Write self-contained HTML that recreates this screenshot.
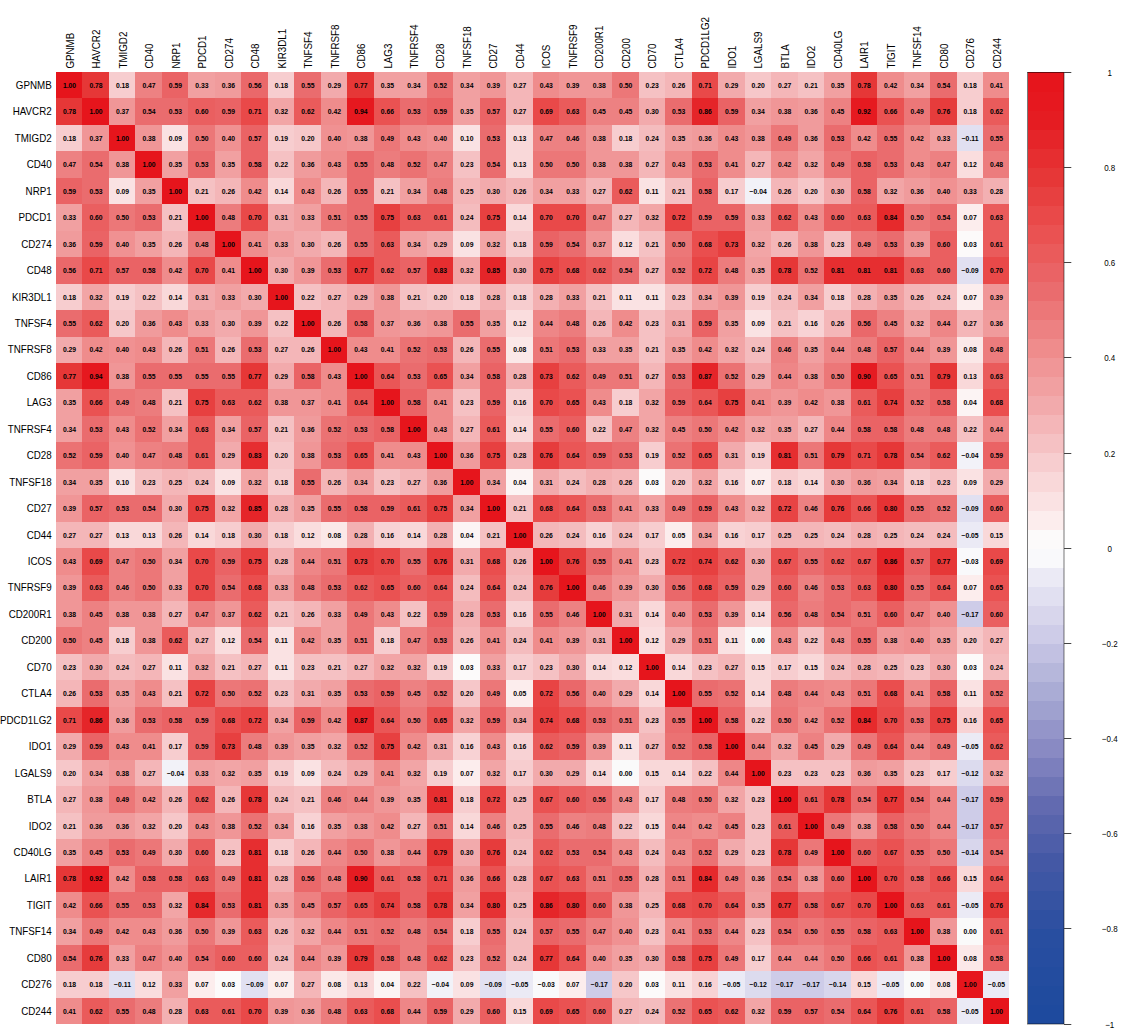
<!DOCTYPE html><html><head><meta charset="utf-8"><style>html,body{margin:0;padding:0;background:#fff;overflow:hidden;width:1121px;height:1031px;}svg{display:block;}text{font-family:"Liberation Sans",sans-serif;}</style></head><body>
<svg width="1121" height="1031" viewBox="0 0 1121 1031">
<rect width="1121" height="1031" fill="#fff"/>
<g shape-rendering="crispEdges">
<rect x="56.00" y="72.00" width="26.79" height="26.75" fill="#e6151c"/>
<rect x="82.49" y="72.00" width="26.79" height="26.75" fill="#e63737"/>
<rect x="108.97" y="72.00" width="26.79" height="26.75" fill="#f7cdcf"/>
<rect x="135.46" y="72.00" width="26.79" height="26.75" fill="#ed8182"/>
<rect x="161.94" y="72.00" width="26.79" height="26.75" fill="#ea6365"/>
<rect x="188.43" y="72.00" width="26.79" height="26.75" fill="#f1a0a1"/>
<rect x="214.91" y="72.00" width="26.79" height="26.75" fill="#f09b9c"/>
<rect x="241.40" y="72.00" width="26.79" height="26.75" fill="#ea686a"/>
<rect x="267.89" y="72.00" width="26.79" height="26.75" fill="#f7cdcf"/>
<rect x="294.37" y="72.00" width="26.79" height="26.75" fill="#ea6c6e"/>
<rect x="320.86" y="72.00" width="26.79" height="26.75" fill="#f2aaac"/>
<rect x="347.34" y="72.00" width="26.79" height="26.75" fill="#e63737"/>
<rect x="373.83" y="72.00" width="26.79" height="26.75" fill="#f1a0a1"/>
<rect x="400.31" y="72.00" width="26.79" height="26.75" fill="#f1a0a1"/>
<rect x="426.80" y="72.00" width="26.79" height="26.75" fill="#eb7273"/>
<rect x="453.29" y="72.00" width="26.79" height="26.75" fill="#f1a0a1"/>
<rect x="479.77" y="72.00" width="26.79" height="26.75" fill="#f09697"/>
<rect x="506.26" y="72.00" width="26.79" height="26.75" fill="#f4b6b8"/>
<rect x="532.74" y="72.00" width="26.79" height="26.75" fill="#ef8c8c"/>
<rect x="559.23" y="72.00" width="26.79" height="26.75" fill="#f09697"/>
<rect x="585.71" y="72.00" width="26.79" height="26.75" fill="#f09697"/>
<rect x="612.20" y="72.00" width="26.79" height="26.75" fill="#ec7778"/>
<rect x="638.69" y="72.00" width="26.79" height="26.75" fill="#f5c1c3"/>
<rect x="665.17" y="72.00" width="26.79" height="26.75" fill="#f4b6b8"/>
<rect x="691.66" y="72.00" width="26.79" height="26.75" fill="#e94949"/>
<rect x="718.14" y="72.00" width="26.79" height="26.75" fill="#f2aaac"/>
<rect x="744.63" y="72.00" width="26.79" height="26.75" fill="#f6c7c9"/>
<rect x="771.11" y="72.00" width="26.79" height="26.75" fill="#f4b6b8"/>
<rect x="797.60" y="72.00" width="26.79" height="26.75" fill="#f5c1c3"/>
<rect x="824.09" y="72.00" width="26.79" height="26.75" fill="#f1a0a1"/>
<rect x="850.57" y="72.00" width="26.79" height="26.75" fill="#e63737"/>
<rect x="877.06" y="72.00" width="26.79" height="26.75" fill="#ef8c8c"/>
<rect x="903.54" y="72.00" width="26.79" height="26.75" fill="#f1a0a1"/>
<rect x="930.03" y="72.00" width="26.79" height="26.75" fill="#ea6c6e"/>
<rect x="956.51" y="72.00" width="26.79" height="26.75" fill="#f7cdcf"/>
<rect x="983.00" y="72.00" width="26.49" height="26.75" fill="#ef8c8c"/>
<rect x="56.00" y="98.45" width="26.79" height="26.75" fill="#e63737"/>
<rect x="82.49" y="98.45" width="26.79" height="26.75" fill="#e6151c"/>
<rect x="108.97" y="98.45" width="26.79" height="26.75" fill="#f09697"/>
<rect x="135.46" y="98.45" width="26.79" height="26.75" fill="#ea6c6e"/>
<rect x="161.94" y="98.45" width="26.79" height="26.75" fill="#ea6c6e"/>
<rect x="188.43" y="98.45" width="26.79" height="26.75" fill="#ea5f60"/>
<rect x="214.91" y="98.45" width="26.79" height="26.75" fill="#ea6365"/>
<rect x="241.40" y="98.45" width="26.79" height="26.75" fill="#e94949"/>
<rect x="267.89" y="98.45" width="26.79" height="26.75" fill="#f2a5a6"/>
<rect x="294.37" y="98.45" width="26.79" height="26.75" fill="#ea5b5b"/>
<rect x="320.86" y="98.45" width="26.79" height="26.75" fill="#ef8c8c"/>
<rect x="347.34" y="98.45" width="26.79" height="26.75" fill="#e6181f"/>
<rect x="373.83" y="98.45" width="26.79" height="26.75" fill="#ea5252"/>
<rect x="400.31" y="98.45" width="26.79" height="26.75" fill="#ea6c6e"/>
<rect x="426.80" y="98.45" width="26.79" height="26.75" fill="#ea6365"/>
<rect x="453.29" y="98.45" width="26.79" height="26.75" fill="#f1a0a1"/>
<rect x="479.77" y="98.45" width="26.79" height="26.75" fill="#ea6365"/>
<rect x="506.26" y="98.45" width="26.79" height="26.75" fill="#f4b6b8"/>
<rect x="532.74" y="98.45" width="26.79" height="26.75" fill="#e94949"/>
<rect x="559.23" y="98.45" width="26.79" height="26.75" fill="#ea5b5b"/>
<rect x="585.71" y="98.45" width="26.79" height="26.75" fill="#ed8182"/>
<rect x="612.20" y="98.45" width="26.79" height="26.75" fill="#ed8182"/>
<rect x="638.69" y="98.45" width="26.79" height="26.75" fill="#f2aaac"/>
<rect x="665.17" y="98.45" width="26.79" height="26.75" fill="#ea6c6e"/>
<rect x="691.66" y="98.45" width="26.79" height="26.75" fill="#e52529"/>
<rect x="718.14" y="98.45" width="26.79" height="26.75" fill="#ea6365"/>
<rect x="744.63" y="98.45" width="26.79" height="26.75" fill="#f1a0a1"/>
<rect x="771.11" y="98.45" width="26.79" height="26.75" fill="#f09697"/>
<rect x="797.60" y="98.45" width="26.79" height="26.75" fill="#f09b9c"/>
<rect x="824.09" y="98.45" width="26.79" height="26.75" fill="#ed8182"/>
<rect x="850.57" y="98.45" width="26.79" height="26.75" fill="#e61a20"/>
<rect x="877.06" y="98.45" width="26.79" height="26.75" fill="#ea5252"/>
<rect x="903.54" y="98.45" width="26.79" height="26.75" fill="#ec7778"/>
<rect x="930.03" y="98.45" width="26.79" height="26.75" fill="#e63c3c"/>
<rect x="956.51" y="98.45" width="26.79" height="26.75" fill="#f7cdcf"/>
<rect x="983.00" y="98.45" width="26.49" height="26.75" fill="#ea5b5b"/>
<rect x="56.00" y="124.90" width="26.79" height="26.75" fill="#f7cdcf"/>
<rect x="82.49" y="124.90" width="26.79" height="26.75" fill="#f09697"/>
<rect x="108.97" y="124.90" width="26.79" height="26.75" fill="#e6151c"/>
<rect x="135.46" y="124.90" width="26.79" height="26.75" fill="#f09697"/>
<rect x="161.94" y="124.90" width="26.79" height="26.75" fill="#fae2e3"/>
<rect x="188.43" y="124.90" width="26.79" height="26.75" fill="#ec7778"/>
<rect x="214.91" y="124.90" width="26.79" height="26.75" fill="#f09192"/>
<rect x="241.40" y="124.90" width="26.79" height="26.75" fill="#ea6365"/>
<rect x="267.89" y="124.90" width="26.79" height="26.75" fill="#f7cdcf"/>
<rect x="294.37" y="124.90" width="26.79" height="26.75" fill="#f6c7c9"/>
<rect x="320.86" y="124.90" width="26.79" height="26.75" fill="#f09192"/>
<rect x="347.34" y="124.90" width="26.79" height="26.75" fill="#f09697"/>
<rect x="373.83" y="124.90" width="26.79" height="26.75" fill="#ec7778"/>
<rect x="400.31" y="124.90" width="26.79" height="26.75" fill="#ef8c8c"/>
<rect x="426.80" y="124.90" width="26.79" height="26.75" fill="#f09192"/>
<rect x="453.29" y="124.90" width="26.79" height="26.75" fill="#fae2e3"/>
<rect x="479.77" y="124.90" width="26.79" height="26.75" fill="#ea6c6e"/>
<rect x="506.26" y="124.90" width="26.79" height="26.75" fill="#f9d8d9"/>
<rect x="532.74" y="124.90" width="26.79" height="26.75" fill="#ed8182"/>
<rect x="559.23" y="124.90" width="26.79" height="26.75" fill="#ed8182"/>
<rect x="585.71" y="124.90" width="26.79" height="26.75" fill="#f09697"/>
<rect x="612.20" y="124.90" width="26.79" height="26.75" fill="#f7cdcf"/>
<rect x="638.69" y="124.90" width="26.79" height="26.75" fill="#f4bcbe"/>
<rect x="665.17" y="124.90" width="26.79" height="26.75" fill="#f1a0a1"/>
<rect x="691.66" y="124.90" width="26.79" height="26.75" fill="#f09b9c"/>
<rect x="718.14" y="124.90" width="26.79" height="26.75" fill="#ef8c8c"/>
<rect x="744.63" y="124.90" width="26.79" height="26.75" fill="#f09697"/>
<rect x="771.11" y="124.90" width="26.79" height="26.75" fill="#ec7778"/>
<rect x="797.60" y="124.90" width="26.79" height="26.75" fill="#f09b9c"/>
<rect x="824.09" y="124.90" width="26.79" height="26.75" fill="#ea6c6e"/>
<rect x="850.57" y="124.90" width="26.79" height="26.75" fill="#ef8c8c"/>
<rect x="877.06" y="124.90" width="26.79" height="26.75" fill="#ea6c6e"/>
<rect x="903.54" y="124.90" width="26.79" height="26.75" fill="#ef8c8c"/>
<rect x="930.03" y="124.90" width="26.79" height="26.75" fill="#f1a0a1"/>
<rect x="956.51" y="124.90" width="26.79" height="26.75" fill="#e1e0f1"/>
<rect x="983.00" y="124.90" width="26.49" height="26.75" fill="#ea6c6e"/>
<rect x="56.00" y="151.35" width="26.79" height="26.75" fill="#ed8182"/>
<rect x="82.49" y="151.35" width="26.79" height="26.75" fill="#ea6c6e"/>
<rect x="108.97" y="151.35" width="26.79" height="26.75" fill="#f09697"/>
<rect x="135.46" y="151.35" width="26.79" height="26.75" fill="#e6151c"/>
<rect x="161.94" y="151.35" width="26.79" height="26.75" fill="#f1a0a1"/>
<rect x="188.43" y="151.35" width="26.79" height="26.75" fill="#ea6c6e"/>
<rect x="214.91" y="151.35" width="26.79" height="26.75" fill="#f1a0a1"/>
<rect x="241.40" y="151.35" width="26.79" height="26.75" fill="#ea6365"/>
<rect x="267.89" y="151.35" width="26.79" height="26.75" fill="#f5c1c3"/>
<rect x="294.37" y="151.35" width="26.79" height="26.75" fill="#f09b9c"/>
<rect x="320.86" y="151.35" width="26.79" height="26.75" fill="#ef8c8c"/>
<rect x="347.34" y="151.35" width="26.79" height="26.75" fill="#ea6c6e"/>
<rect x="373.83" y="151.35" width="26.79" height="26.75" fill="#ec7c7d"/>
<rect x="400.31" y="151.35" width="26.79" height="26.75" fill="#eb7273"/>
<rect x="426.80" y="151.35" width="26.79" height="26.75" fill="#ed8182"/>
<rect x="453.29" y="151.35" width="26.79" height="26.75" fill="#f5c1c3"/>
<rect x="479.77" y="151.35" width="26.79" height="26.75" fill="#ea6c6e"/>
<rect x="506.26" y="151.35" width="26.79" height="26.75" fill="#f9d8d9"/>
<rect x="532.74" y="151.35" width="26.79" height="26.75" fill="#ec7778"/>
<rect x="559.23" y="151.35" width="26.79" height="26.75" fill="#ec7778"/>
<rect x="585.71" y="151.35" width="26.79" height="26.75" fill="#f09697"/>
<rect x="612.20" y="151.35" width="26.79" height="26.75" fill="#f09697"/>
<rect x="638.69" y="151.35" width="26.79" height="26.75" fill="#f4b6b8"/>
<rect x="665.17" y="151.35" width="26.79" height="26.75" fill="#ef8c8c"/>
<rect x="691.66" y="151.35" width="26.79" height="26.75" fill="#ea6c6e"/>
<rect x="718.14" y="151.35" width="26.79" height="26.75" fill="#ef8c8c"/>
<rect x="744.63" y="151.35" width="26.79" height="26.75" fill="#f4b6b8"/>
<rect x="771.11" y="151.35" width="26.79" height="26.75" fill="#ef8c8c"/>
<rect x="797.60" y="151.35" width="26.79" height="26.75" fill="#f2a5a6"/>
<rect x="824.09" y="151.35" width="26.79" height="26.75" fill="#ec7778"/>
<rect x="850.57" y="151.35" width="26.79" height="26.75" fill="#ea6365"/>
<rect x="877.06" y="151.35" width="26.79" height="26.75" fill="#ea6c6e"/>
<rect x="903.54" y="151.35" width="26.79" height="26.75" fill="#ef8c8c"/>
<rect x="930.03" y="151.35" width="26.79" height="26.75" fill="#ed8182"/>
<rect x="956.51" y="151.35" width="26.79" height="26.75" fill="#faddde"/>
<rect x="983.00" y="151.35" width="26.49" height="26.75" fill="#ec7c7d"/>
<rect x="56.00" y="177.80" width="26.79" height="26.75" fill="#ea6365"/>
<rect x="82.49" y="177.80" width="26.79" height="26.75" fill="#ea6c6e"/>
<rect x="108.97" y="177.80" width="26.79" height="26.75" fill="#fae2e3"/>
<rect x="135.46" y="177.80" width="26.79" height="26.75" fill="#f1a0a1"/>
<rect x="161.94" y="177.80" width="26.79" height="26.75" fill="#e6151c"/>
<rect x="188.43" y="177.80" width="26.79" height="26.75" fill="#f5c1c3"/>
<rect x="214.91" y="177.80" width="26.79" height="26.75" fill="#f4b6b8"/>
<rect x="241.40" y="177.80" width="26.79" height="26.75" fill="#ef8c8c"/>
<rect x="267.89" y="177.80" width="26.79" height="26.75" fill="#f9d8d9"/>
<rect x="294.37" y="177.80" width="26.79" height="26.75" fill="#ef8c8c"/>
<rect x="320.86" y="177.80" width="26.79" height="26.75" fill="#f4b6b8"/>
<rect x="347.34" y="177.80" width="26.79" height="26.75" fill="#ea6c6e"/>
<rect x="373.83" y="177.80" width="26.79" height="26.75" fill="#f5c1c3"/>
<rect x="400.31" y="177.80" width="26.79" height="26.75" fill="#f1a0a1"/>
<rect x="426.80" y="177.80" width="26.79" height="26.75" fill="#ec7c7d"/>
<rect x="453.29" y="177.80" width="26.79" height="26.75" fill="#f4b6b8"/>
<rect x="479.77" y="177.80" width="26.79" height="26.75" fill="#f2aaac"/>
<rect x="506.26" y="177.80" width="26.79" height="26.75" fill="#f4b6b8"/>
<rect x="532.74" y="177.80" width="26.79" height="26.75" fill="#f1a0a1"/>
<rect x="559.23" y="177.80" width="26.79" height="26.75" fill="#f1a0a1"/>
<rect x="585.71" y="177.80" width="26.79" height="26.75" fill="#f4b6b8"/>
<rect x="612.20" y="177.80" width="26.79" height="26.75" fill="#ea5b5b"/>
<rect x="638.69" y="177.80" width="26.79" height="26.75" fill="#fae2e3"/>
<rect x="665.17" y="177.80" width="26.79" height="26.75" fill="#f5c1c3"/>
<rect x="691.66" y="177.80" width="26.79" height="26.75" fill="#ea6365"/>
<rect x="718.14" y="177.80" width="26.79" height="26.75" fill="#f7cdcf"/>
<rect x="744.63" y="177.80" width="26.79" height="26.75" fill="#f2f2f8"/>
<rect x="771.11" y="177.80" width="26.79" height="26.75" fill="#f4b6b8"/>
<rect x="797.60" y="177.80" width="26.79" height="26.75" fill="#f6c7c9"/>
<rect x="824.09" y="177.80" width="26.79" height="26.75" fill="#f2aaac"/>
<rect x="850.57" y="177.80" width="26.79" height="26.75" fill="#ea6365"/>
<rect x="877.06" y="177.80" width="26.79" height="26.75" fill="#f2a5a6"/>
<rect x="903.54" y="177.80" width="26.79" height="26.75" fill="#f09b9c"/>
<rect x="930.03" y="177.80" width="26.79" height="26.75" fill="#f09192"/>
<rect x="956.51" y="177.80" width="26.79" height="26.75" fill="#f1a0a1"/>
<rect x="983.00" y="177.80" width="26.49" height="26.75" fill="#f3b0b2"/>
<rect x="56.00" y="204.25" width="26.79" height="26.75" fill="#f1a0a1"/>
<rect x="82.49" y="204.25" width="26.79" height="26.75" fill="#ea5f60"/>
<rect x="108.97" y="204.25" width="26.79" height="26.75" fill="#ec7778"/>
<rect x="135.46" y="204.25" width="26.79" height="26.75" fill="#ea6c6e"/>
<rect x="161.94" y="204.25" width="26.79" height="26.75" fill="#f5c1c3"/>
<rect x="188.43" y="204.25" width="26.79" height="26.75" fill="#e6151c"/>
<rect x="214.91" y="204.25" width="26.79" height="26.75" fill="#ec7c7d"/>
<rect x="241.40" y="204.25" width="26.79" height="26.75" fill="#e94949"/>
<rect x="267.89" y="204.25" width="26.79" height="26.75" fill="#f2aaac"/>
<rect x="294.37" y="204.25" width="26.79" height="26.75" fill="#f1a0a1"/>
<rect x="320.86" y="204.25" width="26.79" height="26.75" fill="#ec7778"/>
<rect x="347.34" y="204.25" width="26.79" height="26.75" fill="#ea6c6e"/>
<rect x="373.83" y="204.25" width="26.79" height="26.75" fill="#e74040"/>
<rect x="400.31" y="204.25" width="26.79" height="26.75" fill="#ea5b5b"/>
<rect x="426.80" y="204.25" width="26.79" height="26.75" fill="#ea5b5b"/>
<rect x="453.29" y="204.25" width="26.79" height="26.75" fill="#f4bcbe"/>
<rect x="479.77" y="204.25" width="26.79" height="26.75" fill="#e74040"/>
<rect x="506.26" y="204.25" width="26.79" height="26.75" fill="#f9d8d9"/>
<rect x="532.74" y="204.25" width="26.79" height="26.75" fill="#e94949"/>
<rect x="559.23" y="204.25" width="26.79" height="26.75" fill="#e94949"/>
<rect x="585.71" y="204.25" width="26.79" height="26.75" fill="#ed8182"/>
<rect x="612.20" y="204.25" width="26.79" height="26.75" fill="#f4b6b8"/>
<rect x="638.69" y="204.25" width="26.79" height="26.75" fill="#f2a5a6"/>
<rect x="665.17" y="204.25" width="26.79" height="26.75" fill="#e84444"/>
<rect x="691.66" y="204.25" width="26.79" height="26.75" fill="#ea6365"/>
<rect x="718.14" y="204.25" width="26.79" height="26.75" fill="#ea6365"/>
<rect x="744.63" y="204.25" width="26.79" height="26.75" fill="#f1a0a1"/>
<rect x="771.11" y="204.25" width="26.79" height="26.75" fill="#ea5b5b"/>
<rect x="797.60" y="204.25" width="26.79" height="26.75" fill="#ef8c8c"/>
<rect x="824.09" y="204.25" width="26.79" height="26.75" fill="#ea5f60"/>
<rect x="850.57" y="204.25" width="26.79" height="26.75" fill="#ea5b5b"/>
<rect x="877.06" y="204.25" width="26.79" height="26.75" fill="#e62a2c"/>
<rect x="903.54" y="204.25" width="26.79" height="26.75" fill="#ec7778"/>
<rect x="930.03" y="204.25" width="26.79" height="26.75" fill="#ea6c6e"/>
<rect x="956.51" y="204.25" width="26.79" height="26.75" fill="#fceded"/>
<rect x="983.00" y="204.25" width="26.49" height="26.75" fill="#ea5b5b"/>
<rect x="56.00" y="230.70" width="26.79" height="26.75" fill="#f09b9c"/>
<rect x="82.49" y="230.70" width="26.79" height="26.75" fill="#ea6365"/>
<rect x="108.97" y="230.70" width="26.79" height="26.75" fill="#f09192"/>
<rect x="135.46" y="230.70" width="26.79" height="26.75" fill="#f1a0a1"/>
<rect x="161.94" y="230.70" width="26.79" height="26.75" fill="#f4b6b8"/>
<rect x="188.43" y="230.70" width="26.79" height="26.75" fill="#ec7c7d"/>
<rect x="214.91" y="230.70" width="26.79" height="26.75" fill="#e6151c"/>
<rect x="241.40" y="230.70" width="26.79" height="26.75" fill="#ef8c8c"/>
<rect x="267.89" y="230.70" width="26.79" height="26.75" fill="#f1a0a1"/>
<rect x="294.37" y="230.70" width="26.79" height="26.75" fill="#f2aaac"/>
<rect x="320.86" y="230.70" width="26.79" height="26.75" fill="#f4b6b8"/>
<rect x="347.34" y="230.70" width="26.79" height="26.75" fill="#ea6c6e"/>
<rect x="373.83" y="230.70" width="26.79" height="26.75" fill="#ea5b5b"/>
<rect x="400.31" y="230.70" width="26.79" height="26.75" fill="#f1a0a1"/>
<rect x="426.80" y="230.70" width="26.79" height="26.75" fill="#f2aaac"/>
<rect x="453.29" y="230.70" width="26.79" height="26.75" fill="#fae2e3"/>
<rect x="479.77" y="230.70" width="26.79" height="26.75" fill="#f2a5a6"/>
<rect x="506.26" y="230.70" width="26.79" height="26.75" fill="#f7cdcf"/>
<rect x="532.74" y="230.70" width="26.79" height="26.75" fill="#ea6365"/>
<rect x="559.23" y="230.70" width="26.79" height="26.75" fill="#ea6c6e"/>
<rect x="585.71" y="230.70" width="26.79" height="26.75" fill="#f09697"/>
<rect x="612.20" y="230.70" width="26.79" height="26.75" fill="#faddde"/>
<rect x="638.69" y="230.70" width="26.79" height="26.75" fill="#f5c1c3"/>
<rect x="665.17" y="230.70" width="26.79" height="26.75" fill="#ec7778"/>
<rect x="691.66" y="230.70" width="26.79" height="26.75" fill="#ea4e4e"/>
<rect x="718.14" y="230.70" width="26.79" height="26.75" fill="#e74040"/>
<rect x="744.63" y="230.70" width="26.79" height="26.75" fill="#f2a5a6"/>
<rect x="771.11" y="230.70" width="26.79" height="26.75" fill="#f4b6b8"/>
<rect x="797.60" y="230.70" width="26.79" height="26.75" fill="#f09697"/>
<rect x="824.09" y="230.70" width="26.79" height="26.75" fill="#f5c1c3"/>
<rect x="850.57" y="230.70" width="26.79" height="26.75" fill="#ec7778"/>
<rect x="877.06" y="230.70" width="26.79" height="26.75" fill="#ea6c6e"/>
<rect x="903.54" y="230.70" width="26.79" height="26.75" fill="#f09697"/>
<rect x="930.03" y="230.70" width="26.79" height="26.75" fill="#ea5f60"/>
<rect x="956.51" y="230.70" width="26.79" height="26.75" fill="#fcfafa"/>
<rect x="983.00" y="230.70" width="26.49" height="26.75" fill="#ea5b5b"/>
<rect x="56.00" y="257.15" width="26.79" height="26.75" fill="#ea686a"/>
<rect x="82.49" y="257.15" width="26.79" height="26.75" fill="#e94949"/>
<rect x="108.97" y="257.15" width="26.79" height="26.75" fill="#ea6365"/>
<rect x="135.46" y="257.15" width="26.79" height="26.75" fill="#ea6365"/>
<rect x="161.94" y="257.15" width="26.79" height="26.75" fill="#ef8c8c"/>
<rect x="188.43" y="257.15" width="26.79" height="26.75" fill="#e94949"/>
<rect x="214.91" y="257.15" width="26.79" height="26.75" fill="#ef8c8c"/>
<rect x="241.40" y="257.15" width="26.79" height="26.75" fill="#e6151c"/>
<rect x="267.89" y="257.15" width="26.79" height="26.75" fill="#f2aaac"/>
<rect x="294.37" y="257.15" width="26.79" height="26.75" fill="#f09697"/>
<rect x="320.86" y="257.15" width="26.79" height="26.75" fill="#ea6c6e"/>
<rect x="347.34" y="257.15" width="26.79" height="26.75" fill="#e63737"/>
<rect x="373.83" y="257.15" width="26.79" height="26.75" fill="#ea5b5b"/>
<rect x="400.31" y="257.15" width="26.79" height="26.75" fill="#ea6365"/>
<rect x="426.80" y="257.15" width="26.79" height="26.75" fill="#e62e30"/>
<rect x="453.29" y="257.15" width="26.79" height="26.75" fill="#f2a5a6"/>
<rect x="479.77" y="257.15" width="26.79" height="26.75" fill="#e52529"/>
<rect x="506.26" y="257.15" width="26.79" height="26.75" fill="#f2aaac"/>
<rect x="532.74" y="257.15" width="26.79" height="26.75" fill="#e74040"/>
<rect x="559.23" y="257.15" width="26.79" height="26.75" fill="#ea4e4e"/>
<rect x="585.71" y="257.15" width="26.79" height="26.75" fill="#ea5b5b"/>
<rect x="612.20" y="257.15" width="26.79" height="26.75" fill="#ea6c6e"/>
<rect x="638.69" y="257.15" width="26.79" height="26.75" fill="#f4b6b8"/>
<rect x="665.17" y="257.15" width="26.79" height="26.75" fill="#eb7273"/>
<rect x="691.66" y="257.15" width="26.79" height="26.75" fill="#e84444"/>
<rect x="718.14" y="257.15" width="26.79" height="26.75" fill="#ec7c7d"/>
<rect x="744.63" y="257.15" width="26.79" height="26.75" fill="#f1a0a1"/>
<rect x="771.11" y="257.15" width="26.79" height="26.75" fill="#e63737"/>
<rect x="797.60" y="257.15" width="26.79" height="26.75" fill="#eb7273"/>
<rect x="824.09" y="257.15" width="26.79" height="26.75" fill="#e62e30"/>
<rect x="850.57" y="257.15" width="26.79" height="26.75" fill="#e62e30"/>
<rect x="877.06" y="257.15" width="26.79" height="26.75" fill="#e62e30"/>
<rect x="903.54" y="257.15" width="26.79" height="26.75" fill="#ea5b5b"/>
<rect x="930.03" y="257.15" width="26.79" height="26.75" fill="#ea5f60"/>
<rect x="956.51" y="257.15" width="26.79" height="26.75" fill="#e1e0f1"/>
<rect x="983.00" y="257.15" width="26.49" height="26.75" fill="#e94949"/>
<rect x="56.00" y="283.60" width="26.79" height="26.75" fill="#f7cdcf"/>
<rect x="82.49" y="283.60" width="26.79" height="26.75" fill="#f2a5a6"/>
<rect x="108.97" y="283.60" width="26.79" height="26.75" fill="#f7cdcf"/>
<rect x="135.46" y="283.60" width="26.79" height="26.75" fill="#f5c1c3"/>
<rect x="161.94" y="283.60" width="26.79" height="26.75" fill="#f9d8d9"/>
<rect x="188.43" y="283.60" width="26.79" height="26.75" fill="#f2aaac"/>
<rect x="214.91" y="283.60" width="26.79" height="26.75" fill="#f1a0a1"/>
<rect x="241.40" y="283.60" width="26.79" height="26.75" fill="#f2aaac"/>
<rect x="267.89" y="283.60" width="26.79" height="26.75" fill="#e6151c"/>
<rect x="294.37" y="283.60" width="26.79" height="26.75" fill="#f5c1c3"/>
<rect x="320.86" y="283.60" width="26.79" height="26.75" fill="#f4b6b8"/>
<rect x="347.34" y="283.60" width="26.79" height="26.75" fill="#f2aaac"/>
<rect x="373.83" y="283.60" width="26.79" height="26.75" fill="#f09697"/>
<rect x="400.31" y="283.60" width="26.79" height="26.75" fill="#f5c1c3"/>
<rect x="426.80" y="283.60" width="26.79" height="26.75" fill="#f6c7c9"/>
<rect x="453.29" y="283.60" width="26.79" height="26.75" fill="#f7cdcf"/>
<rect x="479.77" y="283.60" width="26.79" height="26.75" fill="#f3b0b2"/>
<rect x="506.26" y="283.60" width="26.79" height="26.75" fill="#f7cdcf"/>
<rect x="532.74" y="283.60" width="26.79" height="26.75" fill="#f3b0b2"/>
<rect x="559.23" y="283.60" width="26.79" height="26.75" fill="#f1a0a1"/>
<rect x="585.71" y="283.60" width="26.79" height="26.75" fill="#f5c1c3"/>
<rect x="612.20" y="283.60" width="26.79" height="26.75" fill="#fae2e3"/>
<rect x="638.69" y="283.60" width="26.79" height="26.75" fill="#fae2e3"/>
<rect x="665.17" y="283.60" width="26.79" height="26.75" fill="#f5c1c3"/>
<rect x="691.66" y="283.60" width="26.79" height="26.75" fill="#f1a0a1"/>
<rect x="718.14" y="283.60" width="26.79" height="26.75" fill="#f09697"/>
<rect x="744.63" y="283.60" width="26.79" height="26.75" fill="#f7cdcf"/>
<rect x="771.11" y="283.60" width="26.79" height="26.75" fill="#f4bcbe"/>
<rect x="797.60" y="283.60" width="26.79" height="26.75" fill="#f1a0a1"/>
<rect x="824.09" y="283.60" width="26.79" height="26.75" fill="#f7cdcf"/>
<rect x="850.57" y="283.60" width="26.79" height="26.75" fill="#f3b0b2"/>
<rect x="877.06" y="283.60" width="26.79" height="26.75" fill="#f1a0a1"/>
<rect x="903.54" y="283.60" width="26.79" height="26.75" fill="#f4b6b8"/>
<rect x="930.03" y="283.60" width="26.79" height="26.75" fill="#f4bcbe"/>
<rect x="956.51" y="283.60" width="26.79" height="26.75" fill="#fceded"/>
<rect x="983.00" y="283.60" width="26.49" height="26.75" fill="#f09697"/>
<rect x="56.00" y="310.05" width="26.79" height="26.75" fill="#ea6c6e"/>
<rect x="82.49" y="310.05" width="26.79" height="26.75" fill="#ea5b5b"/>
<rect x="108.97" y="310.05" width="26.79" height="26.75" fill="#f6c7c9"/>
<rect x="135.46" y="310.05" width="26.79" height="26.75" fill="#f09b9c"/>
<rect x="161.94" y="310.05" width="26.79" height="26.75" fill="#ef8c8c"/>
<rect x="188.43" y="310.05" width="26.79" height="26.75" fill="#f1a0a1"/>
<rect x="214.91" y="310.05" width="26.79" height="26.75" fill="#f2aaac"/>
<rect x="241.40" y="310.05" width="26.79" height="26.75" fill="#f09697"/>
<rect x="267.89" y="310.05" width="26.79" height="26.75" fill="#f5c1c3"/>
<rect x="294.37" y="310.05" width="26.79" height="26.75" fill="#e6151c"/>
<rect x="320.86" y="310.05" width="26.79" height="26.75" fill="#f4b6b8"/>
<rect x="347.34" y="310.05" width="26.79" height="26.75" fill="#ea6365"/>
<rect x="373.83" y="310.05" width="26.79" height="26.75" fill="#f09697"/>
<rect x="400.31" y="310.05" width="26.79" height="26.75" fill="#f09b9c"/>
<rect x="426.80" y="310.05" width="26.79" height="26.75" fill="#f09697"/>
<rect x="453.29" y="310.05" width="26.79" height="26.75" fill="#ea6c6e"/>
<rect x="479.77" y="310.05" width="26.79" height="26.75" fill="#f1a0a1"/>
<rect x="506.26" y="310.05" width="26.79" height="26.75" fill="#faddde"/>
<rect x="532.74" y="310.05" width="26.79" height="26.75" fill="#ee8687"/>
<rect x="559.23" y="310.05" width="26.79" height="26.75" fill="#ec7c7d"/>
<rect x="585.71" y="310.05" width="26.79" height="26.75" fill="#f4b6b8"/>
<rect x="612.20" y="310.05" width="26.79" height="26.75" fill="#ef8c8c"/>
<rect x="638.69" y="310.05" width="26.79" height="26.75" fill="#f5c1c3"/>
<rect x="665.17" y="310.05" width="26.79" height="26.75" fill="#f2aaac"/>
<rect x="691.66" y="310.05" width="26.79" height="26.75" fill="#ea6365"/>
<rect x="718.14" y="310.05" width="26.79" height="26.75" fill="#f1a0a1"/>
<rect x="744.63" y="310.05" width="26.79" height="26.75" fill="#fae2e3"/>
<rect x="771.11" y="310.05" width="26.79" height="26.75" fill="#f5c1c3"/>
<rect x="797.60" y="310.05" width="26.79" height="26.75" fill="#f8d2d4"/>
<rect x="824.09" y="310.05" width="26.79" height="26.75" fill="#f4b6b8"/>
<rect x="850.57" y="310.05" width="26.79" height="26.75" fill="#ea686a"/>
<rect x="877.06" y="310.05" width="26.79" height="26.75" fill="#ed8182"/>
<rect x="903.54" y="310.05" width="26.79" height="26.75" fill="#f2a5a6"/>
<rect x="930.03" y="310.05" width="26.79" height="26.75" fill="#ee8687"/>
<rect x="956.51" y="310.05" width="26.79" height="26.75" fill="#f4b6b8"/>
<rect x="983.00" y="310.05" width="26.49" height="26.75" fill="#f09b9c"/>
<rect x="56.00" y="336.50" width="26.79" height="26.75" fill="#f2aaac"/>
<rect x="82.49" y="336.50" width="26.79" height="26.75" fill="#ef8c8c"/>
<rect x="108.97" y="336.50" width="26.79" height="26.75" fill="#f09192"/>
<rect x="135.46" y="336.50" width="26.79" height="26.75" fill="#ef8c8c"/>
<rect x="161.94" y="336.50" width="26.79" height="26.75" fill="#f4b6b8"/>
<rect x="188.43" y="336.50" width="26.79" height="26.75" fill="#ec7778"/>
<rect x="214.91" y="336.50" width="26.79" height="26.75" fill="#f4b6b8"/>
<rect x="241.40" y="336.50" width="26.79" height="26.75" fill="#ea6c6e"/>
<rect x="267.89" y="336.50" width="26.79" height="26.75" fill="#f4b6b8"/>
<rect x="294.37" y="336.50" width="26.79" height="26.75" fill="#f4b6b8"/>
<rect x="320.86" y="336.50" width="26.79" height="26.75" fill="#e6151c"/>
<rect x="347.34" y="336.50" width="26.79" height="26.75" fill="#ef8c8c"/>
<rect x="373.83" y="336.50" width="26.79" height="26.75" fill="#ef8c8c"/>
<rect x="400.31" y="336.50" width="26.79" height="26.75" fill="#eb7273"/>
<rect x="426.80" y="336.50" width="26.79" height="26.75" fill="#ea6c6e"/>
<rect x="453.29" y="336.50" width="26.79" height="26.75" fill="#f4b6b8"/>
<rect x="479.77" y="336.50" width="26.79" height="26.75" fill="#ea6c6e"/>
<rect x="506.26" y="336.50" width="26.79" height="26.75" fill="#fbe8e8"/>
<rect x="532.74" y="336.50" width="26.79" height="26.75" fill="#ec7778"/>
<rect x="559.23" y="336.50" width="26.79" height="26.75" fill="#ea6c6e"/>
<rect x="585.71" y="336.50" width="26.79" height="26.75" fill="#f1a0a1"/>
<rect x="612.20" y="336.50" width="26.79" height="26.75" fill="#f1a0a1"/>
<rect x="638.69" y="336.50" width="26.79" height="26.75" fill="#f5c1c3"/>
<rect x="665.17" y="336.50" width="26.79" height="26.75" fill="#f1a0a1"/>
<rect x="691.66" y="336.50" width="26.79" height="26.75" fill="#ef8c8c"/>
<rect x="718.14" y="336.50" width="26.79" height="26.75" fill="#f2a5a6"/>
<rect x="744.63" y="336.50" width="26.79" height="26.75" fill="#f4bcbe"/>
<rect x="771.11" y="336.50" width="26.79" height="26.75" fill="#ed8182"/>
<rect x="797.60" y="336.50" width="26.79" height="26.75" fill="#f1a0a1"/>
<rect x="824.09" y="336.50" width="26.79" height="26.75" fill="#ee8687"/>
<rect x="850.57" y="336.50" width="26.79" height="26.75" fill="#ec7c7d"/>
<rect x="877.06" y="336.50" width="26.79" height="26.75" fill="#ea6365"/>
<rect x="903.54" y="336.50" width="26.79" height="26.75" fill="#ee8687"/>
<rect x="930.03" y="336.50" width="26.79" height="26.75" fill="#f09697"/>
<rect x="956.51" y="336.50" width="26.79" height="26.75" fill="#fbe8e8"/>
<rect x="983.00" y="336.50" width="26.49" height="26.75" fill="#ec7c7d"/>
<rect x="56.00" y="362.95" width="26.79" height="26.75" fill="#e63737"/>
<rect x="82.49" y="362.95" width="26.79" height="26.75" fill="#e6181f"/>
<rect x="108.97" y="362.95" width="26.79" height="26.75" fill="#f09697"/>
<rect x="135.46" y="362.95" width="26.79" height="26.75" fill="#ea6c6e"/>
<rect x="161.94" y="362.95" width="26.79" height="26.75" fill="#ea6c6e"/>
<rect x="188.43" y="362.95" width="26.79" height="26.75" fill="#ea6c6e"/>
<rect x="214.91" y="362.95" width="26.79" height="26.75" fill="#ea6c6e"/>
<rect x="241.40" y="362.95" width="26.79" height="26.75" fill="#e63737"/>
<rect x="267.89" y="362.95" width="26.79" height="26.75" fill="#f2aaac"/>
<rect x="294.37" y="362.95" width="26.79" height="26.75" fill="#ea6365"/>
<rect x="320.86" y="362.95" width="26.79" height="26.75" fill="#ef8c8c"/>
<rect x="347.34" y="362.95" width="26.79" height="26.75" fill="#e6151c"/>
<rect x="373.83" y="362.95" width="26.79" height="26.75" fill="#ea5656"/>
<rect x="400.31" y="362.95" width="26.79" height="26.75" fill="#ea6c6e"/>
<rect x="426.80" y="362.95" width="26.79" height="26.75" fill="#ea5252"/>
<rect x="453.29" y="362.95" width="26.79" height="26.75" fill="#f1a0a1"/>
<rect x="479.77" y="362.95" width="26.79" height="26.75" fill="#ea6365"/>
<rect x="506.26" y="362.95" width="26.79" height="26.75" fill="#f3b0b2"/>
<rect x="532.74" y="362.95" width="26.79" height="26.75" fill="#e74040"/>
<rect x="559.23" y="362.95" width="26.79" height="26.75" fill="#ea5b5b"/>
<rect x="585.71" y="362.95" width="26.79" height="26.75" fill="#ec7778"/>
<rect x="612.20" y="362.95" width="26.79" height="26.75" fill="#ec7778"/>
<rect x="638.69" y="362.95" width="26.79" height="26.75" fill="#f4b6b8"/>
<rect x="665.17" y="362.95" width="26.79" height="26.75" fill="#ea6c6e"/>
<rect x="691.66" y="362.95" width="26.79" height="26.75" fill="#e52529"/>
<rect x="718.14" y="362.95" width="26.79" height="26.75" fill="#eb7273"/>
<rect x="744.63" y="362.95" width="26.79" height="26.75" fill="#f2aaac"/>
<rect x="771.11" y="362.95" width="26.79" height="26.75" fill="#ee8687"/>
<rect x="797.60" y="362.95" width="26.79" height="26.75" fill="#f09697"/>
<rect x="824.09" y="362.95" width="26.79" height="26.75" fill="#ec7778"/>
<rect x="850.57" y="362.95" width="26.79" height="26.75" fill="#e51c22"/>
<rect x="877.06" y="362.95" width="26.79" height="26.75" fill="#ea5252"/>
<rect x="903.54" y="362.95" width="26.79" height="26.75" fill="#ec7778"/>
<rect x="930.03" y="362.95" width="26.79" height="26.75" fill="#e63737"/>
<rect x="956.51" y="362.95" width="26.79" height="26.75" fill="#f9d8d9"/>
<rect x="983.00" y="362.95" width="26.49" height="26.75" fill="#ea5b5b"/>
<rect x="56.00" y="389.40" width="26.79" height="26.75" fill="#f1a0a1"/>
<rect x="82.49" y="389.40" width="26.79" height="26.75" fill="#ea5252"/>
<rect x="108.97" y="389.40" width="26.79" height="26.75" fill="#ec7778"/>
<rect x="135.46" y="389.40" width="26.79" height="26.75" fill="#ec7c7d"/>
<rect x="161.94" y="389.40" width="26.79" height="26.75" fill="#f5c1c3"/>
<rect x="188.43" y="389.40" width="26.79" height="26.75" fill="#e74040"/>
<rect x="214.91" y="389.40" width="26.79" height="26.75" fill="#ea5b5b"/>
<rect x="241.40" y="389.40" width="26.79" height="26.75" fill="#ea5b5b"/>
<rect x="267.89" y="389.40" width="26.79" height="26.75" fill="#f09697"/>
<rect x="294.37" y="389.40" width="26.79" height="26.75" fill="#f09697"/>
<rect x="320.86" y="389.40" width="26.79" height="26.75" fill="#ef8c8c"/>
<rect x="347.34" y="389.40" width="26.79" height="26.75" fill="#ea5656"/>
<rect x="373.83" y="389.40" width="26.79" height="26.75" fill="#e6151c"/>
<rect x="400.31" y="389.40" width="26.79" height="26.75" fill="#ea6365"/>
<rect x="426.80" y="389.40" width="26.79" height="26.75" fill="#ef8c8c"/>
<rect x="453.29" y="389.40" width="26.79" height="26.75" fill="#f5c1c3"/>
<rect x="479.77" y="389.40" width="26.79" height="26.75" fill="#ea6365"/>
<rect x="506.26" y="389.40" width="26.79" height="26.75" fill="#f8d2d4"/>
<rect x="532.74" y="389.40" width="26.79" height="26.75" fill="#e94949"/>
<rect x="559.23" y="389.40" width="26.79" height="26.75" fill="#ea5252"/>
<rect x="585.71" y="389.40" width="26.79" height="26.75" fill="#ef8c8c"/>
<rect x="612.20" y="389.40" width="26.79" height="26.75" fill="#f7cdcf"/>
<rect x="638.69" y="389.40" width="26.79" height="26.75" fill="#f2a5a6"/>
<rect x="665.17" y="389.40" width="26.79" height="26.75" fill="#ea6365"/>
<rect x="691.66" y="389.40" width="26.79" height="26.75" fill="#ea5656"/>
<rect x="718.14" y="389.40" width="26.79" height="26.75" fill="#e74040"/>
<rect x="744.63" y="389.40" width="26.79" height="26.75" fill="#ef8c8c"/>
<rect x="771.11" y="389.40" width="26.79" height="26.75" fill="#f09697"/>
<rect x="797.60" y="389.40" width="26.79" height="26.75" fill="#ef8c8c"/>
<rect x="824.09" y="389.40" width="26.79" height="26.75" fill="#f09697"/>
<rect x="850.57" y="389.40" width="26.79" height="26.75" fill="#ea5b5b"/>
<rect x="877.06" y="389.40" width="26.79" height="26.75" fill="#e74040"/>
<rect x="903.54" y="389.40" width="26.79" height="26.75" fill="#eb7273"/>
<rect x="930.03" y="389.40" width="26.79" height="26.75" fill="#ea6365"/>
<rect x="956.51" y="389.40" width="26.79" height="26.75" fill="#fcf4f4"/>
<rect x="983.00" y="389.40" width="26.49" height="26.75" fill="#ea4e4e"/>
<rect x="56.00" y="415.85" width="26.79" height="26.75" fill="#f1a0a1"/>
<rect x="82.49" y="415.85" width="26.79" height="26.75" fill="#ea6c6e"/>
<rect x="108.97" y="415.85" width="26.79" height="26.75" fill="#ef8c8c"/>
<rect x="135.46" y="415.85" width="26.79" height="26.75" fill="#eb7273"/>
<rect x="161.94" y="415.85" width="26.79" height="26.75" fill="#f1a0a1"/>
<rect x="188.43" y="415.85" width="26.79" height="26.75" fill="#ea5b5b"/>
<rect x="214.91" y="415.85" width="26.79" height="26.75" fill="#f1a0a1"/>
<rect x="241.40" y="415.85" width="26.79" height="26.75" fill="#ea6365"/>
<rect x="267.89" y="415.85" width="26.79" height="26.75" fill="#f5c1c3"/>
<rect x="294.37" y="415.85" width="26.79" height="26.75" fill="#f09b9c"/>
<rect x="320.86" y="415.85" width="26.79" height="26.75" fill="#eb7273"/>
<rect x="347.34" y="415.85" width="26.79" height="26.75" fill="#ea6c6e"/>
<rect x="373.83" y="415.85" width="26.79" height="26.75" fill="#ea6365"/>
<rect x="400.31" y="415.85" width="26.79" height="26.75" fill="#e6151c"/>
<rect x="426.80" y="415.85" width="26.79" height="26.75" fill="#ef8c8c"/>
<rect x="453.29" y="415.85" width="26.79" height="26.75" fill="#f4b6b8"/>
<rect x="479.77" y="415.85" width="26.79" height="26.75" fill="#ea5b5b"/>
<rect x="506.26" y="415.85" width="26.79" height="26.75" fill="#f9d8d9"/>
<rect x="532.74" y="415.85" width="26.79" height="26.75" fill="#ea6c6e"/>
<rect x="559.23" y="415.85" width="26.79" height="26.75" fill="#ea5f60"/>
<rect x="585.71" y="415.85" width="26.79" height="26.75" fill="#f5c1c3"/>
<rect x="612.20" y="415.85" width="26.79" height="26.75" fill="#ed8182"/>
<rect x="638.69" y="415.85" width="26.79" height="26.75" fill="#f2a5a6"/>
<rect x="665.17" y="415.85" width="26.79" height="26.75" fill="#ed8182"/>
<rect x="691.66" y="415.85" width="26.79" height="26.75" fill="#ec7778"/>
<rect x="718.14" y="415.85" width="26.79" height="26.75" fill="#ef8c8c"/>
<rect x="744.63" y="415.85" width="26.79" height="26.75" fill="#f2a5a6"/>
<rect x="771.11" y="415.85" width="26.79" height="26.75" fill="#f1a0a1"/>
<rect x="797.60" y="415.85" width="26.79" height="26.75" fill="#f4b6b8"/>
<rect x="824.09" y="415.85" width="26.79" height="26.75" fill="#ee8687"/>
<rect x="850.57" y="415.85" width="26.79" height="26.75" fill="#ea6365"/>
<rect x="877.06" y="415.85" width="26.79" height="26.75" fill="#ea6365"/>
<rect x="903.54" y="415.85" width="26.79" height="26.75" fill="#ec7c7d"/>
<rect x="930.03" y="415.85" width="26.79" height="26.75" fill="#ec7c7d"/>
<rect x="956.51" y="415.85" width="26.79" height="26.75" fill="#f5c1c3"/>
<rect x="983.00" y="415.85" width="26.49" height="26.75" fill="#ee8687"/>
<rect x="56.00" y="442.30" width="26.79" height="26.75" fill="#eb7273"/>
<rect x="82.49" y="442.30" width="26.79" height="26.75" fill="#ea6365"/>
<rect x="108.97" y="442.30" width="26.79" height="26.75" fill="#f09192"/>
<rect x="135.46" y="442.30" width="26.79" height="26.75" fill="#ed8182"/>
<rect x="161.94" y="442.30" width="26.79" height="26.75" fill="#ec7c7d"/>
<rect x="188.43" y="442.30" width="26.79" height="26.75" fill="#ea5b5b"/>
<rect x="214.91" y="442.30" width="26.79" height="26.75" fill="#f2aaac"/>
<rect x="241.40" y="442.30" width="26.79" height="26.75" fill="#e62e30"/>
<rect x="267.89" y="442.30" width="26.79" height="26.75" fill="#f6c7c9"/>
<rect x="294.37" y="442.30" width="26.79" height="26.75" fill="#f09697"/>
<rect x="320.86" y="442.30" width="26.79" height="26.75" fill="#ea6c6e"/>
<rect x="347.34" y="442.30" width="26.79" height="26.75" fill="#ea5252"/>
<rect x="373.83" y="442.30" width="26.79" height="26.75" fill="#ef8c8c"/>
<rect x="400.31" y="442.30" width="26.79" height="26.75" fill="#ef8c8c"/>
<rect x="426.80" y="442.30" width="26.79" height="26.75" fill="#e6151c"/>
<rect x="453.29" y="442.30" width="26.79" height="26.75" fill="#f09b9c"/>
<rect x="479.77" y="442.30" width="26.79" height="26.75" fill="#e74040"/>
<rect x="506.26" y="442.30" width="26.79" height="26.75" fill="#f3b0b2"/>
<rect x="532.74" y="442.30" width="26.79" height="26.75" fill="#e63c3c"/>
<rect x="559.23" y="442.30" width="26.79" height="26.75" fill="#ea5656"/>
<rect x="585.71" y="442.30" width="26.79" height="26.75" fill="#ea6365"/>
<rect x="612.20" y="442.30" width="26.79" height="26.75" fill="#ea6c6e"/>
<rect x="638.69" y="442.30" width="26.79" height="26.75" fill="#f7cdcf"/>
<rect x="665.17" y="442.30" width="26.79" height="26.75" fill="#eb7273"/>
<rect x="691.66" y="442.30" width="26.79" height="26.75" fill="#ea5252"/>
<rect x="718.14" y="442.30" width="26.79" height="26.75" fill="#f2aaac"/>
<rect x="744.63" y="442.30" width="26.79" height="26.75" fill="#f7cdcf"/>
<rect x="771.11" y="442.30" width="26.79" height="26.75" fill="#e62e30"/>
<rect x="797.60" y="442.30" width="26.79" height="26.75" fill="#ec7778"/>
<rect x="824.09" y="442.30" width="26.79" height="26.75" fill="#e63737"/>
<rect x="850.57" y="442.30" width="26.79" height="26.75" fill="#e94949"/>
<rect x="877.06" y="442.30" width="26.79" height="26.75" fill="#e63737"/>
<rect x="903.54" y="442.30" width="26.79" height="26.75" fill="#ea6c6e"/>
<rect x="930.03" y="442.30" width="26.79" height="26.75" fill="#ea5b5b"/>
<rect x="956.51" y="442.30" width="26.79" height="26.75" fill="#f2f2f8"/>
<rect x="983.00" y="442.30" width="26.49" height="26.75" fill="#ea6365"/>
<rect x="56.00" y="468.75" width="26.79" height="26.75" fill="#f1a0a1"/>
<rect x="82.49" y="468.75" width="26.79" height="26.75" fill="#f1a0a1"/>
<rect x="108.97" y="468.75" width="26.79" height="26.75" fill="#fae2e3"/>
<rect x="135.46" y="468.75" width="26.79" height="26.75" fill="#f5c1c3"/>
<rect x="161.94" y="468.75" width="26.79" height="26.75" fill="#f4b6b8"/>
<rect x="188.43" y="468.75" width="26.79" height="26.75" fill="#f4bcbe"/>
<rect x="214.91" y="468.75" width="26.79" height="26.75" fill="#fae2e3"/>
<rect x="241.40" y="468.75" width="26.79" height="26.75" fill="#f2a5a6"/>
<rect x="267.89" y="468.75" width="26.79" height="26.75" fill="#f7cdcf"/>
<rect x="294.37" y="468.75" width="26.79" height="26.75" fill="#ea6c6e"/>
<rect x="320.86" y="468.75" width="26.79" height="26.75" fill="#f4b6b8"/>
<rect x="347.34" y="468.75" width="26.79" height="26.75" fill="#f1a0a1"/>
<rect x="373.83" y="468.75" width="26.79" height="26.75" fill="#f5c1c3"/>
<rect x="400.31" y="468.75" width="26.79" height="26.75" fill="#f4b6b8"/>
<rect x="426.80" y="468.75" width="26.79" height="26.75" fill="#f09b9c"/>
<rect x="453.29" y="468.75" width="26.79" height="26.75" fill="#e6151c"/>
<rect x="479.77" y="468.75" width="26.79" height="26.75" fill="#f1a0a1"/>
<rect x="506.26" y="468.75" width="26.79" height="26.75" fill="#fcf4f4"/>
<rect x="532.74" y="468.75" width="26.79" height="26.75" fill="#f2aaac"/>
<rect x="559.23" y="468.75" width="26.79" height="26.75" fill="#f4bcbe"/>
<rect x="585.71" y="468.75" width="26.79" height="26.75" fill="#f3b0b2"/>
<rect x="612.20" y="468.75" width="26.79" height="26.75" fill="#f4b6b8"/>
<rect x="638.69" y="468.75" width="26.79" height="26.75" fill="#fcfafa"/>
<rect x="665.17" y="468.75" width="26.79" height="26.75" fill="#f6c7c9"/>
<rect x="691.66" y="468.75" width="26.79" height="26.75" fill="#f2a5a6"/>
<rect x="718.14" y="468.75" width="26.79" height="26.75" fill="#f8d2d4"/>
<rect x="744.63" y="468.75" width="26.79" height="26.75" fill="#fceded"/>
<rect x="771.11" y="468.75" width="26.79" height="26.75" fill="#f7cdcf"/>
<rect x="797.60" y="468.75" width="26.79" height="26.75" fill="#f9d8d9"/>
<rect x="824.09" y="468.75" width="26.79" height="26.75" fill="#f2aaac"/>
<rect x="850.57" y="468.75" width="26.79" height="26.75" fill="#f09b9c"/>
<rect x="877.06" y="468.75" width="26.79" height="26.75" fill="#f1a0a1"/>
<rect x="903.54" y="468.75" width="26.79" height="26.75" fill="#f7cdcf"/>
<rect x="930.03" y="468.75" width="26.79" height="26.75" fill="#f5c1c3"/>
<rect x="956.51" y="468.75" width="26.79" height="26.75" fill="#fae2e3"/>
<rect x="983.00" y="468.75" width="26.49" height="26.75" fill="#f2aaac"/>
<rect x="56.00" y="495.20" width="26.79" height="26.75" fill="#f09697"/>
<rect x="82.49" y="495.20" width="26.79" height="26.75" fill="#ea6365"/>
<rect x="108.97" y="495.20" width="26.79" height="26.75" fill="#ea6c6e"/>
<rect x="135.46" y="495.20" width="26.79" height="26.75" fill="#ea6c6e"/>
<rect x="161.94" y="495.20" width="26.79" height="26.75" fill="#f2aaac"/>
<rect x="188.43" y="495.20" width="26.79" height="26.75" fill="#e74040"/>
<rect x="214.91" y="495.20" width="26.79" height="26.75" fill="#f2a5a6"/>
<rect x="241.40" y="495.20" width="26.79" height="26.75" fill="#e52529"/>
<rect x="267.89" y="495.20" width="26.79" height="26.75" fill="#f3b0b2"/>
<rect x="294.37" y="495.20" width="26.79" height="26.75" fill="#f1a0a1"/>
<rect x="320.86" y="495.20" width="26.79" height="26.75" fill="#ea6c6e"/>
<rect x="347.34" y="495.20" width="26.79" height="26.75" fill="#ea6365"/>
<rect x="373.83" y="495.20" width="26.79" height="26.75" fill="#ea6365"/>
<rect x="400.31" y="495.20" width="26.79" height="26.75" fill="#ea5b5b"/>
<rect x="426.80" y="495.20" width="26.79" height="26.75" fill="#e74040"/>
<rect x="453.29" y="495.20" width="26.79" height="26.75" fill="#f1a0a1"/>
<rect x="479.77" y="495.20" width="26.79" height="26.75" fill="#e6151c"/>
<rect x="506.26" y="495.20" width="26.79" height="26.75" fill="#f5c1c3"/>
<rect x="532.74" y="495.20" width="26.79" height="26.75" fill="#ea4e4e"/>
<rect x="559.23" y="495.20" width="26.79" height="26.75" fill="#ea5656"/>
<rect x="585.71" y="495.20" width="26.79" height="26.75" fill="#ea6c6e"/>
<rect x="612.20" y="495.20" width="26.79" height="26.75" fill="#ef8c8c"/>
<rect x="638.69" y="495.20" width="26.79" height="26.75" fill="#f1a0a1"/>
<rect x="665.17" y="495.20" width="26.79" height="26.75" fill="#ec7778"/>
<rect x="691.66" y="495.20" width="26.79" height="26.75" fill="#ea6365"/>
<rect x="718.14" y="495.20" width="26.79" height="26.75" fill="#ef8c8c"/>
<rect x="744.63" y="495.20" width="26.79" height="26.75" fill="#f2a5a6"/>
<rect x="771.11" y="495.20" width="26.79" height="26.75" fill="#e84444"/>
<rect x="797.60" y="495.20" width="26.79" height="26.75" fill="#ed8182"/>
<rect x="824.09" y="495.20" width="26.79" height="26.75" fill="#e63c3c"/>
<rect x="850.57" y="495.20" width="26.79" height="26.75" fill="#ea5252"/>
<rect x="877.06" y="495.20" width="26.79" height="26.75" fill="#e63234"/>
<rect x="903.54" y="495.20" width="26.79" height="26.75" fill="#ea6c6e"/>
<rect x="930.03" y="495.20" width="26.79" height="26.75" fill="#eb7273"/>
<rect x="956.51" y="495.20" width="26.79" height="26.75" fill="#e1e0f1"/>
<rect x="983.00" y="495.20" width="26.49" height="26.75" fill="#ea5f60"/>
<rect x="56.00" y="521.65" width="26.79" height="26.75" fill="#f4b6b8"/>
<rect x="82.49" y="521.65" width="26.79" height="26.75" fill="#f4b6b8"/>
<rect x="108.97" y="521.65" width="26.79" height="26.75" fill="#f9d8d9"/>
<rect x="135.46" y="521.65" width="26.79" height="26.75" fill="#f9d8d9"/>
<rect x="161.94" y="521.65" width="26.79" height="26.75" fill="#f4b6b8"/>
<rect x="188.43" y="521.65" width="26.79" height="26.75" fill="#f9d8d9"/>
<rect x="214.91" y="521.65" width="26.79" height="26.75" fill="#f7cdcf"/>
<rect x="241.40" y="521.65" width="26.79" height="26.75" fill="#f2aaac"/>
<rect x="267.89" y="521.65" width="26.79" height="26.75" fill="#f7cdcf"/>
<rect x="294.37" y="521.65" width="26.79" height="26.75" fill="#faddde"/>
<rect x="320.86" y="521.65" width="26.79" height="26.75" fill="#fbe8e8"/>
<rect x="347.34" y="521.65" width="26.79" height="26.75" fill="#f3b0b2"/>
<rect x="373.83" y="521.65" width="26.79" height="26.75" fill="#f8d2d4"/>
<rect x="400.31" y="521.65" width="26.79" height="26.75" fill="#f9d8d9"/>
<rect x="426.80" y="521.65" width="26.79" height="26.75" fill="#f3b0b2"/>
<rect x="453.29" y="521.65" width="26.79" height="26.75" fill="#fcf4f4"/>
<rect x="479.77" y="521.65" width="26.79" height="26.75" fill="#f5c1c3"/>
<rect x="506.26" y="521.65" width="26.79" height="26.75" fill="#e6151c"/>
<rect x="532.74" y="521.65" width="26.79" height="26.75" fill="#f4b6b8"/>
<rect x="559.23" y="521.65" width="26.79" height="26.75" fill="#f4bcbe"/>
<rect x="585.71" y="521.65" width="26.79" height="26.75" fill="#f8d2d4"/>
<rect x="612.20" y="521.65" width="26.79" height="26.75" fill="#f4bcbe"/>
<rect x="638.69" y="521.65" width="26.79" height="26.75" fill="#f7cdcf"/>
<rect x="665.17" y="521.65" width="26.79" height="26.75" fill="#fceded"/>
<rect x="691.66" y="521.65" width="26.79" height="26.75" fill="#f1a0a1"/>
<rect x="718.14" y="521.65" width="26.79" height="26.75" fill="#f8d2d4"/>
<rect x="744.63" y="521.65" width="26.79" height="26.75" fill="#f7cdcf"/>
<rect x="771.11" y="521.65" width="26.79" height="26.75" fill="#f4b6b8"/>
<rect x="797.60" y="521.65" width="26.79" height="26.75" fill="#f4b6b8"/>
<rect x="824.09" y="521.65" width="26.79" height="26.75" fill="#f4bcbe"/>
<rect x="850.57" y="521.65" width="26.79" height="26.75" fill="#f3b0b2"/>
<rect x="877.06" y="521.65" width="26.79" height="26.75" fill="#f4b6b8"/>
<rect x="903.54" y="521.65" width="26.79" height="26.75" fill="#f4bcbe"/>
<rect x="930.03" y="521.65" width="26.79" height="26.75" fill="#f4bcbe"/>
<rect x="956.51" y="521.65" width="26.79" height="26.75" fill="#ebeaf5"/>
<rect x="983.00" y="521.65" width="26.49" height="26.75" fill="#f9d8d9"/>
<rect x="56.00" y="548.10" width="26.79" height="26.75" fill="#ef8c8c"/>
<rect x="82.49" y="548.10" width="26.79" height="26.75" fill="#e94949"/>
<rect x="108.97" y="548.10" width="26.79" height="26.75" fill="#ed8182"/>
<rect x="135.46" y="548.10" width="26.79" height="26.75" fill="#ec7778"/>
<rect x="161.94" y="548.10" width="26.79" height="26.75" fill="#f1a0a1"/>
<rect x="188.43" y="548.10" width="26.79" height="26.75" fill="#e94949"/>
<rect x="214.91" y="548.10" width="26.79" height="26.75" fill="#ea6365"/>
<rect x="241.40" y="548.10" width="26.79" height="26.75" fill="#e74040"/>
<rect x="267.89" y="548.10" width="26.79" height="26.75" fill="#f3b0b2"/>
<rect x="294.37" y="548.10" width="26.79" height="26.75" fill="#ee8687"/>
<rect x="320.86" y="548.10" width="26.79" height="26.75" fill="#ec7778"/>
<rect x="347.34" y="548.10" width="26.79" height="26.75" fill="#e74040"/>
<rect x="373.83" y="548.10" width="26.79" height="26.75" fill="#e94949"/>
<rect x="400.31" y="548.10" width="26.79" height="26.75" fill="#ea6c6e"/>
<rect x="426.80" y="548.10" width="26.79" height="26.75" fill="#e63c3c"/>
<rect x="453.29" y="548.10" width="26.79" height="26.75" fill="#f2aaac"/>
<rect x="479.77" y="548.10" width="26.79" height="26.75" fill="#ea4e4e"/>
<rect x="506.26" y="548.10" width="26.79" height="26.75" fill="#f4b6b8"/>
<rect x="532.74" y="548.10" width="26.79" height="26.75" fill="#e6151c"/>
<rect x="559.23" y="548.10" width="26.79" height="26.75" fill="#e63c3c"/>
<rect x="585.71" y="548.10" width="26.79" height="26.75" fill="#ea6c6e"/>
<rect x="612.20" y="548.10" width="26.79" height="26.75" fill="#ef8c8c"/>
<rect x="638.69" y="548.10" width="26.79" height="26.75" fill="#f5c1c3"/>
<rect x="665.17" y="548.10" width="26.79" height="26.75" fill="#e84444"/>
<rect x="691.66" y="548.10" width="26.79" height="26.75" fill="#e74040"/>
<rect x="718.14" y="548.10" width="26.79" height="26.75" fill="#ea5b5b"/>
<rect x="744.63" y="548.10" width="26.79" height="26.75" fill="#f2aaac"/>
<rect x="771.11" y="548.10" width="26.79" height="26.75" fill="#ea5252"/>
<rect x="797.60" y="548.10" width="26.79" height="26.75" fill="#ea6c6e"/>
<rect x="824.09" y="548.10" width="26.79" height="26.75" fill="#ea5b5b"/>
<rect x="850.57" y="548.10" width="26.79" height="26.75" fill="#ea5252"/>
<rect x="877.06" y="548.10" width="26.79" height="26.75" fill="#e52529"/>
<rect x="903.54" y="548.10" width="26.79" height="26.75" fill="#ea6365"/>
<rect x="930.03" y="548.10" width="26.79" height="26.75" fill="#e63737"/>
<rect x="956.51" y="548.10" width="26.79" height="26.75" fill="#f9f9fb"/>
<rect x="983.00" y="548.10" width="26.49" height="26.75" fill="#e94949"/>
<rect x="56.00" y="574.55" width="26.79" height="26.75" fill="#f09697"/>
<rect x="82.49" y="574.55" width="26.79" height="26.75" fill="#ea5b5b"/>
<rect x="108.97" y="574.55" width="26.79" height="26.75" fill="#ed8182"/>
<rect x="135.46" y="574.55" width="26.79" height="26.75" fill="#ec7778"/>
<rect x="161.94" y="574.55" width="26.79" height="26.75" fill="#f1a0a1"/>
<rect x="188.43" y="574.55" width="26.79" height="26.75" fill="#e94949"/>
<rect x="214.91" y="574.55" width="26.79" height="26.75" fill="#ea6c6e"/>
<rect x="241.40" y="574.55" width="26.79" height="26.75" fill="#ea4e4e"/>
<rect x="267.89" y="574.55" width="26.79" height="26.75" fill="#f1a0a1"/>
<rect x="294.37" y="574.55" width="26.79" height="26.75" fill="#ec7c7d"/>
<rect x="320.86" y="574.55" width="26.79" height="26.75" fill="#ea6c6e"/>
<rect x="347.34" y="574.55" width="26.79" height="26.75" fill="#ea5b5b"/>
<rect x="373.83" y="574.55" width="26.79" height="26.75" fill="#ea5252"/>
<rect x="400.31" y="574.55" width="26.79" height="26.75" fill="#ea5f60"/>
<rect x="426.80" y="574.55" width="26.79" height="26.75" fill="#ea5656"/>
<rect x="453.29" y="574.55" width="26.79" height="26.75" fill="#f4bcbe"/>
<rect x="479.77" y="574.55" width="26.79" height="26.75" fill="#ea5656"/>
<rect x="506.26" y="574.55" width="26.79" height="26.75" fill="#f4bcbe"/>
<rect x="532.74" y="574.55" width="26.79" height="26.75" fill="#e63c3c"/>
<rect x="559.23" y="574.55" width="26.79" height="26.75" fill="#e6151c"/>
<rect x="585.71" y="574.55" width="26.79" height="26.75" fill="#ed8182"/>
<rect x="612.20" y="574.55" width="26.79" height="26.75" fill="#f09697"/>
<rect x="638.69" y="574.55" width="26.79" height="26.75" fill="#f2aaac"/>
<rect x="665.17" y="574.55" width="26.79" height="26.75" fill="#ea686a"/>
<rect x="691.66" y="574.55" width="26.79" height="26.75" fill="#ea4e4e"/>
<rect x="718.14" y="574.55" width="26.79" height="26.75" fill="#ea6365"/>
<rect x="744.63" y="574.55" width="26.79" height="26.75" fill="#f2aaac"/>
<rect x="771.11" y="574.55" width="26.79" height="26.75" fill="#ea5f60"/>
<rect x="797.60" y="574.55" width="26.79" height="26.75" fill="#ed8182"/>
<rect x="824.09" y="574.55" width="26.79" height="26.75" fill="#ea6c6e"/>
<rect x="850.57" y="574.55" width="26.79" height="26.75" fill="#ea5b5b"/>
<rect x="877.06" y="574.55" width="26.79" height="26.75" fill="#e63234"/>
<rect x="903.54" y="574.55" width="26.79" height="26.75" fill="#ea6c6e"/>
<rect x="930.03" y="574.55" width="26.79" height="26.75" fill="#ea5656"/>
<rect x="956.51" y="574.55" width="26.79" height="26.75" fill="#fceded"/>
<rect x="983.00" y="574.55" width="26.49" height="26.75" fill="#ea5252"/>
<rect x="56.00" y="601.00" width="26.79" height="26.75" fill="#f09697"/>
<rect x="82.49" y="601.00" width="26.79" height="26.75" fill="#ed8182"/>
<rect x="108.97" y="601.00" width="26.79" height="26.75" fill="#f09697"/>
<rect x="135.46" y="601.00" width="26.79" height="26.75" fill="#f09697"/>
<rect x="161.94" y="601.00" width="26.79" height="26.75" fill="#f4b6b8"/>
<rect x="188.43" y="601.00" width="26.79" height="26.75" fill="#ed8182"/>
<rect x="214.91" y="601.00" width="26.79" height="26.75" fill="#f09697"/>
<rect x="241.40" y="601.00" width="26.79" height="26.75" fill="#ea5b5b"/>
<rect x="267.89" y="601.00" width="26.79" height="26.75" fill="#f5c1c3"/>
<rect x="294.37" y="601.00" width="26.79" height="26.75" fill="#f4b6b8"/>
<rect x="320.86" y="601.00" width="26.79" height="26.75" fill="#f1a0a1"/>
<rect x="347.34" y="601.00" width="26.79" height="26.75" fill="#ec7778"/>
<rect x="373.83" y="601.00" width="26.79" height="26.75" fill="#ef8c8c"/>
<rect x="400.31" y="601.00" width="26.79" height="26.75" fill="#f5c1c3"/>
<rect x="426.80" y="601.00" width="26.79" height="26.75" fill="#ea6365"/>
<rect x="453.29" y="601.00" width="26.79" height="26.75" fill="#f3b0b2"/>
<rect x="479.77" y="601.00" width="26.79" height="26.75" fill="#ea6c6e"/>
<rect x="506.26" y="601.00" width="26.79" height="26.75" fill="#f8d2d4"/>
<rect x="532.74" y="601.00" width="26.79" height="26.75" fill="#ea6c6e"/>
<rect x="559.23" y="601.00" width="26.79" height="26.75" fill="#ed8182"/>
<rect x="585.71" y="601.00" width="26.79" height="26.75" fill="#e6151c"/>
<rect x="612.20" y="601.00" width="26.79" height="26.75" fill="#f2aaac"/>
<rect x="638.69" y="601.00" width="26.79" height="26.75" fill="#f9d8d9"/>
<rect x="665.17" y="601.00" width="26.79" height="26.75" fill="#f09192"/>
<rect x="691.66" y="601.00" width="26.79" height="26.75" fill="#ea6c6e"/>
<rect x="718.14" y="601.00" width="26.79" height="26.75" fill="#f09697"/>
<rect x="744.63" y="601.00" width="26.79" height="26.75" fill="#f9d8d9"/>
<rect x="771.11" y="601.00" width="26.79" height="26.75" fill="#ea686a"/>
<rect x="797.60" y="601.00" width="26.79" height="26.75" fill="#ec7c7d"/>
<rect x="824.09" y="601.00" width="26.79" height="26.75" fill="#ea6c6e"/>
<rect x="850.57" y="601.00" width="26.79" height="26.75" fill="#ec7778"/>
<rect x="877.06" y="601.00" width="26.79" height="26.75" fill="#ea5f60"/>
<rect x="903.54" y="601.00" width="26.79" height="26.75" fill="#ed8182"/>
<rect x="930.03" y="601.00" width="26.79" height="26.75" fill="#f09192"/>
<rect x="956.51" y="601.00" width="26.79" height="26.75" fill="#cecce8"/>
<rect x="983.00" y="601.00" width="26.49" height="26.75" fill="#ea5f60"/>
<rect x="56.00" y="627.45" width="26.79" height="26.75" fill="#ec7778"/>
<rect x="82.49" y="627.45" width="26.79" height="26.75" fill="#ed8182"/>
<rect x="108.97" y="627.45" width="26.79" height="26.75" fill="#f7cdcf"/>
<rect x="135.46" y="627.45" width="26.79" height="26.75" fill="#f09697"/>
<rect x="161.94" y="627.45" width="26.79" height="26.75" fill="#ea5b5b"/>
<rect x="188.43" y="627.45" width="26.79" height="26.75" fill="#f4b6b8"/>
<rect x="214.91" y="627.45" width="26.79" height="26.75" fill="#faddde"/>
<rect x="241.40" y="627.45" width="26.79" height="26.75" fill="#ea6c6e"/>
<rect x="267.89" y="627.45" width="26.79" height="26.75" fill="#fae2e3"/>
<rect x="294.37" y="627.45" width="26.79" height="26.75" fill="#ef8c8c"/>
<rect x="320.86" y="627.45" width="26.79" height="26.75" fill="#f1a0a1"/>
<rect x="347.34" y="627.45" width="26.79" height="26.75" fill="#ec7778"/>
<rect x="373.83" y="627.45" width="26.79" height="26.75" fill="#f7cdcf"/>
<rect x="400.31" y="627.45" width="26.79" height="26.75" fill="#ed8182"/>
<rect x="426.80" y="627.45" width="26.79" height="26.75" fill="#ea6c6e"/>
<rect x="453.29" y="627.45" width="26.79" height="26.75" fill="#f4b6b8"/>
<rect x="479.77" y="627.45" width="26.79" height="26.75" fill="#ef8c8c"/>
<rect x="506.26" y="627.45" width="26.79" height="26.75" fill="#f4bcbe"/>
<rect x="532.74" y="627.45" width="26.79" height="26.75" fill="#ef8c8c"/>
<rect x="559.23" y="627.45" width="26.79" height="26.75" fill="#f09697"/>
<rect x="585.71" y="627.45" width="26.79" height="26.75" fill="#f2aaac"/>
<rect x="612.20" y="627.45" width="26.79" height="26.75" fill="#e6151c"/>
<rect x="638.69" y="627.45" width="26.79" height="26.75" fill="#faddde"/>
<rect x="665.17" y="627.45" width="26.79" height="26.75" fill="#f2aaac"/>
<rect x="691.66" y="627.45" width="26.79" height="26.75" fill="#ec7778"/>
<rect x="718.14" y="627.45" width="26.79" height="26.75" fill="#fae2e3"/>
<rect x="744.63" y="627.45" width="26.79" height="26.75" fill="#fafafa"/>
<rect x="771.11" y="627.45" width="26.79" height="26.75" fill="#ef8c8c"/>
<rect x="797.60" y="627.45" width="26.79" height="26.75" fill="#f5c1c3"/>
<rect x="824.09" y="627.45" width="26.79" height="26.75" fill="#ef8c8c"/>
<rect x="850.57" y="627.45" width="26.79" height="26.75" fill="#ea6c6e"/>
<rect x="877.06" y="627.45" width="26.79" height="26.75" fill="#f09697"/>
<rect x="903.54" y="627.45" width="26.79" height="26.75" fill="#f09192"/>
<rect x="930.03" y="627.45" width="26.79" height="26.75" fill="#f1a0a1"/>
<rect x="956.51" y="627.45" width="26.79" height="26.75" fill="#f6c7c9"/>
<rect x="983.00" y="627.45" width="26.49" height="26.75" fill="#f4b6b8"/>
<rect x="56.00" y="653.90" width="26.79" height="26.75" fill="#f5c1c3"/>
<rect x="82.49" y="653.90" width="26.79" height="26.75" fill="#f2aaac"/>
<rect x="108.97" y="653.90" width="26.79" height="26.75" fill="#f4bcbe"/>
<rect x="135.46" y="653.90" width="26.79" height="26.75" fill="#f4b6b8"/>
<rect x="161.94" y="653.90" width="26.79" height="26.75" fill="#fae2e3"/>
<rect x="188.43" y="653.90" width="26.79" height="26.75" fill="#f2a5a6"/>
<rect x="214.91" y="653.90" width="26.79" height="26.75" fill="#f5c1c3"/>
<rect x="241.40" y="653.90" width="26.79" height="26.75" fill="#f4b6b8"/>
<rect x="267.89" y="653.90" width="26.79" height="26.75" fill="#fae2e3"/>
<rect x="294.37" y="653.90" width="26.79" height="26.75" fill="#f5c1c3"/>
<rect x="320.86" y="653.90" width="26.79" height="26.75" fill="#f5c1c3"/>
<rect x="347.34" y="653.90" width="26.79" height="26.75" fill="#f4b6b8"/>
<rect x="373.83" y="653.90" width="26.79" height="26.75" fill="#f2a5a6"/>
<rect x="400.31" y="653.90" width="26.79" height="26.75" fill="#f2a5a6"/>
<rect x="426.80" y="653.90" width="26.79" height="26.75" fill="#f7cdcf"/>
<rect x="453.29" y="653.90" width="26.79" height="26.75" fill="#fcfafa"/>
<rect x="479.77" y="653.90" width="26.79" height="26.75" fill="#f1a0a1"/>
<rect x="506.26" y="653.90" width="26.79" height="26.75" fill="#f7cdcf"/>
<rect x="532.74" y="653.90" width="26.79" height="26.75" fill="#f5c1c3"/>
<rect x="559.23" y="653.90" width="26.79" height="26.75" fill="#f2aaac"/>
<rect x="585.71" y="653.90" width="26.79" height="26.75" fill="#f9d8d9"/>
<rect x="612.20" y="653.90" width="26.79" height="26.75" fill="#faddde"/>
<rect x="638.69" y="653.90" width="26.79" height="26.75" fill="#e6151c"/>
<rect x="665.17" y="653.90" width="26.79" height="26.75" fill="#f9d8d9"/>
<rect x="691.66" y="653.90" width="26.79" height="26.75" fill="#f5c1c3"/>
<rect x="718.14" y="653.90" width="26.79" height="26.75" fill="#f4b6b8"/>
<rect x="744.63" y="653.90" width="26.79" height="26.75" fill="#f9d8d9"/>
<rect x="771.11" y="653.90" width="26.79" height="26.75" fill="#f7cdcf"/>
<rect x="797.60" y="653.90" width="26.79" height="26.75" fill="#f9d8d9"/>
<rect x="824.09" y="653.90" width="26.79" height="26.75" fill="#f4bcbe"/>
<rect x="850.57" y="653.90" width="26.79" height="26.75" fill="#f3b0b2"/>
<rect x="877.06" y="653.90" width="26.79" height="26.75" fill="#f4b6b8"/>
<rect x="903.54" y="653.90" width="26.79" height="26.75" fill="#f5c1c3"/>
<rect x="930.03" y="653.90" width="26.79" height="26.75" fill="#f2aaac"/>
<rect x="956.51" y="653.90" width="26.79" height="26.75" fill="#fcfafa"/>
<rect x="983.00" y="653.90" width="26.49" height="26.75" fill="#f4bcbe"/>
<rect x="56.00" y="680.35" width="26.79" height="26.75" fill="#f4b6b8"/>
<rect x="82.49" y="680.35" width="26.79" height="26.75" fill="#ea6c6e"/>
<rect x="108.97" y="680.35" width="26.79" height="26.75" fill="#f1a0a1"/>
<rect x="135.46" y="680.35" width="26.79" height="26.75" fill="#ef8c8c"/>
<rect x="161.94" y="680.35" width="26.79" height="26.75" fill="#f5c1c3"/>
<rect x="188.43" y="680.35" width="26.79" height="26.75" fill="#e84444"/>
<rect x="214.91" y="680.35" width="26.79" height="26.75" fill="#ec7778"/>
<rect x="241.40" y="680.35" width="26.79" height="26.75" fill="#eb7273"/>
<rect x="267.89" y="680.35" width="26.79" height="26.75" fill="#f5c1c3"/>
<rect x="294.37" y="680.35" width="26.79" height="26.75" fill="#f2aaac"/>
<rect x="320.86" y="680.35" width="26.79" height="26.75" fill="#f1a0a1"/>
<rect x="347.34" y="680.35" width="26.79" height="26.75" fill="#ea6c6e"/>
<rect x="373.83" y="680.35" width="26.79" height="26.75" fill="#ea6365"/>
<rect x="400.31" y="680.35" width="26.79" height="26.75" fill="#ed8182"/>
<rect x="426.80" y="680.35" width="26.79" height="26.75" fill="#eb7273"/>
<rect x="453.29" y="680.35" width="26.79" height="26.75" fill="#f6c7c9"/>
<rect x="479.77" y="680.35" width="26.79" height="26.75" fill="#ec7778"/>
<rect x="506.26" y="680.35" width="26.79" height="26.75" fill="#fceded"/>
<rect x="532.74" y="680.35" width="26.79" height="26.75" fill="#e84444"/>
<rect x="559.23" y="680.35" width="26.79" height="26.75" fill="#ea686a"/>
<rect x="585.71" y="680.35" width="26.79" height="26.75" fill="#f09192"/>
<rect x="612.20" y="680.35" width="26.79" height="26.75" fill="#f2aaac"/>
<rect x="638.69" y="680.35" width="26.79" height="26.75" fill="#f9d8d9"/>
<rect x="665.17" y="680.35" width="26.79" height="26.75" fill="#e6151c"/>
<rect x="691.66" y="680.35" width="26.79" height="26.75" fill="#ea6c6e"/>
<rect x="718.14" y="680.35" width="26.79" height="26.75" fill="#eb7273"/>
<rect x="744.63" y="680.35" width="26.79" height="26.75" fill="#f9d8d9"/>
<rect x="771.11" y="680.35" width="26.79" height="26.75" fill="#ec7c7d"/>
<rect x="797.60" y="680.35" width="26.79" height="26.75" fill="#ee8687"/>
<rect x="824.09" y="680.35" width="26.79" height="26.75" fill="#ef8c8c"/>
<rect x="850.57" y="680.35" width="26.79" height="26.75" fill="#ec7778"/>
<rect x="877.06" y="680.35" width="26.79" height="26.75" fill="#ea4e4e"/>
<rect x="903.54" y="680.35" width="26.79" height="26.75" fill="#ef8c8c"/>
<rect x="930.03" y="680.35" width="26.79" height="26.75" fill="#ea6365"/>
<rect x="956.51" y="680.35" width="26.79" height="26.75" fill="#fae2e3"/>
<rect x="983.00" y="680.35" width="26.49" height="26.75" fill="#eb7273"/>
<rect x="56.00" y="706.80" width="26.79" height="26.75" fill="#e94949"/>
<rect x="82.49" y="706.80" width="26.79" height="26.75" fill="#e52529"/>
<rect x="108.97" y="706.80" width="26.79" height="26.75" fill="#f09b9c"/>
<rect x="135.46" y="706.80" width="26.79" height="26.75" fill="#ea6c6e"/>
<rect x="161.94" y="706.80" width="26.79" height="26.75" fill="#ea6365"/>
<rect x="188.43" y="706.80" width="26.79" height="26.75" fill="#ea6365"/>
<rect x="214.91" y="706.80" width="26.79" height="26.75" fill="#ea4e4e"/>
<rect x="241.40" y="706.80" width="26.79" height="26.75" fill="#e84444"/>
<rect x="267.89" y="706.80" width="26.79" height="26.75" fill="#f1a0a1"/>
<rect x="294.37" y="706.80" width="26.79" height="26.75" fill="#ea6365"/>
<rect x="320.86" y="706.80" width="26.79" height="26.75" fill="#ef8c8c"/>
<rect x="347.34" y="706.80" width="26.79" height="26.75" fill="#e52529"/>
<rect x="373.83" y="706.80" width="26.79" height="26.75" fill="#ea5656"/>
<rect x="400.31" y="706.80" width="26.79" height="26.75" fill="#ec7778"/>
<rect x="426.80" y="706.80" width="26.79" height="26.75" fill="#ea5252"/>
<rect x="453.29" y="706.80" width="26.79" height="26.75" fill="#f2a5a6"/>
<rect x="479.77" y="706.80" width="26.79" height="26.75" fill="#ea6365"/>
<rect x="506.26" y="706.80" width="26.79" height="26.75" fill="#f1a0a1"/>
<rect x="532.74" y="706.80" width="26.79" height="26.75" fill="#e74040"/>
<rect x="559.23" y="706.80" width="26.79" height="26.75" fill="#ea4e4e"/>
<rect x="585.71" y="706.80" width="26.79" height="26.75" fill="#ea6c6e"/>
<rect x="612.20" y="706.80" width="26.79" height="26.75" fill="#ec7778"/>
<rect x="638.69" y="706.80" width="26.79" height="26.75" fill="#f5c1c3"/>
<rect x="665.17" y="706.80" width="26.79" height="26.75" fill="#ea6c6e"/>
<rect x="691.66" y="706.80" width="26.79" height="26.75" fill="#e6151c"/>
<rect x="718.14" y="706.80" width="26.79" height="26.75" fill="#ea6365"/>
<rect x="744.63" y="706.80" width="26.79" height="26.75" fill="#f5c1c3"/>
<rect x="771.11" y="706.80" width="26.79" height="26.75" fill="#ec7778"/>
<rect x="797.60" y="706.80" width="26.79" height="26.75" fill="#ef8c8c"/>
<rect x="824.09" y="706.80" width="26.79" height="26.75" fill="#eb7273"/>
<rect x="850.57" y="706.80" width="26.79" height="26.75" fill="#e62a2c"/>
<rect x="877.06" y="706.80" width="26.79" height="26.75" fill="#e94949"/>
<rect x="903.54" y="706.80" width="26.79" height="26.75" fill="#ea6c6e"/>
<rect x="930.03" y="706.80" width="26.79" height="26.75" fill="#e74040"/>
<rect x="956.51" y="706.80" width="26.79" height="26.75" fill="#f8d2d4"/>
<rect x="983.00" y="706.80" width="26.49" height="26.75" fill="#ea5252"/>
<rect x="56.00" y="733.25" width="26.79" height="26.75" fill="#f2aaac"/>
<rect x="82.49" y="733.25" width="26.79" height="26.75" fill="#ea6365"/>
<rect x="108.97" y="733.25" width="26.79" height="26.75" fill="#ef8c8c"/>
<rect x="135.46" y="733.25" width="26.79" height="26.75" fill="#ef8c8c"/>
<rect x="161.94" y="733.25" width="26.79" height="26.75" fill="#f7cdcf"/>
<rect x="188.43" y="733.25" width="26.79" height="26.75" fill="#ea6365"/>
<rect x="214.91" y="733.25" width="26.79" height="26.75" fill="#e74040"/>
<rect x="241.40" y="733.25" width="26.79" height="26.75" fill="#ec7c7d"/>
<rect x="267.89" y="733.25" width="26.79" height="26.75" fill="#f09697"/>
<rect x="294.37" y="733.25" width="26.79" height="26.75" fill="#f1a0a1"/>
<rect x="320.86" y="733.25" width="26.79" height="26.75" fill="#f2a5a6"/>
<rect x="347.34" y="733.25" width="26.79" height="26.75" fill="#eb7273"/>
<rect x="373.83" y="733.25" width="26.79" height="26.75" fill="#e74040"/>
<rect x="400.31" y="733.25" width="26.79" height="26.75" fill="#ef8c8c"/>
<rect x="426.80" y="733.25" width="26.79" height="26.75" fill="#f2aaac"/>
<rect x="453.29" y="733.25" width="26.79" height="26.75" fill="#f8d2d4"/>
<rect x="479.77" y="733.25" width="26.79" height="26.75" fill="#ef8c8c"/>
<rect x="506.26" y="733.25" width="26.79" height="26.75" fill="#f8d2d4"/>
<rect x="532.74" y="733.25" width="26.79" height="26.75" fill="#ea5b5b"/>
<rect x="559.23" y="733.25" width="26.79" height="26.75" fill="#ea6365"/>
<rect x="585.71" y="733.25" width="26.79" height="26.75" fill="#f09697"/>
<rect x="612.20" y="733.25" width="26.79" height="26.75" fill="#fae2e3"/>
<rect x="638.69" y="733.25" width="26.79" height="26.75" fill="#f4b6b8"/>
<rect x="665.17" y="733.25" width="26.79" height="26.75" fill="#eb7273"/>
<rect x="691.66" y="733.25" width="26.79" height="26.75" fill="#ea6365"/>
<rect x="718.14" y="733.25" width="26.79" height="26.75" fill="#e6151c"/>
<rect x="744.63" y="733.25" width="26.79" height="26.75" fill="#ee8687"/>
<rect x="771.11" y="733.25" width="26.79" height="26.75" fill="#f2a5a6"/>
<rect x="797.60" y="733.25" width="26.79" height="26.75" fill="#ed8182"/>
<rect x="824.09" y="733.25" width="26.79" height="26.75" fill="#f2aaac"/>
<rect x="850.57" y="733.25" width="26.79" height="26.75" fill="#ec7778"/>
<rect x="877.06" y="733.25" width="26.79" height="26.75" fill="#ea5656"/>
<rect x="903.54" y="733.25" width="26.79" height="26.75" fill="#ee8687"/>
<rect x="930.03" y="733.25" width="26.79" height="26.75" fill="#ec7778"/>
<rect x="956.51" y="733.25" width="26.79" height="26.75" fill="#ebeaf5"/>
<rect x="983.00" y="733.25" width="26.49" height="26.75" fill="#ea5b5b"/>
<rect x="56.00" y="759.70" width="26.79" height="26.75" fill="#f6c7c9"/>
<rect x="82.49" y="759.70" width="26.79" height="26.75" fill="#f1a0a1"/>
<rect x="108.97" y="759.70" width="26.79" height="26.75" fill="#f09697"/>
<rect x="135.46" y="759.70" width="26.79" height="26.75" fill="#f4b6b8"/>
<rect x="161.94" y="759.70" width="26.79" height="26.75" fill="#f2f2f8"/>
<rect x="188.43" y="759.70" width="26.79" height="26.75" fill="#f1a0a1"/>
<rect x="214.91" y="759.70" width="26.79" height="26.75" fill="#f2a5a6"/>
<rect x="241.40" y="759.70" width="26.79" height="26.75" fill="#f1a0a1"/>
<rect x="267.89" y="759.70" width="26.79" height="26.75" fill="#f7cdcf"/>
<rect x="294.37" y="759.70" width="26.79" height="26.75" fill="#fae2e3"/>
<rect x="320.86" y="759.70" width="26.79" height="26.75" fill="#f4bcbe"/>
<rect x="347.34" y="759.70" width="26.79" height="26.75" fill="#f2aaac"/>
<rect x="373.83" y="759.70" width="26.79" height="26.75" fill="#ef8c8c"/>
<rect x="400.31" y="759.70" width="26.79" height="26.75" fill="#f2a5a6"/>
<rect x="426.80" y="759.70" width="26.79" height="26.75" fill="#f7cdcf"/>
<rect x="453.29" y="759.70" width="26.79" height="26.75" fill="#fceded"/>
<rect x="479.77" y="759.70" width="26.79" height="26.75" fill="#f2a5a6"/>
<rect x="506.26" y="759.70" width="26.79" height="26.75" fill="#f7cdcf"/>
<rect x="532.74" y="759.70" width="26.79" height="26.75" fill="#f2aaac"/>
<rect x="559.23" y="759.70" width="26.79" height="26.75" fill="#f2aaac"/>
<rect x="585.71" y="759.70" width="26.79" height="26.75" fill="#f9d8d9"/>
<rect x="612.20" y="759.70" width="26.79" height="26.75" fill="#fafafa"/>
<rect x="638.69" y="759.70" width="26.79" height="26.75" fill="#f9d8d9"/>
<rect x="665.17" y="759.70" width="26.79" height="26.75" fill="#f9d8d9"/>
<rect x="691.66" y="759.70" width="26.79" height="26.75" fill="#f5c1c3"/>
<rect x="718.14" y="759.70" width="26.79" height="26.75" fill="#ee8687"/>
<rect x="744.63" y="759.70" width="26.79" height="26.75" fill="#e6151c"/>
<rect x="771.11" y="759.70" width="26.79" height="26.75" fill="#f5c1c3"/>
<rect x="797.60" y="759.70" width="26.79" height="26.75" fill="#f5c1c3"/>
<rect x="824.09" y="759.70" width="26.79" height="26.75" fill="#f5c1c3"/>
<rect x="850.57" y="759.70" width="26.79" height="26.75" fill="#f09b9c"/>
<rect x="877.06" y="759.70" width="26.79" height="26.75" fill="#f1a0a1"/>
<rect x="903.54" y="759.70" width="26.79" height="26.75" fill="#f5c1c3"/>
<rect x="930.03" y="759.70" width="26.79" height="26.75" fill="#f7cdcf"/>
<rect x="956.51" y="759.70" width="26.79" height="26.75" fill="#dcdbee"/>
<rect x="983.00" y="759.70" width="26.49" height="26.75" fill="#f2a5a6"/>
<rect x="56.00" y="786.15" width="26.79" height="26.75" fill="#f4b6b8"/>
<rect x="82.49" y="786.15" width="26.79" height="26.75" fill="#f09697"/>
<rect x="108.97" y="786.15" width="26.79" height="26.75" fill="#ec7778"/>
<rect x="135.46" y="786.15" width="26.79" height="26.75" fill="#ef8c8c"/>
<rect x="161.94" y="786.15" width="26.79" height="26.75" fill="#f4b6b8"/>
<rect x="188.43" y="786.15" width="26.79" height="26.75" fill="#ea5b5b"/>
<rect x="214.91" y="786.15" width="26.79" height="26.75" fill="#f4b6b8"/>
<rect x="241.40" y="786.15" width="26.79" height="26.75" fill="#e63737"/>
<rect x="267.89" y="786.15" width="26.79" height="26.75" fill="#f4bcbe"/>
<rect x="294.37" y="786.15" width="26.79" height="26.75" fill="#f5c1c3"/>
<rect x="320.86" y="786.15" width="26.79" height="26.75" fill="#ed8182"/>
<rect x="347.34" y="786.15" width="26.79" height="26.75" fill="#ee8687"/>
<rect x="373.83" y="786.15" width="26.79" height="26.75" fill="#f09697"/>
<rect x="400.31" y="786.15" width="26.79" height="26.75" fill="#f1a0a1"/>
<rect x="426.80" y="786.15" width="26.79" height="26.75" fill="#e62e30"/>
<rect x="453.29" y="786.15" width="26.79" height="26.75" fill="#f7cdcf"/>
<rect x="479.77" y="786.15" width="26.79" height="26.75" fill="#e84444"/>
<rect x="506.26" y="786.15" width="26.79" height="26.75" fill="#f4b6b8"/>
<rect x="532.74" y="786.15" width="26.79" height="26.75" fill="#ea5252"/>
<rect x="559.23" y="786.15" width="26.79" height="26.75" fill="#ea5f60"/>
<rect x="585.71" y="786.15" width="26.79" height="26.75" fill="#ea686a"/>
<rect x="612.20" y="786.15" width="26.79" height="26.75" fill="#ef8c8c"/>
<rect x="638.69" y="786.15" width="26.79" height="26.75" fill="#f7cdcf"/>
<rect x="665.17" y="786.15" width="26.79" height="26.75" fill="#ec7c7d"/>
<rect x="691.66" y="786.15" width="26.79" height="26.75" fill="#ec7778"/>
<rect x="718.14" y="786.15" width="26.79" height="26.75" fill="#f2a5a6"/>
<rect x="744.63" y="786.15" width="26.79" height="26.75" fill="#f5c1c3"/>
<rect x="771.11" y="786.15" width="26.79" height="26.75" fill="#e6151c"/>
<rect x="797.60" y="786.15" width="26.79" height="26.75" fill="#ea5b5b"/>
<rect x="824.09" y="786.15" width="26.79" height="26.75" fill="#e63737"/>
<rect x="850.57" y="786.15" width="26.79" height="26.75" fill="#ea6c6e"/>
<rect x="877.06" y="786.15" width="26.79" height="26.75" fill="#e63737"/>
<rect x="903.54" y="786.15" width="26.79" height="26.75" fill="#ea6c6e"/>
<rect x="930.03" y="786.15" width="26.79" height="26.75" fill="#ee8687"/>
<rect x="956.51" y="786.15" width="26.79" height="26.75" fill="#cecce8"/>
<rect x="983.00" y="786.15" width="26.49" height="26.75" fill="#ea6365"/>
<rect x="56.00" y="812.60" width="26.79" height="26.75" fill="#f5c1c3"/>
<rect x="82.49" y="812.60" width="26.79" height="26.75" fill="#f09b9c"/>
<rect x="108.97" y="812.60" width="26.79" height="26.75" fill="#f09b9c"/>
<rect x="135.46" y="812.60" width="26.79" height="26.75" fill="#f2a5a6"/>
<rect x="161.94" y="812.60" width="26.79" height="26.75" fill="#f6c7c9"/>
<rect x="188.43" y="812.60" width="26.79" height="26.75" fill="#ef8c8c"/>
<rect x="214.91" y="812.60" width="26.79" height="26.75" fill="#f09697"/>
<rect x="241.40" y="812.60" width="26.79" height="26.75" fill="#eb7273"/>
<rect x="267.89" y="812.60" width="26.79" height="26.75" fill="#f1a0a1"/>
<rect x="294.37" y="812.60" width="26.79" height="26.75" fill="#f8d2d4"/>
<rect x="320.86" y="812.60" width="26.79" height="26.75" fill="#f1a0a1"/>
<rect x="347.34" y="812.60" width="26.79" height="26.75" fill="#f09697"/>
<rect x="373.83" y="812.60" width="26.79" height="26.75" fill="#ef8c8c"/>
<rect x="400.31" y="812.60" width="26.79" height="26.75" fill="#f4b6b8"/>
<rect x="426.80" y="812.60" width="26.79" height="26.75" fill="#ec7778"/>
<rect x="453.29" y="812.60" width="26.79" height="26.75" fill="#f9d8d9"/>
<rect x="479.77" y="812.60" width="26.79" height="26.75" fill="#ed8182"/>
<rect x="506.26" y="812.60" width="26.79" height="26.75" fill="#f4b6b8"/>
<rect x="532.74" y="812.60" width="26.79" height="26.75" fill="#ea6c6e"/>
<rect x="559.23" y="812.60" width="26.79" height="26.75" fill="#ed8182"/>
<rect x="585.71" y="812.60" width="26.79" height="26.75" fill="#ec7c7d"/>
<rect x="612.20" y="812.60" width="26.79" height="26.75" fill="#f5c1c3"/>
<rect x="638.69" y="812.60" width="26.79" height="26.75" fill="#f9d8d9"/>
<rect x="665.17" y="812.60" width="26.79" height="26.75" fill="#ee8687"/>
<rect x="691.66" y="812.60" width="26.79" height="26.75" fill="#ef8c8c"/>
<rect x="718.14" y="812.60" width="26.79" height="26.75" fill="#ed8182"/>
<rect x="744.63" y="812.60" width="26.79" height="26.75" fill="#f5c1c3"/>
<rect x="771.11" y="812.60" width="26.79" height="26.75" fill="#ea5b5b"/>
<rect x="797.60" y="812.60" width="26.79" height="26.75" fill="#e6151c"/>
<rect x="824.09" y="812.60" width="26.79" height="26.75" fill="#ec7778"/>
<rect x="850.57" y="812.60" width="26.79" height="26.75" fill="#f09697"/>
<rect x="877.06" y="812.60" width="26.79" height="26.75" fill="#ea6365"/>
<rect x="903.54" y="812.60" width="26.79" height="26.75" fill="#ec7778"/>
<rect x="930.03" y="812.60" width="26.79" height="26.75" fill="#ee8687"/>
<rect x="956.51" y="812.60" width="26.79" height="26.75" fill="#cecce8"/>
<rect x="983.00" y="812.60" width="26.49" height="26.75" fill="#ea6365"/>
<rect x="56.00" y="839.05" width="26.79" height="26.75" fill="#f1a0a1"/>
<rect x="82.49" y="839.05" width="26.79" height="26.75" fill="#ed8182"/>
<rect x="108.97" y="839.05" width="26.79" height="26.75" fill="#ea6c6e"/>
<rect x="135.46" y="839.05" width="26.79" height="26.75" fill="#ec7778"/>
<rect x="161.94" y="839.05" width="26.79" height="26.75" fill="#f2aaac"/>
<rect x="188.43" y="839.05" width="26.79" height="26.75" fill="#ea5f60"/>
<rect x="214.91" y="839.05" width="26.79" height="26.75" fill="#f5c1c3"/>
<rect x="241.40" y="839.05" width="26.79" height="26.75" fill="#e62e30"/>
<rect x="267.89" y="839.05" width="26.79" height="26.75" fill="#f7cdcf"/>
<rect x="294.37" y="839.05" width="26.79" height="26.75" fill="#f4b6b8"/>
<rect x="320.86" y="839.05" width="26.79" height="26.75" fill="#ee8687"/>
<rect x="347.34" y="839.05" width="26.79" height="26.75" fill="#ec7778"/>
<rect x="373.83" y="839.05" width="26.79" height="26.75" fill="#f09697"/>
<rect x="400.31" y="839.05" width="26.79" height="26.75" fill="#ee8687"/>
<rect x="426.80" y="839.05" width="26.79" height="26.75" fill="#e63737"/>
<rect x="453.29" y="839.05" width="26.79" height="26.75" fill="#f2aaac"/>
<rect x="479.77" y="839.05" width="26.79" height="26.75" fill="#e63c3c"/>
<rect x="506.26" y="839.05" width="26.79" height="26.75" fill="#f4bcbe"/>
<rect x="532.74" y="839.05" width="26.79" height="26.75" fill="#ea5b5b"/>
<rect x="559.23" y="839.05" width="26.79" height="26.75" fill="#ea6c6e"/>
<rect x="585.71" y="839.05" width="26.79" height="26.75" fill="#ea6c6e"/>
<rect x="612.20" y="839.05" width="26.79" height="26.75" fill="#ef8c8c"/>
<rect x="638.69" y="839.05" width="26.79" height="26.75" fill="#f4bcbe"/>
<rect x="665.17" y="839.05" width="26.79" height="26.75" fill="#ef8c8c"/>
<rect x="691.66" y="839.05" width="26.79" height="26.75" fill="#eb7273"/>
<rect x="718.14" y="839.05" width="26.79" height="26.75" fill="#f2aaac"/>
<rect x="744.63" y="839.05" width="26.79" height="26.75" fill="#f5c1c3"/>
<rect x="771.11" y="839.05" width="26.79" height="26.75" fill="#e63737"/>
<rect x="797.60" y="839.05" width="26.79" height="26.75" fill="#ec7778"/>
<rect x="824.09" y="839.05" width="26.79" height="26.75" fill="#e6151c"/>
<rect x="850.57" y="839.05" width="26.79" height="26.75" fill="#ea5f60"/>
<rect x="877.06" y="839.05" width="26.79" height="26.75" fill="#ea5252"/>
<rect x="903.54" y="839.05" width="26.79" height="26.75" fill="#ea6c6e"/>
<rect x="930.03" y="839.05" width="26.79" height="26.75" fill="#ec7778"/>
<rect x="956.51" y="839.05" width="26.79" height="26.75" fill="#d8d6ec"/>
<rect x="983.00" y="839.05" width="26.49" height="26.75" fill="#ea6c6e"/>
<rect x="56.00" y="865.50" width="26.79" height="26.75" fill="#e63737"/>
<rect x="82.49" y="865.50" width="26.79" height="26.75" fill="#e61a20"/>
<rect x="108.97" y="865.50" width="26.79" height="26.75" fill="#ef8c8c"/>
<rect x="135.46" y="865.50" width="26.79" height="26.75" fill="#ea6365"/>
<rect x="161.94" y="865.50" width="26.79" height="26.75" fill="#ea6365"/>
<rect x="188.43" y="865.50" width="26.79" height="26.75" fill="#ea5b5b"/>
<rect x="214.91" y="865.50" width="26.79" height="26.75" fill="#ec7778"/>
<rect x="241.40" y="865.50" width="26.79" height="26.75" fill="#e62e30"/>
<rect x="267.89" y="865.50" width="26.79" height="26.75" fill="#f3b0b2"/>
<rect x="294.37" y="865.50" width="26.79" height="26.75" fill="#ea686a"/>
<rect x="320.86" y="865.50" width="26.79" height="26.75" fill="#ec7c7d"/>
<rect x="347.34" y="865.50" width="26.79" height="26.75" fill="#e51c22"/>
<rect x="373.83" y="865.50" width="26.79" height="26.75" fill="#ea5b5b"/>
<rect x="400.31" y="865.50" width="26.79" height="26.75" fill="#ea6365"/>
<rect x="426.80" y="865.50" width="26.79" height="26.75" fill="#e94949"/>
<rect x="453.29" y="865.50" width="26.79" height="26.75" fill="#f09b9c"/>
<rect x="479.77" y="865.50" width="26.79" height="26.75" fill="#ea5252"/>
<rect x="506.26" y="865.50" width="26.79" height="26.75" fill="#f3b0b2"/>
<rect x="532.74" y="865.50" width="26.79" height="26.75" fill="#ea5252"/>
<rect x="559.23" y="865.50" width="26.79" height="26.75" fill="#ea5b5b"/>
<rect x="585.71" y="865.50" width="26.79" height="26.75" fill="#ec7778"/>
<rect x="612.20" y="865.50" width="26.79" height="26.75" fill="#ea6c6e"/>
<rect x="638.69" y="865.50" width="26.79" height="26.75" fill="#f3b0b2"/>
<rect x="665.17" y="865.50" width="26.79" height="26.75" fill="#ec7778"/>
<rect x="691.66" y="865.50" width="26.79" height="26.75" fill="#e62a2c"/>
<rect x="718.14" y="865.50" width="26.79" height="26.75" fill="#ec7778"/>
<rect x="744.63" y="865.50" width="26.79" height="26.75" fill="#f09b9c"/>
<rect x="771.11" y="865.50" width="26.79" height="26.75" fill="#ea6c6e"/>
<rect x="797.60" y="865.50" width="26.79" height="26.75" fill="#f09697"/>
<rect x="824.09" y="865.50" width="26.79" height="26.75" fill="#ea5f60"/>
<rect x="850.57" y="865.50" width="26.79" height="26.75" fill="#e6151c"/>
<rect x="877.06" y="865.50" width="26.79" height="26.75" fill="#e94949"/>
<rect x="903.54" y="865.50" width="26.79" height="26.75" fill="#ea6365"/>
<rect x="930.03" y="865.50" width="26.79" height="26.75" fill="#ea5252"/>
<rect x="956.51" y="865.50" width="26.79" height="26.75" fill="#f9d8d9"/>
<rect x="983.00" y="865.50" width="26.49" height="26.75" fill="#ea5656"/>
<rect x="56.00" y="891.95" width="26.79" height="26.75" fill="#ef8c8c"/>
<rect x="82.49" y="891.95" width="26.79" height="26.75" fill="#ea5252"/>
<rect x="108.97" y="891.95" width="26.79" height="26.75" fill="#ea6c6e"/>
<rect x="135.46" y="891.95" width="26.79" height="26.75" fill="#ea6c6e"/>
<rect x="161.94" y="891.95" width="26.79" height="26.75" fill="#f2a5a6"/>
<rect x="188.43" y="891.95" width="26.79" height="26.75" fill="#e62a2c"/>
<rect x="214.91" y="891.95" width="26.79" height="26.75" fill="#ea6c6e"/>
<rect x="241.40" y="891.95" width="26.79" height="26.75" fill="#e62e30"/>
<rect x="267.89" y="891.95" width="26.79" height="26.75" fill="#f1a0a1"/>
<rect x="294.37" y="891.95" width="26.79" height="26.75" fill="#ed8182"/>
<rect x="320.86" y="891.95" width="26.79" height="26.75" fill="#ea6365"/>
<rect x="347.34" y="891.95" width="26.79" height="26.75" fill="#ea5252"/>
<rect x="373.83" y="891.95" width="26.79" height="26.75" fill="#e74040"/>
<rect x="400.31" y="891.95" width="26.79" height="26.75" fill="#ea6365"/>
<rect x="426.80" y="891.95" width="26.79" height="26.75" fill="#e63737"/>
<rect x="453.29" y="891.95" width="26.79" height="26.75" fill="#f1a0a1"/>
<rect x="479.77" y="891.95" width="26.79" height="26.75" fill="#e63234"/>
<rect x="506.26" y="891.95" width="26.79" height="26.75" fill="#f4b6b8"/>
<rect x="532.74" y="891.95" width="26.79" height="26.75" fill="#e52529"/>
<rect x="559.23" y="891.95" width="26.79" height="26.75" fill="#e63234"/>
<rect x="585.71" y="891.95" width="26.79" height="26.75" fill="#ea5f60"/>
<rect x="612.20" y="891.95" width="26.79" height="26.75" fill="#f09697"/>
<rect x="638.69" y="891.95" width="26.79" height="26.75" fill="#f4b6b8"/>
<rect x="665.17" y="891.95" width="26.79" height="26.75" fill="#ea4e4e"/>
<rect x="691.66" y="891.95" width="26.79" height="26.75" fill="#e94949"/>
<rect x="718.14" y="891.95" width="26.79" height="26.75" fill="#ea5656"/>
<rect x="744.63" y="891.95" width="26.79" height="26.75" fill="#f1a0a1"/>
<rect x="771.11" y="891.95" width="26.79" height="26.75" fill="#e63737"/>
<rect x="797.60" y="891.95" width="26.79" height="26.75" fill="#ea6365"/>
<rect x="824.09" y="891.95" width="26.79" height="26.75" fill="#ea5252"/>
<rect x="850.57" y="891.95" width="26.79" height="26.75" fill="#e94949"/>
<rect x="877.06" y="891.95" width="26.79" height="26.75" fill="#e6151c"/>
<rect x="903.54" y="891.95" width="26.79" height="26.75" fill="#ea5b5b"/>
<rect x="930.03" y="891.95" width="26.79" height="26.75" fill="#ea5b5b"/>
<rect x="956.51" y="891.95" width="26.79" height="26.75" fill="#ebeaf5"/>
<rect x="983.00" y="891.95" width="26.49" height="26.75" fill="#e63c3c"/>
<rect x="56.00" y="918.40" width="26.79" height="26.75" fill="#f1a0a1"/>
<rect x="82.49" y="918.40" width="26.79" height="26.75" fill="#ec7778"/>
<rect x="108.97" y="918.40" width="26.79" height="26.75" fill="#ef8c8c"/>
<rect x="135.46" y="918.40" width="26.79" height="26.75" fill="#ef8c8c"/>
<rect x="161.94" y="918.40" width="26.79" height="26.75" fill="#f09b9c"/>
<rect x="188.43" y="918.40" width="26.79" height="26.75" fill="#ec7778"/>
<rect x="214.91" y="918.40" width="26.79" height="26.75" fill="#f09697"/>
<rect x="241.40" y="918.40" width="26.79" height="26.75" fill="#ea5b5b"/>
<rect x="267.89" y="918.40" width="26.79" height="26.75" fill="#f4b6b8"/>
<rect x="294.37" y="918.40" width="26.79" height="26.75" fill="#f2a5a6"/>
<rect x="320.86" y="918.40" width="26.79" height="26.75" fill="#ee8687"/>
<rect x="347.34" y="918.40" width="26.79" height="26.75" fill="#ec7778"/>
<rect x="373.83" y="918.40" width="26.79" height="26.75" fill="#eb7273"/>
<rect x="400.31" y="918.40" width="26.79" height="26.75" fill="#ec7c7d"/>
<rect x="426.80" y="918.40" width="26.79" height="26.75" fill="#ea6c6e"/>
<rect x="453.29" y="918.40" width="26.79" height="26.75" fill="#f7cdcf"/>
<rect x="479.77" y="918.40" width="26.79" height="26.75" fill="#ea6c6e"/>
<rect x="506.26" y="918.40" width="26.79" height="26.75" fill="#f4bcbe"/>
<rect x="532.74" y="918.40" width="26.79" height="26.75" fill="#ea6365"/>
<rect x="559.23" y="918.40" width="26.79" height="26.75" fill="#ea6c6e"/>
<rect x="585.71" y="918.40" width="26.79" height="26.75" fill="#ed8182"/>
<rect x="612.20" y="918.40" width="26.79" height="26.75" fill="#f09192"/>
<rect x="638.69" y="918.40" width="26.79" height="26.75" fill="#f5c1c3"/>
<rect x="665.17" y="918.40" width="26.79" height="26.75" fill="#ef8c8c"/>
<rect x="691.66" y="918.40" width="26.79" height="26.75" fill="#ea6c6e"/>
<rect x="718.14" y="918.40" width="26.79" height="26.75" fill="#ee8687"/>
<rect x="744.63" y="918.40" width="26.79" height="26.75" fill="#f5c1c3"/>
<rect x="771.11" y="918.40" width="26.79" height="26.75" fill="#ea6c6e"/>
<rect x="797.60" y="918.40" width="26.79" height="26.75" fill="#ec7778"/>
<rect x="824.09" y="918.40" width="26.79" height="26.75" fill="#ea6c6e"/>
<rect x="850.57" y="918.40" width="26.79" height="26.75" fill="#ea6365"/>
<rect x="877.06" y="918.40" width="26.79" height="26.75" fill="#ea5b5b"/>
<rect x="903.54" y="918.40" width="26.79" height="26.75" fill="#e6151c"/>
<rect x="930.03" y="918.40" width="26.79" height="26.75" fill="#f09697"/>
<rect x="956.51" y="918.40" width="26.79" height="26.75" fill="#fafafa"/>
<rect x="983.00" y="918.40" width="26.49" height="26.75" fill="#ea5b5b"/>
<rect x="56.00" y="944.85" width="26.79" height="26.75" fill="#ea6c6e"/>
<rect x="82.49" y="944.85" width="26.79" height="26.75" fill="#e63c3c"/>
<rect x="108.97" y="944.85" width="26.79" height="26.75" fill="#f1a0a1"/>
<rect x="135.46" y="944.85" width="26.79" height="26.75" fill="#ed8182"/>
<rect x="161.94" y="944.85" width="26.79" height="26.75" fill="#f09192"/>
<rect x="188.43" y="944.85" width="26.79" height="26.75" fill="#ea6c6e"/>
<rect x="214.91" y="944.85" width="26.79" height="26.75" fill="#ea5f60"/>
<rect x="241.40" y="944.85" width="26.79" height="26.75" fill="#ea5f60"/>
<rect x="267.89" y="944.85" width="26.79" height="26.75" fill="#f4bcbe"/>
<rect x="294.37" y="944.85" width="26.79" height="26.75" fill="#ee8687"/>
<rect x="320.86" y="944.85" width="26.79" height="26.75" fill="#f09697"/>
<rect x="347.34" y="944.85" width="26.79" height="26.75" fill="#e63737"/>
<rect x="373.83" y="944.85" width="26.79" height="26.75" fill="#ea6365"/>
<rect x="400.31" y="944.85" width="26.79" height="26.75" fill="#ec7c7d"/>
<rect x="426.80" y="944.85" width="26.79" height="26.75" fill="#ea5b5b"/>
<rect x="453.29" y="944.85" width="26.79" height="26.75" fill="#f5c1c3"/>
<rect x="479.77" y="944.85" width="26.79" height="26.75" fill="#eb7273"/>
<rect x="506.26" y="944.85" width="26.79" height="26.75" fill="#f4bcbe"/>
<rect x="532.74" y="944.85" width="26.79" height="26.75" fill="#e63737"/>
<rect x="559.23" y="944.85" width="26.79" height="26.75" fill="#ea5656"/>
<rect x="585.71" y="944.85" width="26.79" height="26.75" fill="#f09192"/>
<rect x="612.20" y="944.85" width="26.79" height="26.75" fill="#f1a0a1"/>
<rect x="638.69" y="944.85" width="26.79" height="26.75" fill="#f2aaac"/>
<rect x="665.17" y="944.85" width="26.79" height="26.75" fill="#ea6365"/>
<rect x="691.66" y="944.85" width="26.79" height="26.75" fill="#e74040"/>
<rect x="718.14" y="944.85" width="26.79" height="26.75" fill="#ec7778"/>
<rect x="744.63" y="944.85" width="26.79" height="26.75" fill="#f7cdcf"/>
<rect x="771.11" y="944.85" width="26.79" height="26.75" fill="#ee8687"/>
<rect x="797.60" y="944.85" width="26.79" height="26.75" fill="#ee8687"/>
<rect x="824.09" y="944.85" width="26.79" height="26.75" fill="#ec7778"/>
<rect x="850.57" y="944.85" width="26.79" height="26.75" fill="#ea5252"/>
<rect x="877.06" y="944.85" width="26.79" height="26.75" fill="#ea5b5b"/>
<rect x="903.54" y="944.85" width="26.79" height="26.75" fill="#f09697"/>
<rect x="930.03" y="944.85" width="26.79" height="26.75" fill="#e6151c"/>
<rect x="956.51" y="944.85" width="26.79" height="26.75" fill="#fbe8e8"/>
<rect x="983.00" y="944.85" width="26.49" height="26.75" fill="#ea6365"/>
<rect x="56.00" y="971.30" width="26.79" height="26.75" fill="#f7cdcf"/>
<rect x="82.49" y="971.30" width="26.79" height="26.75" fill="#f7cdcf"/>
<rect x="108.97" y="971.30" width="26.79" height="26.75" fill="#e1e0f1"/>
<rect x="135.46" y="971.30" width="26.79" height="26.75" fill="#faddde"/>
<rect x="161.94" y="971.30" width="26.79" height="26.75" fill="#f1a0a1"/>
<rect x="188.43" y="971.30" width="26.79" height="26.75" fill="#fceded"/>
<rect x="214.91" y="971.30" width="26.79" height="26.75" fill="#fcfafa"/>
<rect x="241.40" y="971.30" width="26.79" height="26.75" fill="#e1e0f1"/>
<rect x="267.89" y="971.30" width="26.79" height="26.75" fill="#fceded"/>
<rect x="294.37" y="971.30" width="26.79" height="26.75" fill="#f4b6b8"/>
<rect x="320.86" y="971.30" width="26.79" height="26.75" fill="#fbe8e8"/>
<rect x="347.34" y="971.30" width="26.79" height="26.75" fill="#f9d8d9"/>
<rect x="373.83" y="971.30" width="26.79" height="26.75" fill="#fcf4f4"/>
<rect x="400.31" y="971.30" width="26.79" height="26.75" fill="#f5c1c3"/>
<rect x="426.80" y="971.30" width="26.79" height="26.75" fill="#f2f2f8"/>
<rect x="453.29" y="971.30" width="26.79" height="26.75" fill="#fae2e3"/>
<rect x="479.77" y="971.30" width="26.79" height="26.75" fill="#e1e0f1"/>
<rect x="506.26" y="971.30" width="26.79" height="26.75" fill="#ebeaf5"/>
<rect x="532.74" y="971.30" width="26.79" height="26.75" fill="#f9f9fb"/>
<rect x="559.23" y="971.30" width="26.79" height="26.75" fill="#fceded"/>
<rect x="585.71" y="971.30" width="26.79" height="26.75" fill="#cecce8"/>
<rect x="612.20" y="971.30" width="26.79" height="26.75" fill="#f6c7c9"/>
<rect x="638.69" y="971.30" width="26.79" height="26.75" fill="#fcfafa"/>
<rect x="665.17" y="971.30" width="26.79" height="26.75" fill="#fae2e3"/>
<rect x="691.66" y="971.30" width="26.79" height="26.75" fill="#f8d2d4"/>
<rect x="718.14" y="971.30" width="26.79" height="26.75" fill="#ebeaf5"/>
<rect x="744.63" y="971.30" width="26.79" height="26.75" fill="#dcdbee"/>
<rect x="771.11" y="971.30" width="26.79" height="26.75" fill="#cecce8"/>
<rect x="797.60" y="971.30" width="26.79" height="26.75" fill="#cecce8"/>
<rect x="824.09" y="971.30" width="26.79" height="26.75" fill="#d8d6ec"/>
<rect x="850.57" y="971.30" width="26.79" height="26.75" fill="#f9d8d9"/>
<rect x="877.06" y="971.30" width="26.79" height="26.75" fill="#ebeaf5"/>
<rect x="903.54" y="971.30" width="26.79" height="26.75" fill="#fafafa"/>
<rect x="930.03" y="971.30" width="26.79" height="26.75" fill="#fbe8e8"/>
<rect x="956.51" y="971.30" width="26.79" height="26.75" fill="#e6151c"/>
<rect x="983.00" y="971.30" width="26.49" height="26.75" fill="#ebeaf5"/>
<rect x="56.00" y="997.75" width="26.79" height="26.45" fill="#ef8c8c"/>
<rect x="82.49" y="997.75" width="26.79" height="26.45" fill="#ea5b5b"/>
<rect x="108.97" y="997.75" width="26.79" height="26.45" fill="#ea6c6e"/>
<rect x="135.46" y="997.75" width="26.79" height="26.45" fill="#ec7c7d"/>
<rect x="161.94" y="997.75" width="26.79" height="26.45" fill="#f3b0b2"/>
<rect x="188.43" y="997.75" width="26.79" height="26.45" fill="#ea5b5b"/>
<rect x="214.91" y="997.75" width="26.79" height="26.45" fill="#ea5b5b"/>
<rect x="241.40" y="997.75" width="26.79" height="26.45" fill="#e94949"/>
<rect x="267.89" y="997.75" width="26.79" height="26.45" fill="#f09697"/>
<rect x="294.37" y="997.75" width="26.79" height="26.45" fill="#f09b9c"/>
<rect x="320.86" y="997.75" width="26.79" height="26.45" fill="#ec7c7d"/>
<rect x="347.34" y="997.75" width="26.79" height="26.45" fill="#ea5b5b"/>
<rect x="373.83" y="997.75" width="26.79" height="26.45" fill="#ea4e4e"/>
<rect x="400.31" y="997.75" width="26.79" height="26.45" fill="#ee8687"/>
<rect x="426.80" y="997.75" width="26.79" height="26.45" fill="#ea6365"/>
<rect x="453.29" y="997.75" width="26.79" height="26.45" fill="#f2aaac"/>
<rect x="479.77" y="997.75" width="26.79" height="26.45" fill="#ea5f60"/>
<rect x="506.26" y="997.75" width="26.79" height="26.45" fill="#f9d8d9"/>
<rect x="532.74" y="997.75" width="26.79" height="26.45" fill="#e94949"/>
<rect x="559.23" y="997.75" width="26.79" height="26.45" fill="#ea5252"/>
<rect x="585.71" y="997.75" width="26.79" height="26.45" fill="#ea5f60"/>
<rect x="612.20" y="997.75" width="26.79" height="26.45" fill="#f4b6b8"/>
<rect x="638.69" y="997.75" width="26.79" height="26.45" fill="#f4bcbe"/>
<rect x="665.17" y="997.75" width="26.79" height="26.45" fill="#eb7273"/>
<rect x="691.66" y="997.75" width="26.79" height="26.45" fill="#ea5252"/>
<rect x="718.14" y="997.75" width="26.79" height="26.45" fill="#ea5b5b"/>
<rect x="744.63" y="997.75" width="26.79" height="26.45" fill="#f2a5a6"/>
<rect x="771.11" y="997.75" width="26.79" height="26.45" fill="#ea6365"/>
<rect x="797.60" y="997.75" width="26.79" height="26.45" fill="#ea6365"/>
<rect x="824.09" y="997.75" width="26.79" height="26.45" fill="#ea6c6e"/>
<rect x="850.57" y="997.75" width="26.79" height="26.45" fill="#ea5656"/>
<rect x="877.06" y="997.75" width="26.79" height="26.45" fill="#e63c3c"/>
<rect x="903.54" y="997.75" width="26.79" height="26.45" fill="#ea5b5b"/>
<rect x="930.03" y="997.75" width="26.79" height="26.45" fill="#ea6365"/>
<rect x="956.51" y="997.75" width="26.79" height="26.45" fill="#ebeaf5"/>
<rect x="983.00" y="997.75" width="26.49" height="26.45" fill="#e6151c"/>
</g>
<g font-size="6.80" font-weight="bold" text-anchor="middle" fill="#000">
<text x="69.54" y="87.92">1.00</text>
<text x="96.03" y="87.92">0.78</text>
<text x="122.51" y="87.92">0.18</text>
<text x="149.00" y="87.92">0.47</text>
<text x="175.49" y="87.92">0.59</text>
<text x="201.97" y="87.92">0.33</text>
<text x="228.46" y="87.92">0.36</text>
<text x="254.94" y="87.92">0.56</text>
<text x="281.43" y="87.92">0.18</text>
<text x="307.91" y="87.92">0.55</text>
<text x="334.40" y="87.92">0.29</text>
<text x="360.89" y="87.92">0.77</text>
<text x="387.37" y="87.92">0.35</text>
<text x="413.86" y="87.92">0.34</text>
<text x="440.34" y="87.92">0.52</text>
<text x="466.83" y="87.92">0.34</text>
<text x="493.31" y="87.92">0.39</text>
<text x="519.80" y="87.92">0.27</text>
<text x="546.29" y="87.92">0.43</text>
<text x="572.77" y="87.92">0.39</text>
<text x="599.26" y="87.92">0.38</text>
<text x="625.74" y="87.92">0.50</text>
<text x="652.23" y="87.92">0.23</text>
<text x="678.71" y="87.92">0.26</text>
<text x="705.20" y="87.92">0.71</text>
<text x="731.69" y="87.92">0.29</text>
<text x="758.17" y="87.92">0.20</text>
<text x="784.66" y="87.92">0.27</text>
<text x="811.14" y="87.92">0.21</text>
<text x="837.63" y="87.92">0.35</text>
<text x="864.11" y="87.92">0.78</text>
<text x="890.60" y="87.92">0.42</text>
<text x="917.09" y="87.92">0.34</text>
<text x="943.57" y="87.92">0.54</text>
<text x="970.06" y="87.92">0.18</text>
<text x="996.54" y="87.92">0.41</text>
<text x="69.54" y="114.38">0.78</text>
<text x="96.03" y="114.38">1.00</text>
<text x="122.51" y="114.38">0.37</text>
<text x="149.00" y="114.38">0.54</text>
<text x="175.49" y="114.38">0.53</text>
<text x="201.97" y="114.38">0.60</text>
<text x="228.46" y="114.38">0.59</text>
<text x="254.94" y="114.38">0.71</text>
<text x="281.43" y="114.38">0.32</text>
<text x="307.91" y="114.38">0.62</text>
<text x="334.40" y="114.38">0.42</text>
<text x="360.89" y="114.38">0.94</text>
<text x="387.37" y="114.38">0.66</text>
<text x="413.86" y="114.38">0.53</text>
<text x="440.34" y="114.38">0.59</text>
<text x="466.83" y="114.38">0.35</text>
<text x="493.31" y="114.38">0.57</text>
<text x="519.80" y="114.38">0.27</text>
<text x="546.29" y="114.38">0.69</text>
<text x="572.77" y="114.38">0.63</text>
<text x="599.26" y="114.38">0.45</text>
<text x="625.74" y="114.38">0.45</text>
<text x="652.23" y="114.38">0.30</text>
<text x="678.71" y="114.38">0.53</text>
<text x="705.20" y="114.38">0.86</text>
<text x="731.69" y="114.38">0.59</text>
<text x="758.17" y="114.38">0.34</text>
<text x="784.66" y="114.38">0.38</text>
<text x="811.14" y="114.38">0.36</text>
<text x="837.63" y="114.38">0.45</text>
<text x="864.11" y="114.38">0.92</text>
<text x="890.60" y="114.38">0.66</text>
<text x="917.09" y="114.38">0.49</text>
<text x="943.57" y="114.38">0.76</text>
<text x="970.06" y="114.38">0.18</text>
<text x="996.54" y="114.38">0.62</text>
<text x="69.54" y="140.82">0.18</text>
<text x="96.03" y="140.82">0.37</text>
<text x="122.51" y="140.82">1.00</text>
<text x="149.00" y="140.82">0.38</text>
<text x="175.49" y="140.82">0.09</text>
<text x="201.97" y="140.82">0.50</text>
<text x="228.46" y="140.82">0.40</text>
<text x="254.94" y="140.82">0.57</text>
<text x="281.43" y="140.82">0.19</text>
<text x="307.91" y="140.82">0.20</text>
<text x="334.40" y="140.82">0.40</text>
<text x="360.89" y="140.82">0.38</text>
<text x="387.37" y="140.82">0.49</text>
<text x="413.86" y="140.82">0.43</text>
<text x="440.34" y="140.82">0.40</text>
<text x="466.83" y="140.82">0.10</text>
<text x="493.31" y="140.82">0.53</text>
<text x="519.80" y="140.82">0.13</text>
<text x="546.29" y="140.82">0.47</text>
<text x="572.77" y="140.82">0.46</text>
<text x="599.26" y="140.82">0.38</text>
<text x="625.74" y="140.82">0.18</text>
<text x="652.23" y="140.82">0.24</text>
<text x="678.71" y="140.82">0.35</text>
<text x="705.20" y="140.82">0.36</text>
<text x="731.69" y="140.82">0.43</text>
<text x="758.17" y="140.82">0.38</text>
<text x="784.66" y="140.82">0.49</text>
<text x="811.14" y="140.82">0.36</text>
<text x="837.63" y="140.82">0.53</text>
<text x="864.11" y="140.82">0.42</text>
<text x="890.60" y="140.82">0.55</text>
<text x="917.09" y="140.82">0.42</text>
<text x="943.57" y="140.82">0.33</text>
<text x="970.06" y="140.82">−0.11</text>
<text x="996.54" y="140.82">0.55</text>
<text x="69.54" y="167.28">0.47</text>
<text x="96.03" y="167.28">0.54</text>
<text x="122.51" y="167.28">0.38</text>
<text x="149.00" y="167.28">1.00</text>
<text x="175.49" y="167.28">0.35</text>
<text x="201.97" y="167.28">0.53</text>
<text x="228.46" y="167.28">0.35</text>
<text x="254.94" y="167.28">0.58</text>
<text x="281.43" y="167.28">0.22</text>
<text x="307.91" y="167.28">0.36</text>
<text x="334.40" y="167.28">0.43</text>
<text x="360.89" y="167.28">0.55</text>
<text x="387.37" y="167.28">0.48</text>
<text x="413.86" y="167.28">0.52</text>
<text x="440.34" y="167.28">0.47</text>
<text x="466.83" y="167.28">0.23</text>
<text x="493.31" y="167.28">0.54</text>
<text x="519.80" y="167.28">0.13</text>
<text x="546.29" y="167.28">0.50</text>
<text x="572.77" y="167.28">0.50</text>
<text x="599.26" y="167.28">0.38</text>
<text x="625.74" y="167.28">0.38</text>
<text x="652.23" y="167.28">0.27</text>
<text x="678.71" y="167.28">0.43</text>
<text x="705.20" y="167.28">0.53</text>
<text x="731.69" y="167.28">0.41</text>
<text x="758.17" y="167.28">0.27</text>
<text x="784.66" y="167.28">0.42</text>
<text x="811.14" y="167.28">0.32</text>
<text x="837.63" y="167.28">0.49</text>
<text x="864.11" y="167.28">0.58</text>
<text x="890.60" y="167.28">0.53</text>
<text x="917.09" y="167.28">0.43</text>
<text x="943.57" y="167.28">0.47</text>
<text x="970.06" y="167.28">0.12</text>
<text x="996.54" y="167.28">0.48</text>
<text x="69.54" y="193.72">0.59</text>
<text x="96.03" y="193.72">0.53</text>
<text x="122.51" y="193.72">0.09</text>
<text x="149.00" y="193.72">0.35</text>
<text x="175.49" y="193.72">1.00</text>
<text x="201.97" y="193.72">0.21</text>
<text x="228.46" y="193.72">0.26</text>
<text x="254.94" y="193.72">0.42</text>
<text x="281.43" y="193.72">0.14</text>
<text x="307.91" y="193.72">0.43</text>
<text x="334.40" y="193.72">0.26</text>
<text x="360.89" y="193.72">0.55</text>
<text x="387.37" y="193.72">0.21</text>
<text x="413.86" y="193.72">0.34</text>
<text x="440.34" y="193.72">0.48</text>
<text x="466.83" y="193.72">0.25</text>
<text x="493.31" y="193.72">0.30</text>
<text x="519.80" y="193.72">0.26</text>
<text x="546.29" y="193.72">0.34</text>
<text x="572.77" y="193.72">0.33</text>
<text x="599.26" y="193.72">0.27</text>
<text x="625.74" y="193.72">0.62</text>
<text x="652.23" y="193.72">0.11</text>
<text x="678.71" y="193.72">0.21</text>
<text x="705.20" y="193.72">0.58</text>
<text x="731.69" y="193.72">0.17</text>
<text x="758.17" y="193.72">−0.04</text>
<text x="784.66" y="193.72">0.26</text>
<text x="811.14" y="193.72">0.20</text>
<text x="837.63" y="193.72">0.30</text>
<text x="864.11" y="193.72">0.58</text>
<text x="890.60" y="193.72">0.32</text>
<text x="917.09" y="193.72">0.36</text>
<text x="943.57" y="193.72">0.40</text>
<text x="970.06" y="193.72">0.33</text>
<text x="996.54" y="193.72">0.28</text>
<text x="69.54" y="220.18">0.33</text>
<text x="96.03" y="220.18">0.60</text>
<text x="122.51" y="220.18">0.50</text>
<text x="149.00" y="220.18">0.53</text>
<text x="175.49" y="220.18">0.21</text>
<text x="201.97" y="220.18">1.00</text>
<text x="228.46" y="220.18">0.48</text>
<text x="254.94" y="220.18">0.70</text>
<text x="281.43" y="220.18">0.31</text>
<text x="307.91" y="220.18">0.33</text>
<text x="334.40" y="220.18">0.51</text>
<text x="360.89" y="220.18">0.55</text>
<text x="387.37" y="220.18">0.75</text>
<text x="413.86" y="220.18">0.63</text>
<text x="440.34" y="220.18">0.61</text>
<text x="466.83" y="220.18">0.24</text>
<text x="493.31" y="220.18">0.75</text>
<text x="519.80" y="220.18">0.14</text>
<text x="546.29" y="220.18">0.70</text>
<text x="572.77" y="220.18">0.70</text>
<text x="599.26" y="220.18">0.47</text>
<text x="625.74" y="220.18">0.27</text>
<text x="652.23" y="220.18">0.32</text>
<text x="678.71" y="220.18">0.72</text>
<text x="705.20" y="220.18">0.59</text>
<text x="731.69" y="220.18">0.59</text>
<text x="758.17" y="220.18">0.33</text>
<text x="784.66" y="220.18">0.62</text>
<text x="811.14" y="220.18">0.43</text>
<text x="837.63" y="220.18">0.60</text>
<text x="864.11" y="220.18">0.63</text>
<text x="890.60" y="220.18">0.84</text>
<text x="917.09" y="220.18">0.50</text>
<text x="943.57" y="220.18">0.54</text>
<text x="970.06" y="220.18">0.07</text>
<text x="996.54" y="220.18">0.63</text>
<text x="69.54" y="246.62">0.36</text>
<text x="96.03" y="246.62">0.59</text>
<text x="122.51" y="246.62">0.40</text>
<text x="149.00" y="246.62">0.35</text>
<text x="175.49" y="246.62">0.26</text>
<text x="201.97" y="246.62">0.48</text>
<text x="228.46" y="246.62">1.00</text>
<text x="254.94" y="246.62">0.41</text>
<text x="281.43" y="246.62">0.33</text>
<text x="307.91" y="246.62">0.30</text>
<text x="334.40" y="246.62">0.26</text>
<text x="360.89" y="246.62">0.55</text>
<text x="387.37" y="246.62">0.63</text>
<text x="413.86" y="246.62">0.34</text>
<text x="440.34" y="246.62">0.29</text>
<text x="466.83" y="246.62">0.09</text>
<text x="493.31" y="246.62">0.32</text>
<text x="519.80" y="246.62">0.18</text>
<text x="546.29" y="246.62">0.59</text>
<text x="572.77" y="246.62">0.54</text>
<text x="599.26" y="246.62">0.37</text>
<text x="625.74" y="246.62">0.12</text>
<text x="652.23" y="246.62">0.21</text>
<text x="678.71" y="246.62">0.50</text>
<text x="705.20" y="246.62">0.68</text>
<text x="731.69" y="246.62">0.73</text>
<text x="758.17" y="246.62">0.32</text>
<text x="784.66" y="246.62">0.26</text>
<text x="811.14" y="246.62">0.38</text>
<text x="837.63" y="246.62">0.23</text>
<text x="864.11" y="246.62">0.49</text>
<text x="890.60" y="246.62">0.53</text>
<text x="917.09" y="246.62">0.39</text>
<text x="943.57" y="246.62">0.60</text>
<text x="970.06" y="246.62">0.03</text>
<text x="996.54" y="246.62">0.61</text>
<text x="69.54" y="273.07">0.56</text>
<text x="96.03" y="273.07">0.71</text>
<text x="122.51" y="273.07">0.57</text>
<text x="149.00" y="273.07">0.58</text>
<text x="175.49" y="273.07">0.42</text>
<text x="201.97" y="273.07">0.70</text>
<text x="228.46" y="273.07">0.41</text>
<text x="254.94" y="273.07">1.00</text>
<text x="281.43" y="273.07">0.30</text>
<text x="307.91" y="273.07">0.39</text>
<text x="334.40" y="273.07">0.53</text>
<text x="360.89" y="273.07">0.77</text>
<text x="387.37" y="273.07">0.62</text>
<text x="413.86" y="273.07">0.57</text>
<text x="440.34" y="273.07">0.83</text>
<text x="466.83" y="273.07">0.32</text>
<text x="493.31" y="273.07">0.85</text>
<text x="519.80" y="273.07">0.30</text>
<text x="546.29" y="273.07">0.75</text>
<text x="572.77" y="273.07">0.68</text>
<text x="599.26" y="273.07">0.62</text>
<text x="625.74" y="273.07">0.54</text>
<text x="652.23" y="273.07">0.27</text>
<text x="678.71" y="273.07">0.52</text>
<text x="705.20" y="273.07">0.72</text>
<text x="731.69" y="273.07">0.48</text>
<text x="758.17" y="273.07">0.35</text>
<text x="784.66" y="273.07">0.78</text>
<text x="811.14" y="273.07">0.52</text>
<text x="837.63" y="273.07">0.81</text>
<text x="864.11" y="273.07">0.81</text>
<text x="890.60" y="273.07">0.81</text>
<text x="917.09" y="273.07">0.63</text>
<text x="943.57" y="273.07">0.60</text>
<text x="970.06" y="273.07">−0.09</text>
<text x="996.54" y="273.07">0.70</text>
<text x="69.54" y="299.53">0.18</text>
<text x="96.03" y="299.53">0.32</text>
<text x="122.51" y="299.53">0.19</text>
<text x="149.00" y="299.53">0.22</text>
<text x="175.49" y="299.53">0.14</text>
<text x="201.97" y="299.53">0.31</text>
<text x="228.46" y="299.53">0.33</text>
<text x="254.94" y="299.53">0.30</text>
<text x="281.43" y="299.53">1.00</text>
<text x="307.91" y="299.53">0.22</text>
<text x="334.40" y="299.53">0.27</text>
<text x="360.89" y="299.53">0.29</text>
<text x="387.37" y="299.53">0.38</text>
<text x="413.86" y="299.53">0.21</text>
<text x="440.34" y="299.53">0.20</text>
<text x="466.83" y="299.53">0.18</text>
<text x="493.31" y="299.53">0.28</text>
<text x="519.80" y="299.53">0.18</text>
<text x="546.29" y="299.53">0.28</text>
<text x="572.77" y="299.53">0.33</text>
<text x="599.26" y="299.53">0.21</text>
<text x="625.74" y="299.53">0.11</text>
<text x="652.23" y="299.53">0.11</text>
<text x="678.71" y="299.53">0.23</text>
<text x="705.20" y="299.53">0.34</text>
<text x="731.69" y="299.53">0.39</text>
<text x="758.17" y="299.53">0.19</text>
<text x="784.66" y="299.53">0.24</text>
<text x="811.14" y="299.53">0.34</text>
<text x="837.63" y="299.53">0.18</text>
<text x="864.11" y="299.53">0.28</text>
<text x="890.60" y="299.53">0.35</text>
<text x="917.09" y="299.53">0.26</text>
<text x="943.57" y="299.53">0.24</text>
<text x="970.06" y="299.53">0.07</text>
<text x="996.54" y="299.53">0.39</text>
<text x="69.54" y="325.98">0.55</text>
<text x="96.03" y="325.98">0.62</text>
<text x="122.51" y="325.98">0.20</text>
<text x="149.00" y="325.98">0.36</text>
<text x="175.49" y="325.98">0.43</text>
<text x="201.97" y="325.98">0.33</text>
<text x="228.46" y="325.98">0.30</text>
<text x="254.94" y="325.98">0.39</text>
<text x="281.43" y="325.98">0.22</text>
<text x="307.91" y="325.98">1.00</text>
<text x="334.40" y="325.98">0.26</text>
<text x="360.89" y="325.98">0.58</text>
<text x="387.37" y="325.98">0.37</text>
<text x="413.86" y="325.98">0.36</text>
<text x="440.34" y="325.98">0.38</text>
<text x="466.83" y="325.98">0.55</text>
<text x="493.31" y="325.98">0.35</text>
<text x="519.80" y="325.98">0.12</text>
<text x="546.29" y="325.98">0.44</text>
<text x="572.77" y="325.98">0.48</text>
<text x="599.26" y="325.98">0.26</text>
<text x="625.74" y="325.98">0.42</text>
<text x="652.23" y="325.98">0.23</text>
<text x="678.71" y="325.98">0.31</text>
<text x="705.20" y="325.98">0.59</text>
<text x="731.69" y="325.98">0.35</text>
<text x="758.17" y="325.98">0.09</text>
<text x="784.66" y="325.98">0.21</text>
<text x="811.14" y="325.98">0.16</text>
<text x="837.63" y="325.98">0.26</text>
<text x="864.11" y="325.98">0.56</text>
<text x="890.60" y="325.98">0.45</text>
<text x="917.09" y="325.98">0.32</text>
<text x="943.57" y="325.98">0.44</text>
<text x="970.06" y="325.98">0.27</text>
<text x="996.54" y="325.98">0.36</text>
<text x="69.54" y="352.43">0.29</text>
<text x="96.03" y="352.43">0.42</text>
<text x="122.51" y="352.43">0.40</text>
<text x="149.00" y="352.43">0.43</text>
<text x="175.49" y="352.43">0.26</text>
<text x="201.97" y="352.43">0.51</text>
<text x="228.46" y="352.43">0.26</text>
<text x="254.94" y="352.43">0.53</text>
<text x="281.43" y="352.43">0.27</text>
<text x="307.91" y="352.43">0.26</text>
<text x="334.40" y="352.43">1.00</text>
<text x="360.89" y="352.43">0.43</text>
<text x="387.37" y="352.43">0.41</text>
<text x="413.86" y="352.43">0.52</text>
<text x="440.34" y="352.43">0.53</text>
<text x="466.83" y="352.43">0.26</text>
<text x="493.31" y="352.43">0.55</text>
<text x="519.80" y="352.43">0.08</text>
<text x="546.29" y="352.43">0.51</text>
<text x="572.77" y="352.43">0.53</text>
<text x="599.26" y="352.43">0.33</text>
<text x="625.74" y="352.43">0.35</text>
<text x="652.23" y="352.43">0.21</text>
<text x="678.71" y="352.43">0.35</text>
<text x="705.20" y="352.43">0.42</text>
<text x="731.69" y="352.43">0.32</text>
<text x="758.17" y="352.43">0.24</text>
<text x="784.66" y="352.43">0.46</text>
<text x="811.14" y="352.43">0.35</text>
<text x="837.63" y="352.43">0.44</text>
<text x="864.11" y="352.43">0.48</text>
<text x="890.60" y="352.43">0.57</text>
<text x="917.09" y="352.43">0.44</text>
<text x="943.57" y="352.43">0.39</text>
<text x="970.06" y="352.43">0.08</text>
<text x="996.54" y="352.43">0.48</text>
<text x="69.54" y="378.88">0.77</text>
<text x="96.03" y="378.88">0.94</text>
<text x="122.51" y="378.88">0.38</text>
<text x="149.00" y="378.88">0.55</text>
<text x="175.49" y="378.88">0.55</text>
<text x="201.97" y="378.88">0.55</text>
<text x="228.46" y="378.88">0.55</text>
<text x="254.94" y="378.88">0.77</text>
<text x="281.43" y="378.88">0.29</text>
<text x="307.91" y="378.88">0.58</text>
<text x="334.40" y="378.88">0.43</text>
<text x="360.89" y="378.88">1.00</text>
<text x="387.37" y="378.88">0.64</text>
<text x="413.86" y="378.88">0.53</text>
<text x="440.34" y="378.88">0.65</text>
<text x="466.83" y="378.88">0.34</text>
<text x="493.31" y="378.88">0.58</text>
<text x="519.80" y="378.88">0.28</text>
<text x="546.29" y="378.88">0.73</text>
<text x="572.77" y="378.88">0.62</text>
<text x="599.26" y="378.88">0.49</text>
<text x="625.74" y="378.88">0.51</text>
<text x="652.23" y="378.88">0.27</text>
<text x="678.71" y="378.88">0.53</text>
<text x="705.20" y="378.88">0.87</text>
<text x="731.69" y="378.88">0.52</text>
<text x="758.17" y="378.88">0.29</text>
<text x="784.66" y="378.88">0.44</text>
<text x="811.14" y="378.88">0.38</text>
<text x="837.63" y="378.88">0.50</text>
<text x="864.11" y="378.88">0.90</text>
<text x="890.60" y="378.88">0.65</text>
<text x="917.09" y="378.88">0.51</text>
<text x="943.57" y="378.88">0.79</text>
<text x="970.06" y="378.88">0.13</text>
<text x="996.54" y="378.88">0.63</text>
<text x="69.54" y="405.33">0.35</text>
<text x="96.03" y="405.33">0.66</text>
<text x="122.51" y="405.33">0.49</text>
<text x="149.00" y="405.33">0.48</text>
<text x="175.49" y="405.33">0.21</text>
<text x="201.97" y="405.33">0.75</text>
<text x="228.46" y="405.33">0.63</text>
<text x="254.94" y="405.33">0.62</text>
<text x="281.43" y="405.33">0.38</text>
<text x="307.91" y="405.33">0.37</text>
<text x="334.40" y="405.33">0.41</text>
<text x="360.89" y="405.33">0.64</text>
<text x="387.37" y="405.33">1.00</text>
<text x="413.86" y="405.33">0.58</text>
<text x="440.34" y="405.33">0.41</text>
<text x="466.83" y="405.33">0.23</text>
<text x="493.31" y="405.33">0.59</text>
<text x="519.80" y="405.33">0.16</text>
<text x="546.29" y="405.33">0.70</text>
<text x="572.77" y="405.33">0.65</text>
<text x="599.26" y="405.33">0.43</text>
<text x="625.74" y="405.33">0.18</text>
<text x="652.23" y="405.33">0.32</text>
<text x="678.71" y="405.33">0.59</text>
<text x="705.20" y="405.33">0.64</text>
<text x="731.69" y="405.33">0.75</text>
<text x="758.17" y="405.33">0.41</text>
<text x="784.66" y="405.33">0.39</text>
<text x="811.14" y="405.33">0.42</text>
<text x="837.63" y="405.33">0.38</text>
<text x="864.11" y="405.33">0.61</text>
<text x="890.60" y="405.33">0.74</text>
<text x="917.09" y="405.33">0.52</text>
<text x="943.57" y="405.33">0.58</text>
<text x="970.06" y="405.33">0.04</text>
<text x="996.54" y="405.33">0.68</text>
<text x="69.54" y="431.78">0.34</text>
<text x="96.03" y="431.78">0.53</text>
<text x="122.51" y="431.78">0.43</text>
<text x="149.00" y="431.78">0.52</text>
<text x="175.49" y="431.78">0.34</text>
<text x="201.97" y="431.78">0.63</text>
<text x="228.46" y="431.78">0.34</text>
<text x="254.94" y="431.78">0.57</text>
<text x="281.43" y="431.78">0.21</text>
<text x="307.91" y="431.78">0.36</text>
<text x="334.40" y="431.78">0.52</text>
<text x="360.89" y="431.78">0.53</text>
<text x="387.37" y="431.78">0.58</text>
<text x="413.86" y="431.78">1.00</text>
<text x="440.34" y="431.78">0.43</text>
<text x="466.83" y="431.78">0.27</text>
<text x="493.31" y="431.78">0.61</text>
<text x="519.80" y="431.78">0.14</text>
<text x="546.29" y="431.78">0.55</text>
<text x="572.77" y="431.78">0.60</text>
<text x="599.26" y="431.78">0.22</text>
<text x="625.74" y="431.78">0.47</text>
<text x="652.23" y="431.78">0.32</text>
<text x="678.71" y="431.78">0.45</text>
<text x="705.20" y="431.78">0.50</text>
<text x="731.69" y="431.78">0.42</text>
<text x="758.17" y="431.78">0.32</text>
<text x="784.66" y="431.78">0.35</text>
<text x="811.14" y="431.78">0.27</text>
<text x="837.63" y="431.78">0.44</text>
<text x="864.11" y="431.78">0.58</text>
<text x="890.60" y="431.78">0.58</text>
<text x="917.09" y="431.78">0.48</text>
<text x="943.57" y="431.78">0.48</text>
<text x="970.06" y="431.78">0.22</text>
<text x="996.54" y="431.78">0.44</text>
<text x="69.54" y="458.23">0.52</text>
<text x="96.03" y="458.23">0.59</text>
<text x="122.51" y="458.23">0.40</text>
<text x="149.00" y="458.23">0.47</text>
<text x="175.49" y="458.23">0.48</text>
<text x="201.97" y="458.23">0.61</text>
<text x="228.46" y="458.23">0.29</text>
<text x="254.94" y="458.23">0.83</text>
<text x="281.43" y="458.23">0.20</text>
<text x="307.91" y="458.23">0.38</text>
<text x="334.40" y="458.23">0.53</text>
<text x="360.89" y="458.23">0.65</text>
<text x="387.37" y="458.23">0.41</text>
<text x="413.86" y="458.23">0.43</text>
<text x="440.34" y="458.23">1.00</text>
<text x="466.83" y="458.23">0.36</text>
<text x="493.31" y="458.23">0.75</text>
<text x="519.80" y="458.23">0.28</text>
<text x="546.29" y="458.23">0.76</text>
<text x="572.77" y="458.23">0.64</text>
<text x="599.26" y="458.23">0.59</text>
<text x="625.74" y="458.23">0.53</text>
<text x="652.23" y="458.23">0.19</text>
<text x="678.71" y="458.23">0.52</text>
<text x="705.20" y="458.23">0.65</text>
<text x="731.69" y="458.23">0.31</text>
<text x="758.17" y="458.23">0.19</text>
<text x="784.66" y="458.23">0.81</text>
<text x="811.14" y="458.23">0.51</text>
<text x="837.63" y="458.23">0.79</text>
<text x="864.11" y="458.23">0.71</text>
<text x="890.60" y="458.23">0.78</text>
<text x="917.09" y="458.23">0.54</text>
<text x="943.57" y="458.23">0.62</text>
<text x="970.06" y="458.23">−0.04</text>
<text x="996.54" y="458.23">0.59</text>
<text x="69.54" y="484.68">0.34</text>
<text x="96.03" y="484.68">0.35</text>
<text x="122.51" y="484.68">0.10</text>
<text x="149.00" y="484.68">0.23</text>
<text x="175.49" y="484.68">0.25</text>
<text x="201.97" y="484.68">0.24</text>
<text x="228.46" y="484.68">0.09</text>
<text x="254.94" y="484.68">0.32</text>
<text x="281.43" y="484.68">0.18</text>
<text x="307.91" y="484.68">0.55</text>
<text x="334.40" y="484.68">0.26</text>
<text x="360.89" y="484.68">0.34</text>
<text x="387.37" y="484.68">0.23</text>
<text x="413.86" y="484.68">0.27</text>
<text x="440.34" y="484.68">0.36</text>
<text x="466.83" y="484.68">1.00</text>
<text x="493.31" y="484.68">0.34</text>
<text x="519.80" y="484.68">0.04</text>
<text x="546.29" y="484.68">0.31</text>
<text x="572.77" y="484.68">0.24</text>
<text x="599.26" y="484.68">0.28</text>
<text x="625.74" y="484.68">0.26</text>
<text x="652.23" y="484.68">0.03</text>
<text x="678.71" y="484.68">0.20</text>
<text x="705.20" y="484.68">0.32</text>
<text x="731.69" y="484.68">0.16</text>
<text x="758.17" y="484.68">0.07</text>
<text x="784.66" y="484.68">0.18</text>
<text x="811.14" y="484.68">0.14</text>
<text x="837.63" y="484.68">0.30</text>
<text x="864.11" y="484.68">0.36</text>
<text x="890.60" y="484.68">0.34</text>
<text x="917.09" y="484.68">0.18</text>
<text x="943.57" y="484.68">0.23</text>
<text x="970.06" y="484.68">0.09</text>
<text x="996.54" y="484.68">0.29</text>
<text x="69.54" y="511.13">0.39</text>
<text x="96.03" y="511.13">0.57</text>
<text x="122.51" y="511.13">0.53</text>
<text x="149.00" y="511.13">0.54</text>
<text x="175.49" y="511.13">0.30</text>
<text x="201.97" y="511.13">0.75</text>
<text x="228.46" y="511.13">0.32</text>
<text x="254.94" y="511.13">0.85</text>
<text x="281.43" y="511.13">0.28</text>
<text x="307.91" y="511.13">0.35</text>
<text x="334.40" y="511.13">0.55</text>
<text x="360.89" y="511.13">0.58</text>
<text x="387.37" y="511.13">0.59</text>
<text x="413.86" y="511.13">0.61</text>
<text x="440.34" y="511.13">0.75</text>
<text x="466.83" y="511.13">0.34</text>
<text x="493.31" y="511.13">1.00</text>
<text x="519.80" y="511.13">0.21</text>
<text x="546.29" y="511.13">0.68</text>
<text x="572.77" y="511.13">0.64</text>
<text x="599.26" y="511.13">0.53</text>
<text x="625.74" y="511.13">0.41</text>
<text x="652.23" y="511.13">0.33</text>
<text x="678.71" y="511.13">0.49</text>
<text x="705.20" y="511.13">0.59</text>
<text x="731.69" y="511.13">0.43</text>
<text x="758.17" y="511.13">0.32</text>
<text x="784.66" y="511.13">0.72</text>
<text x="811.14" y="511.13">0.46</text>
<text x="837.63" y="511.13">0.76</text>
<text x="864.11" y="511.13">0.66</text>
<text x="890.60" y="511.13">0.80</text>
<text x="917.09" y="511.13">0.55</text>
<text x="943.57" y="511.13">0.52</text>
<text x="970.06" y="511.13">−0.09</text>
<text x="996.54" y="511.13">0.60</text>
<text x="69.54" y="537.58">0.27</text>
<text x="96.03" y="537.58">0.27</text>
<text x="122.51" y="537.58">0.13</text>
<text x="149.00" y="537.58">0.13</text>
<text x="175.49" y="537.58">0.26</text>
<text x="201.97" y="537.58">0.14</text>
<text x="228.46" y="537.58">0.18</text>
<text x="254.94" y="537.58">0.30</text>
<text x="281.43" y="537.58">0.18</text>
<text x="307.91" y="537.58">0.12</text>
<text x="334.40" y="537.58">0.08</text>
<text x="360.89" y="537.58">0.28</text>
<text x="387.37" y="537.58">0.16</text>
<text x="413.86" y="537.58">0.14</text>
<text x="440.34" y="537.58">0.28</text>
<text x="466.83" y="537.58">0.04</text>
<text x="493.31" y="537.58">0.21</text>
<text x="519.80" y="537.58">1.00</text>
<text x="546.29" y="537.58">0.26</text>
<text x="572.77" y="537.58">0.24</text>
<text x="599.26" y="537.58">0.16</text>
<text x="625.74" y="537.58">0.24</text>
<text x="652.23" y="537.58">0.17</text>
<text x="678.71" y="537.58">0.05</text>
<text x="705.20" y="537.58">0.34</text>
<text x="731.69" y="537.58">0.16</text>
<text x="758.17" y="537.58">0.17</text>
<text x="784.66" y="537.58">0.25</text>
<text x="811.14" y="537.58">0.25</text>
<text x="837.63" y="537.58">0.24</text>
<text x="864.11" y="537.58">0.28</text>
<text x="890.60" y="537.58">0.25</text>
<text x="917.09" y="537.58">0.24</text>
<text x="943.57" y="537.58">0.24</text>
<text x="970.06" y="537.58">−0.05</text>
<text x="996.54" y="537.58">0.15</text>
<text x="69.54" y="564.03">0.43</text>
<text x="96.03" y="564.03">0.69</text>
<text x="122.51" y="564.03">0.47</text>
<text x="149.00" y="564.03">0.50</text>
<text x="175.49" y="564.03">0.34</text>
<text x="201.97" y="564.03">0.70</text>
<text x="228.46" y="564.03">0.59</text>
<text x="254.94" y="564.03">0.75</text>
<text x="281.43" y="564.03">0.28</text>
<text x="307.91" y="564.03">0.44</text>
<text x="334.40" y="564.03">0.51</text>
<text x="360.89" y="564.03">0.73</text>
<text x="387.37" y="564.03">0.70</text>
<text x="413.86" y="564.03">0.55</text>
<text x="440.34" y="564.03">0.76</text>
<text x="466.83" y="564.03">0.31</text>
<text x="493.31" y="564.03">0.68</text>
<text x="519.80" y="564.03">0.26</text>
<text x="546.29" y="564.03">1.00</text>
<text x="572.77" y="564.03">0.76</text>
<text x="599.26" y="564.03">0.55</text>
<text x="625.74" y="564.03">0.41</text>
<text x="652.23" y="564.03">0.23</text>
<text x="678.71" y="564.03">0.72</text>
<text x="705.20" y="564.03">0.74</text>
<text x="731.69" y="564.03">0.62</text>
<text x="758.17" y="564.03">0.30</text>
<text x="784.66" y="564.03">0.67</text>
<text x="811.14" y="564.03">0.55</text>
<text x="837.63" y="564.03">0.62</text>
<text x="864.11" y="564.03">0.67</text>
<text x="890.60" y="564.03">0.86</text>
<text x="917.09" y="564.03">0.57</text>
<text x="943.57" y="564.03">0.77</text>
<text x="970.06" y="564.03">−0.03</text>
<text x="996.54" y="564.03">0.69</text>
<text x="69.54" y="590.48">0.39</text>
<text x="96.03" y="590.48">0.63</text>
<text x="122.51" y="590.48">0.46</text>
<text x="149.00" y="590.48">0.50</text>
<text x="175.49" y="590.48">0.33</text>
<text x="201.97" y="590.48">0.70</text>
<text x="228.46" y="590.48">0.54</text>
<text x="254.94" y="590.48">0.68</text>
<text x="281.43" y="590.48">0.33</text>
<text x="307.91" y="590.48">0.48</text>
<text x="334.40" y="590.48">0.53</text>
<text x="360.89" y="590.48">0.62</text>
<text x="387.37" y="590.48">0.65</text>
<text x="413.86" y="590.48">0.60</text>
<text x="440.34" y="590.48">0.64</text>
<text x="466.83" y="590.48">0.24</text>
<text x="493.31" y="590.48">0.64</text>
<text x="519.80" y="590.48">0.24</text>
<text x="546.29" y="590.48">0.76</text>
<text x="572.77" y="590.48">1.00</text>
<text x="599.26" y="590.48">0.46</text>
<text x="625.74" y="590.48">0.39</text>
<text x="652.23" y="590.48">0.30</text>
<text x="678.71" y="590.48">0.56</text>
<text x="705.20" y="590.48">0.68</text>
<text x="731.69" y="590.48">0.59</text>
<text x="758.17" y="590.48">0.29</text>
<text x="784.66" y="590.48">0.60</text>
<text x="811.14" y="590.48">0.46</text>
<text x="837.63" y="590.48">0.53</text>
<text x="864.11" y="590.48">0.63</text>
<text x="890.60" y="590.48">0.80</text>
<text x="917.09" y="590.48">0.55</text>
<text x="943.57" y="590.48">0.64</text>
<text x="970.06" y="590.48">0.07</text>
<text x="996.54" y="590.48">0.65</text>
<text x="69.54" y="616.93">0.38</text>
<text x="96.03" y="616.93">0.45</text>
<text x="122.51" y="616.93">0.38</text>
<text x="149.00" y="616.93">0.38</text>
<text x="175.49" y="616.93">0.27</text>
<text x="201.97" y="616.93">0.47</text>
<text x="228.46" y="616.93">0.37</text>
<text x="254.94" y="616.93">0.62</text>
<text x="281.43" y="616.93">0.21</text>
<text x="307.91" y="616.93">0.26</text>
<text x="334.40" y="616.93">0.33</text>
<text x="360.89" y="616.93">0.49</text>
<text x="387.37" y="616.93">0.43</text>
<text x="413.86" y="616.93">0.22</text>
<text x="440.34" y="616.93">0.59</text>
<text x="466.83" y="616.93">0.28</text>
<text x="493.31" y="616.93">0.53</text>
<text x="519.80" y="616.93">0.16</text>
<text x="546.29" y="616.93">0.55</text>
<text x="572.77" y="616.93">0.46</text>
<text x="599.26" y="616.93">1.00</text>
<text x="625.74" y="616.93">0.31</text>
<text x="652.23" y="616.93">0.14</text>
<text x="678.71" y="616.93">0.40</text>
<text x="705.20" y="616.93">0.53</text>
<text x="731.69" y="616.93">0.39</text>
<text x="758.17" y="616.93">0.14</text>
<text x="784.66" y="616.93">0.56</text>
<text x="811.14" y="616.93">0.48</text>
<text x="837.63" y="616.93">0.54</text>
<text x="864.11" y="616.93">0.51</text>
<text x="890.60" y="616.93">0.60</text>
<text x="917.09" y="616.93">0.47</text>
<text x="943.57" y="616.93">0.40</text>
<text x="970.06" y="616.93">−0.17</text>
<text x="996.54" y="616.93">0.60</text>
<text x="69.54" y="643.38">0.50</text>
<text x="96.03" y="643.38">0.45</text>
<text x="122.51" y="643.38">0.18</text>
<text x="149.00" y="643.38">0.38</text>
<text x="175.49" y="643.38">0.62</text>
<text x="201.97" y="643.38">0.27</text>
<text x="228.46" y="643.38">0.12</text>
<text x="254.94" y="643.38">0.54</text>
<text x="281.43" y="643.38">0.11</text>
<text x="307.91" y="643.38">0.42</text>
<text x="334.40" y="643.38">0.35</text>
<text x="360.89" y="643.38">0.51</text>
<text x="387.37" y="643.38">0.18</text>
<text x="413.86" y="643.38">0.47</text>
<text x="440.34" y="643.38">0.53</text>
<text x="466.83" y="643.38">0.26</text>
<text x="493.31" y="643.38">0.41</text>
<text x="519.80" y="643.38">0.24</text>
<text x="546.29" y="643.38">0.41</text>
<text x="572.77" y="643.38">0.39</text>
<text x="599.26" y="643.38">0.31</text>
<text x="625.74" y="643.38">1.00</text>
<text x="652.23" y="643.38">0.12</text>
<text x="678.71" y="643.38">0.29</text>
<text x="705.20" y="643.38">0.51</text>
<text x="731.69" y="643.38">0.11</text>
<text x="758.17" y="643.38">0.00</text>
<text x="784.66" y="643.38">0.43</text>
<text x="811.14" y="643.38">0.22</text>
<text x="837.63" y="643.38">0.43</text>
<text x="864.11" y="643.38">0.55</text>
<text x="890.60" y="643.38">0.38</text>
<text x="917.09" y="643.38">0.40</text>
<text x="943.57" y="643.38">0.35</text>
<text x="970.06" y="643.38">0.20</text>
<text x="996.54" y="643.38">0.27</text>
<text x="69.54" y="669.83">0.23</text>
<text x="96.03" y="669.83">0.30</text>
<text x="122.51" y="669.83">0.24</text>
<text x="149.00" y="669.83">0.27</text>
<text x="175.49" y="669.83">0.11</text>
<text x="201.97" y="669.83">0.32</text>
<text x="228.46" y="669.83">0.21</text>
<text x="254.94" y="669.83">0.27</text>
<text x="281.43" y="669.83">0.11</text>
<text x="307.91" y="669.83">0.23</text>
<text x="334.40" y="669.83">0.21</text>
<text x="360.89" y="669.83">0.27</text>
<text x="387.37" y="669.83">0.32</text>
<text x="413.86" y="669.83">0.32</text>
<text x="440.34" y="669.83">0.19</text>
<text x="466.83" y="669.83">0.03</text>
<text x="493.31" y="669.83">0.33</text>
<text x="519.80" y="669.83">0.17</text>
<text x="546.29" y="669.83">0.23</text>
<text x="572.77" y="669.83">0.30</text>
<text x="599.26" y="669.83">0.14</text>
<text x="625.74" y="669.83">0.12</text>
<text x="652.23" y="669.83">1.00</text>
<text x="678.71" y="669.83">0.14</text>
<text x="705.20" y="669.83">0.23</text>
<text x="731.69" y="669.83">0.27</text>
<text x="758.17" y="669.83">0.15</text>
<text x="784.66" y="669.83">0.17</text>
<text x="811.14" y="669.83">0.15</text>
<text x="837.63" y="669.83">0.24</text>
<text x="864.11" y="669.83">0.28</text>
<text x="890.60" y="669.83">0.25</text>
<text x="917.09" y="669.83">0.23</text>
<text x="943.57" y="669.83">0.30</text>
<text x="970.06" y="669.83">0.03</text>
<text x="996.54" y="669.83">0.24</text>
<text x="69.54" y="696.28">0.26</text>
<text x="96.03" y="696.28">0.53</text>
<text x="122.51" y="696.28">0.35</text>
<text x="149.00" y="696.28">0.43</text>
<text x="175.49" y="696.28">0.21</text>
<text x="201.97" y="696.28">0.72</text>
<text x="228.46" y="696.28">0.50</text>
<text x="254.94" y="696.28">0.52</text>
<text x="281.43" y="696.28">0.23</text>
<text x="307.91" y="696.28">0.31</text>
<text x="334.40" y="696.28">0.35</text>
<text x="360.89" y="696.28">0.53</text>
<text x="387.37" y="696.28">0.59</text>
<text x="413.86" y="696.28">0.45</text>
<text x="440.34" y="696.28">0.52</text>
<text x="466.83" y="696.28">0.20</text>
<text x="493.31" y="696.28">0.49</text>
<text x="519.80" y="696.28">0.05</text>
<text x="546.29" y="696.28">0.72</text>
<text x="572.77" y="696.28">0.56</text>
<text x="599.26" y="696.28">0.40</text>
<text x="625.74" y="696.28">0.29</text>
<text x="652.23" y="696.28">0.14</text>
<text x="678.71" y="696.28">1.00</text>
<text x="705.20" y="696.28">0.55</text>
<text x="731.69" y="696.28">0.52</text>
<text x="758.17" y="696.28">0.14</text>
<text x="784.66" y="696.28">0.48</text>
<text x="811.14" y="696.28">0.44</text>
<text x="837.63" y="696.28">0.43</text>
<text x="864.11" y="696.28">0.51</text>
<text x="890.60" y="696.28">0.68</text>
<text x="917.09" y="696.28">0.41</text>
<text x="943.57" y="696.28">0.58</text>
<text x="970.06" y="696.28">0.11</text>
<text x="996.54" y="696.28">0.52</text>
<text x="69.54" y="722.73">0.71</text>
<text x="96.03" y="722.73">0.86</text>
<text x="122.51" y="722.73">0.36</text>
<text x="149.00" y="722.73">0.53</text>
<text x="175.49" y="722.73">0.58</text>
<text x="201.97" y="722.73">0.59</text>
<text x="228.46" y="722.73">0.68</text>
<text x="254.94" y="722.73">0.72</text>
<text x="281.43" y="722.73">0.34</text>
<text x="307.91" y="722.73">0.59</text>
<text x="334.40" y="722.73">0.42</text>
<text x="360.89" y="722.73">0.87</text>
<text x="387.37" y="722.73">0.64</text>
<text x="413.86" y="722.73">0.50</text>
<text x="440.34" y="722.73">0.65</text>
<text x="466.83" y="722.73">0.32</text>
<text x="493.31" y="722.73">0.59</text>
<text x="519.80" y="722.73">0.34</text>
<text x="546.29" y="722.73">0.74</text>
<text x="572.77" y="722.73">0.68</text>
<text x="599.26" y="722.73">0.53</text>
<text x="625.74" y="722.73">0.51</text>
<text x="652.23" y="722.73">0.23</text>
<text x="678.71" y="722.73">0.55</text>
<text x="705.20" y="722.73">1.00</text>
<text x="731.69" y="722.73">0.58</text>
<text x="758.17" y="722.73">0.22</text>
<text x="784.66" y="722.73">0.50</text>
<text x="811.14" y="722.73">0.42</text>
<text x="837.63" y="722.73">0.52</text>
<text x="864.11" y="722.73">0.84</text>
<text x="890.60" y="722.73">0.70</text>
<text x="917.09" y="722.73">0.53</text>
<text x="943.57" y="722.73">0.75</text>
<text x="970.06" y="722.73">0.16</text>
<text x="996.54" y="722.73">0.65</text>
<text x="69.54" y="749.18">0.29</text>
<text x="96.03" y="749.18">0.59</text>
<text x="122.51" y="749.18">0.43</text>
<text x="149.00" y="749.18">0.41</text>
<text x="175.49" y="749.18">0.17</text>
<text x="201.97" y="749.18">0.59</text>
<text x="228.46" y="749.18">0.73</text>
<text x="254.94" y="749.18">0.48</text>
<text x="281.43" y="749.18">0.39</text>
<text x="307.91" y="749.18">0.35</text>
<text x="334.40" y="749.18">0.32</text>
<text x="360.89" y="749.18">0.52</text>
<text x="387.37" y="749.18">0.75</text>
<text x="413.86" y="749.18">0.42</text>
<text x="440.34" y="749.18">0.31</text>
<text x="466.83" y="749.18">0.16</text>
<text x="493.31" y="749.18">0.43</text>
<text x="519.80" y="749.18">0.16</text>
<text x="546.29" y="749.18">0.62</text>
<text x="572.77" y="749.18">0.59</text>
<text x="599.26" y="749.18">0.39</text>
<text x="625.74" y="749.18">0.11</text>
<text x="652.23" y="749.18">0.27</text>
<text x="678.71" y="749.18">0.52</text>
<text x="705.20" y="749.18">0.58</text>
<text x="731.69" y="749.18">1.00</text>
<text x="758.17" y="749.18">0.44</text>
<text x="784.66" y="749.18">0.32</text>
<text x="811.14" y="749.18">0.45</text>
<text x="837.63" y="749.18">0.29</text>
<text x="864.11" y="749.18">0.49</text>
<text x="890.60" y="749.18">0.64</text>
<text x="917.09" y="749.18">0.44</text>
<text x="943.57" y="749.18">0.49</text>
<text x="970.06" y="749.18">−0.05</text>
<text x="996.54" y="749.18">0.62</text>
<text x="69.54" y="775.63">0.20</text>
<text x="96.03" y="775.63">0.34</text>
<text x="122.51" y="775.63">0.38</text>
<text x="149.00" y="775.63">0.27</text>
<text x="175.49" y="775.63">−0.04</text>
<text x="201.97" y="775.63">0.33</text>
<text x="228.46" y="775.63">0.32</text>
<text x="254.94" y="775.63">0.35</text>
<text x="281.43" y="775.63">0.19</text>
<text x="307.91" y="775.63">0.09</text>
<text x="334.40" y="775.63">0.24</text>
<text x="360.89" y="775.63">0.29</text>
<text x="387.37" y="775.63">0.41</text>
<text x="413.86" y="775.63">0.32</text>
<text x="440.34" y="775.63">0.19</text>
<text x="466.83" y="775.63">0.07</text>
<text x="493.31" y="775.63">0.32</text>
<text x="519.80" y="775.63">0.17</text>
<text x="546.29" y="775.63">0.30</text>
<text x="572.77" y="775.63">0.29</text>
<text x="599.26" y="775.63">0.14</text>
<text x="625.74" y="775.63">0.00</text>
<text x="652.23" y="775.63">0.15</text>
<text x="678.71" y="775.63">0.14</text>
<text x="705.20" y="775.63">0.22</text>
<text x="731.69" y="775.63">0.44</text>
<text x="758.17" y="775.63">1.00</text>
<text x="784.66" y="775.63">0.23</text>
<text x="811.14" y="775.63">0.23</text>
<text x="837.63" y="775.63">0.23</text>
<text x="864.11" y="775.63">0.36</text>
<text x="890.60" y="775.63">0.35</text>
<text x="917.09" y="775.63">0.23</text>
<text x="943.57" y="775.63">0.17</text>
<text x="970.06" y="775.63">−0.12</text>
<text x="996.54" y="775.63">0.32</text>
<text x="69.54" y="802.08">0.27</text>
<text x="96.03" y="802.08">0.38</text>
<text x="122.51" y="802.08">0.49</text>
<text x="149.00" y="802.08">0.42</text>
<text x="175.49" y="802.08">0.26</text>
<text x="201.97" y="802.08">0.62</text>
<text x="228.46" y="802.08">0.26</text>
<text x="254.94" y="802.08">0.78</text>
<text x="281.43" y="802.08">0.24</text>
<text x="307.91" y="802.08">0.21</text>
<text x="334.40" y="802.08">0.46</text>
<text x="360.89" y="802.08">0.44</text>
<text x="387.37" y="802.08">0.39</text>
<text x="413.86" y="802.08">0.35</text>
<text x="440.34" y="802.08">0.81</text>
<text x="466.83" y="802.08">0.18</text>
<text x="493.31" y="802.08">0.72</text>
<text x="519.80" y="802.08">0.25</text>
<text x="546.29" y="802.08">0.67</text>
<text x="572.77" y="802.08">0.60</text>
<text x="599.26" y="802.08">0.56</text>
<text x="625.74" y="802.08">0.43</text>
<text x="652.23" y="802.08">0.17</text>
<text x="678.71" y="802.08">0.48</text>
<text x="705.20" y="802.08">0.50</text>
<text x="731.69" y="802.08">0.32</text>
<text x="758.17" y="802.08">0.23</text>
<text x="784.66" y="802.08">1.00</text>
<text x="811.14" y="802.08">0.61</text>
<text x="837.63" y="802.08">0.78</text>
<text x="864.11" y="802.08">0.54</text>
<text x="890.60" y="802.08">0.77</text>
<text x="917.09" y="802.08">0.54</text>
<text x="943.57" y="802.08">0.44</text>
<text x="970.06" y="802.08">−0.17</text>
<text x="996.54" y="802.08">0.59</text>
<text x="69.54" y="828.53">0.21</text>
<text x="96.03" y="828.53">0.36</text>
<text x="122.51" y="828.53">0.36</text>
<text x="149.00" y="828.53">0.32</text>
<text x="175.49" y="828.53">0.20</text>
<text x="201.97" y="828.53">0.43</text>
<text x="228.46" y="828.53">0.38</text>
<text x="254.94" y="828.53">0.52</text>
<text x="281.43" y="828.53">0.34</text>
<text x="307.91" y="828.53">0.16</text>
<text x="334.40" y="828.53">0.35</text>
<text x="360.89" y="828.53">0.38</text>
<text x="387.37" y="828.53">0.42</text>
<text x="413.86" y="828.53">0.27</text>
<text x="440.34" y="828.53">0.51</text>
<text x="466.83" y="828.53">0.14</text>
<text x="493.31" y="828.53">0.46</text>
<text x="519.80" y="828.53">0.25</text>
<text x="546.29" y="828.53">0.55</text>
<text x="572.77" y="828.53">0.46</text>
<text x="599.26" y="828.53">0.48</text>
<text x="625.74" y="828.53">0.22</text>
<text x="652.23" y="828.53">0.15</text>
<text x="678.71" y="828.53">0.44</text>
<text x="705.20" y="828.53">0.42</text>
<text x="731.69" y="828.53">0.45</text>
<text x="758.17" y="828.53">0.23</text>
<text x="784.66" y="828.53">0.61</text>
<text x="811.14" y="828.53">1.00</text>
<text x="837.63" y="828.53">0.49</text>
<text x="864.11" y="828.53">0.38</text>
<text x="890.60" y="828.53">0.58</text>
<text x="917.09" y="828.53">0.50</text>
<text x="943.57" y="828.53">0.44</text>
<text x="970.06" y="828.53">−0.17</text>
<text x="996.54" y="828.53">0.57</text>
<text x="69.54" y="854.98">0.35</text>
<text x="96.03" y="854.98">0.45</text>
<text x="122.51" y="854.98">0.53</text>
<text x="149.00" y="854.98">0.49</text>
<text x="175.49" y="854.98">0.30</text>
<text x="201.97" y="854.98">0.60</text>
<text x="228.46" y="854.98">0.23</text>
<text x="254.94" y="854.98">0.81</text>
<text x="281.43" y="854.98">0.18</text>
<text x="307.91" y="854.98">0.26</text>
<text x="334.40" y="854.98">0.44</text>
<text x="360.89" y="854.98">0.50</text>
<text x="387.37" y="854.98">0.38</text>
<text x="413.86" y="854.98">0.44</text>
<text x="440.34" y="854.98">0.79</text>
<text x="466.83" y="854.98">0.30</text>
<text x="493.31" y="854.98">0.76</text>
<text x="519.80" y="854.98">0.24</text>
<text x="546.29" y="854.98">0.62</text>
<text x="572.77" y="854.98">0.53</text>
<text x="599.26" y="854.98">0.54</text>
<text x="625.74" y="854.98">0.43</text>
<text x="652.23" y="854.98">0.24</text>
<text x="678.71" y="854.98">0.43</text>
<text x="705.20" y="854.98">0.52</text>
<text x="731.69" y="854.98">0.29</text>
<text x="758.17" y="854.98">0.23</text>
<text x="784.66" y="854.98">0.78</text>
<text x="811.14" y="854.98">0.49</text>
<text x="837.63" y="854.98">1.00</text>
<text x="864.11" y="854.98">0.60</text>
<text x="890.60" y="854.98">0.67</text>
<text x="917.09" y="854.98">0.55</text>
<text x="943.57" y="854.98">0.50</text>
<text x="970.06" y="854.98">−0.14</text>
<text x="996.54" y="854.98">0.54</text>
<text x="69.54" y="881.43">0.78</text>
<text x="96.03" y="881.43">0.92</text>
<text x="122.51" y="881.43">0.42</text>
<text x="149.00" y="881.43">0.58</text>
<text x="175.49" y="881.43">0.58</text>
<text x="201.97" y="881.43">0.63</text>
<text x="228.46" y="881.43">0.49</text>
<text x="254.94" y="881.43">0.81</text>
<text x="281.43" y="881.43">0.28</text>
<text x="307.91" y="881.43">0.56</text>
<text x="334.40" y="881.43">0.48</text>
<text x="360.89" y="881.43">0.90</text>
<text x="387.37" y="881.43">0.61</text>
<text x="413.86" y="881.43">0.58</text>
<text x="440.34" y="881.43">0.71</text>
<text x="466.83" y="881.43">0.36</text>
<text x="493.31" y="881.43">0.66</text>
<text x="519.80" y="881.43">0.28</text>
<text x="546.29" y="881.43">0.67</text>
<text x="572.77" y="881.43">0.63</text>
<text x="599.26" y="881.43">0.51</text>
<text x="625.74" y="881.43">0.55</text>
<text x="652.23" y="881.43">0.28</text>
<text x="678.71" y="881.43">0.51</text>
<text x="705.20" y="881.43">0.84</text>
<text x="731.69" y="881.43">0.49</text>
<text x="758.17" y="881.43">0.36</text>
<text x="784.66" y="881.43">0.54</text>
<text x="811.14" y="881.43">0.38</text>
<text x="837.63" y="881.43">0.60</text>
<text x="864.11" y="881.43">1.00</text>
<text x="890.60" y="881.43">0.70</text>
<text x="917.09" y="881.43">0.58</text>
<text x="943.57" y="881.43">0.66</text>
<text x="970.06" y="881.43">0.15</text>
<text x="996.54" y="881.43">0.64</text>
<text x="69.54" y="907.88">0.42</text>
<text x="96.03" y="907.88">0.66</text>
<text x="122.51" y="907.88">0.55</text>
<text x="149.00" y="907.88">0.53</text>
<text x="175.49" y="907.88">0.32</text>
<text x="201.97" y="907.88">0.84</text>
<text x="228.46" y="907.88">0.53</text>
<text x="254.94" y="907.88">0.81</text>
<text x="281.43" y="907.88">0.35</text>
<text x="307.91" y="907.88">0.45</text>
<text x="334.40" y="907.88">0.57</text>
<text x="360.89" y="907.88">0.65</text>
<text x="387.37" y="907.88">0.74</text>
<text x="413.86" y="907.88">0.58</text>
<text x="440.34" y="907.88">0.78</text>
<text x="466.83" y="907.88">0.34</text>
<text x="493.31" y="907.88">0.80</text>
<text x="519.80" y="907.88">0.25</text>
<text x="546.29" y="907.88">0.86</text>
<text x="572.77" y="907.88">0.80</text>
<text x="599.26" y="907.88">0.60</text>
<text x="625.74" y="907.88">0.38</text>
<text x="652.23" y="907.88">0.25</text>
<text x="678.71" y="907.88">0.68</text>
<text x="705.20" y="907.88">0.70</text>
<text x="731.69" y="907.88">0.64</text>
<text x="758.17" y="907.88">0.35</text>
<text x="784.66" y="907.88">0.77</text>
<text x="811.14" y="907.88">0.58</text>
<text x="837.63" y="907.88">0.67</text>
<text x="864.11" y="907.88">0.70</text>
<text x="890.60" y="907.88">1.00</text>
<text x="917.09" y="907.88">0.63</text>
<text x="943.57" y="907.88">0.61</text>
<text x="970.06" y="907.88">−0.05</text>
<text x="996.54" y="907.88">0.76</text>
<text x="69.54" y="934.33">0.34</text>
<text x="96.03" y="934.33">0.49</text>
<text x="122.51" y="934.33">0.42</text>
<text x="149.00" y="934.33">0.43</text>
<text x="175.49" y="934.33">0.36</text>
<text x="201.97" y="934.33">0.50</text>
<text x="228.46" y="934.33">0.39</text>
<text x="254.94" y="934.33">0.63</text>
<text x="281.43" y="934.33">0.26</text>
<text x="307.91" y="934.33">0.32</text>
<text x="334.40" y="934.33">0.44</text>
<text x="360.89" y="934.33">0.51</text>
<text x="387.37" y="934.33">0.52</text>
<text x="413.86" y="934.33">0.48</text>
<text x="440.34" y="934.33">0.54</text>
<text x="466.83" y="934.33">0.18</text>
<text x="493.31" y="934.33">0.55</text>
<text x="519.80" y="934.33">0.24</text>
<text x="546.29" y="934.33">0.57</text>
<text x="572.77" y="934.33">0.55</text>
<text x="599.26" y="934.33">0.47</text>
<text x="625.74" y="934.33">0.40</text>
<text x="652.23" y="934.33">0.23</text>
<text x="678.71" y="934.33">0.41</text>
<text x="705.20" y="934.33">0.53</text>
<text x="731.69" y="934.33">0.44</text>
<text x="758.17" y="934.33">0.23</text>
<text x="784.66" y="934.33">0.54</text>
<text x="811.14" y="934.33">0.50</text>
<text x="837.63" y="934.33">0.55</text>
<text x="864.11" y="934.33">0.58</text>
<text x="890.60" y="934.33">0.63</text>
<text x="917.09" y="934.33">1.00</text>
<text x="943.57" y="934.33">0.38</text>
<text x="970.06" y="934.33">0.00</text>
<text x="996.54" y="934.33">0.61</text>
<text x="69.54" y="960.78">0.54</text>
<text x="96.03" y="960.78">0.76</text>
<text x="122.51" y="960.78">0.33</text>
<text x="149.00" y="960.78">0.47</text>
<text x="175.49" y="960.78">0.40</text>
<text x="201.97" y="960.78">0.54</text>
<text x="228.46" y="960.78">0.60</text>
<text x="254.94" y="960.78">0.60</text>
<text x="281.43" y="960.78">0.24</text>
<text x="307.91" y="960.78">0.44</text>
<text x="334.40" y="960.78">0.39</text>
<text x="360.89" y="960.78">0.79</text>
<text x="387.37" y="960.78">0.58</text>
<text x="413.86" y="960.78">0.48</text>
<text x="440.34" y="960.78">0.62</text>
<text x="466.83" y="960.78">0.23</text>
<text x="493.31" y="960.78">0.52</text>
<text x="519.80" y="960.78">0.24</text>
<text x="546.29" y="960.78">0.77</text>
<text x="572.77" y="960.78">0.64</text>
<text x="599.26" y="960.78">0.40</text>
<text x="625.74" y="960.78">0.35</text>
<text x="652.23" y="960.78">0.30</text>
<text x="678.71" y="960.78">0.58</text>
<text x="705.20" y="960.78">0.75</text>
<text x="731.69" y="960.78">0.49</text>
<text x="758.17" y="960.78">0.17</text>
<text x="784.66" y="960.78">0.44</text>
<text x="811.14" y="960.78">0.44</text>
<text x="837.63" y="960.78">0.50</text>
<text x="864.11" y="960.78">0.66</text>
<text x="890.60" y="960.78">0.61</text>
<text x="917.09" y="960.78">0.38</text>
<text x="943.57" y="960.78">1.00</text>
<text x="970.06" y="960.78">0.08</text>
<text x="996.54" y="960.78">0.58</text>
<text x="69.54" y="987.23">0.18</text>
<text x="96.03" y="987.23">0.18</text>
<text x="122.51" y="987.23">−0.11</text>
<text x="149.00" y="987.23">0.12</text>
<text x="175.49" y="987.23">0.33</text>
<text x="201.97" y="987.23">0.07</text>
<text x="228.46" y="987.23">0.03</text>
<text x="254.94" y="987.23">−0.09</text>
<text x="281.43" y="987.23">0.07</text>
<text x="307.91" y="987.23">0.27</text>
<text x="334.40" y="987.23">0.08</text>
<text x="360.89" y="987.23">0.13</text>
<text x="387.37" y="987.23">0.04</text>
<text x="413.86" y="987.23">0.22</text>
<text x="440.34" y="987.23">−0.04</text>
<text x="466.83" y="987.23">0.09</text>
<text x="493.31" y="987.23">−0.09</text>
<text x="519.80" y="987.23">−0.05</text>
<text x="546.29" y="987.23">−0.03</text>
<text x="572.77" y="987.23">0.07</text>
<text x="599.26" y="987.23">−0.17</text>
<text x="625.74" y="987.23">0.20</text>
<text x="652.23" y="987.23">0.03</text>
<text x="678.71" y="987.23">0.11</text>
<text x="705.20" y="987.23">0.16</text>
<text x="731.69" y="987.23">−0.05</text>
<text x="758.17" y="987.23">−0.12</text>
<text x="784.66" y="987.23">−0.17</text>
<text x="811.14" y="987.23">−0.17</text>
<text x="837.63" y="987.23">−0.14</text>
<text x="864.11" y="987.23">0.15</text>
<text x="890.60" y="987.23">−0.05</text>
<text x="917.09" y="987.23">0.00</text>
<text x="943.57" y="987.23">0.08</text>
<text x="970.06" y="987.23">1.00</text>
<text x="996.54" y="987.23">−0.05</text>
<text x="69.54" y="1013.68">0.41</text>
<text x="96.03" y="1013.68">0.62</text>
<text x="122.51" y="1013.68">0.55</text>
<text x="149.00" y="1013.68">0.48</text>
<text x="175.49" y="1013.68">0.28</text>
<text x="201.97" y="1013.68">0.63</text>
<text x="228.46" y="1013.68">0.61</text>
<text x="254.94" y="1013.68">0.70</text>
<text x="281.43" y="1013.68">0.39</text>
<text x="307.91" y="1013.68">0.36</text>
<text x="334.40" y="1013.68">0.48</text>
<text x="360.89" y="1013.68">0.63</text>
<text x="387.37" y="1013.68">0.68</text>
<text x="413.86" y="1013.68">0.44</text>
<text x="440.34" y="1013.68">0.59</text>
<text x="466.83" y="1013.68">0.29</text>
<text x="493.31" y="1013.68">0.60</text>
<text x="519.80" y="1013.68">0.15</text>
<text x="546.29" y="1013.68">0.69</text>
<text x="572.77" y="1013.68">0.65</text>
<text x="599.26" y="1013.68">0.60</text>
<text x="625.74" y="1013.68">0.27</text>
<text x="652.23" y="1013.68">0.24</text>
<text x="678.71" y="1013.68">0.52</text>
<text x="705.20" y="1013.68">0.65</text>
<text x="731.69" y="1013.68">0.62</text>
<text x="758.17" y="1013.68">0.32</text>
<text x="784.66" y="1013.68">0.59</text>
<text x="811.14" y="1013.68">0.57</text>
<text x="837.63" y="1013.68">0.54</text>
<text x="864.11" y="1013.68">0.64</text>
<text x="890.60" y="1013.68">0.76</text>
<text x="917.09" y="1013.68">0.61</text>
<text x="943.57" y="1013.68">0.58</text>
<text x="970.06" y="1013.68">−0.05</text>
<text x="996.54" y="1013.68">1.00</text>
</g>
<g font-size="9.80" text-anchor="end" fill="#000">
<text transform="translate(51.7,88.92) scale(1,1.120)">GPNMB</text>
<text transform="translate(51.7,115.38) scale(1,1.120)">HAVCR2</text>
<text transform="translate(51.7,141.82) scale(1,1.120)">TMIGD2</text>
<text transform="translate(51.7,168.28) scale(1,1.120)">CD40</text>
<text transform="translate(51.7,194.72) scale(1,1.120)">NRP1</text>
<text transform="translate(51.7,221.18) scale(1,1.120)">PDCD1</text>
<text transform="translate(51.7,247.62) scale(1,1.120)">CD274</text>
<text transform="translate(51.7,274.07) scale(1,1.120)">CD48</text>
<text transform="translate(51.7,300.53) scale(1,1.120)">KIR3DL1</text>
<text transform="translate(51.7,326.98) scale(1,1.120)">TNFSF4</text>
<text transform="translate(51.7,353.43) scale(1,1.120)">TNFRSF8</text>
<text transform="translate(51.7,379.88) scale(1,1.120)">CD86</text>
<text transform="translate(51.7,406.33) scale(1,1.120)">LAG3</text>
<text transform="translate(51.7,432.78) scale(1,1.120)">TNFRSF4</text>
<text transform="translate(51.7,459.23) scale(1,1.120)">CD28</text>
<text transform="translate(51.7,485.68) scale(1,1.120)">TNFSF18</text>
<text transform="translate(51.7,512.13) scale(1,1.120)">CD27</text>
<text transform="translate(51.7,538.58) scale(1,1.120)">CD44</text>
<text transform="translate(51.7,565.03) scale(1,1.120)">ICOS</text>
<text transform="translate(51.7,591.48) scale(1,1.120)">TNFRSF9</text>
<text transform="translate(51.7,617.93) scale(1,1.120)">CD200R1</text>
<text transform="translate(51.7,644.38) scale(1,1.120)">CD200</text>
<text transform="translate(51.7,670.83) scale(1,1.120)">CD70</text>
<text transform="translate(51.7,697.28) scale(1,1.120)">CTLA4</text>
<text transform="translate(51.7,723.73) scale(1,1.120)">PDCD1LG2</text>
<text transform="translate(51.7,750.18) scale(1,1.120)">IDO1</text>
<text transform="translate(51.7,776.63) scale(1,1.120)">LGALS9</text>
<text transform="translate(51.7,803.08) scale(1,1.120)">BTLA</text>
<text transform="translate(51.7,829.53) scale(1,1.120)">IDO2</text>
<text transform="translate(51.7,855.98) scale(1,1.120)">CD40LG</text>
<text transform="translate(51.7,882.43) scale(1,1.120)">LAIR1</text>
<text transform="translate(51.7,908.88) scale(1,1.120)">TIGIT</text>
<text transform="translate(51.7,935.33) scale(1,1.120)">TNFSF14</text>
<text transform="translate(51.7,961.78) scale(1,1.120)">CD80</text>
<text transform="translate(51.7,988.23) scale(1,1.120)">CD276</text>
<text transform="translate(51.7,1014.68) scale(1,1.120)">CD244</text>
</g>
<g font-size="9.80" text-anchor="start" fill="#000">
<text transform="translate(73.69,68.6) rotate(-90) scale(1,1.05)">GPNMB</text>
<text transform="translate(100.18,68.6) rotate(-90) scale(1,1.05)">HAVCR2</text>
<text transform="translate(126.66,68.6) rotate(-90) scale(1,1.05)">TMIGD2</text>
<text transform="translate(153.15,68.6) rotate(-90) scale(1,1.05)">CD40</text>
<text transform="translate(179.64,68.6) rotate(-90) scale(1,1.05)">NRP1</text>
<text transform="translate(206.12,68.6) rotate(-90) scale(1,1.05)">PDCD1</text>
<text transform="translate(232.61,68.6) rotate(-90) scale(1,1.05)">CD274</text>
<text transform="translate(259.09,68.6) rotate(-90) scale(1,1.05)">CD48</text>
<text transform="translate(285.58,68.6) rotate(-90) scale(1,1.05)">KIR3DL1</text>
<text transform="translate(312.06,68.6) rotate(-90) scale(1,1.05)">TNFSF4</text>
<text transform="translate(338.55,68.6) rotate(-90) scale(1,1.05)">TNFRSF8</text>
<text transform="translate(365.04,68.6) rotate(-90) scale(1,1.05)">CD86</text>
<text transform="translate(391.52,68.6) rotate(-90) scale(1,1.05)">LAG3</text>
<text transform="translate(418.01,68.6) rotate(-90) scale(1,1.05)">TNFRSF4</text>
<text transform="translate(444.49,68.6) rotate(-90) scale(1,1.05)">CD28</text>
<text transform="translate(470.98,68.6) rotate(-90) scale(1,1.05)">TNFSF18</text>
<text transform="translate(497.46,68.6) rotate(-90) scale(1,1.05)">CD27</text>
<text transform="translate(523.95,68.6) rotate(-90) scale(1,1.05)">CD44</text>
<text transform="translate(550.44,68.6) rotate(-90) scale(1,1.05)">ICOS</text>
<text transform="translate(576.92,68.6) rotate(-90) scale(1,1.05)">TNFRSF9</text>
<text transform="translate(603.41,68.6) rotate(-90) scale(1,1.05)">CD200R1</text>
<text transform="translate(629.89,68.6) rotate(-90) scale(1,1.05)">CD200</text>
<text transform="translate(656.38,68.6) rotate(-90) scale(1,1.05)">CD70</text>
<text transform="translate(682.86,68.6) rotate(-90) scale(1,1.05)">CTLA4</text>
<text transform="translate(709.35,68.6) rotate(-90) scale(1,1.05)">PDCD1LG2</text>
<text transform="translate(735.84,68.6) rotate(-90) scale(1,1.05)">IDO1</text>
<text transform="translate(762.32,68.6) rotate(-90) scale(1,1.05)">LGALS9</text>
<text transform="translate(788.81,68.6) rotate(-90) scale(1,1.05)">BTLA</text>
<text transform="translate(815.29,68.6) rotate(-90) scale(1,1.05)">IDO2</text>
<text transform="translate(841.78,68.6) rotate(-90) scale(1,1.05)">CD40LG</text>
<text transform="translate(868.26,68.6) rotate(-90) scale(1,1.05)">LAIR1</text>
<text transform="translate(894.75,68.6) rotate(-90) scale(1,1.05)">TIGIT</text>
<text transform="translate(921.24,68.6) rotate(-90) scale(1,1.05)">TNFSF14</text>
<text transform="translate(947.72,68.6) rotate(-90) scale(1,1.05)">CD80</text>
<text transform="translate(974.21,68.6) rotate(-90) scale(1,1.05)">CD276</text>
<text transform="translate(1000.69,68.6) rotate(-90) scale(1,1.05)">CD244</text>
</g>
<g shape-rendering="crispEdges">
<rect x="1027.50" y="1004.97" width="36.50" height="19.43" fill="#1e4a9e"/>
<rect x="1027.50" y="985.94" width="36.50" height="19.43" fill="#204b9e"/>
<rect x="1027.50" y="966.90" width="36.50" height="19.43" fill="#234c9f"/>
<rect x="1027.50" y="947.87" width="36.50" height="19.43" fill="#264da0"/>
<rect x="1027.50" y="928.84" width="36.50" height="19.43" fill="#284ea0"/>
<rect x="1027.50" y="909.81" width="36.50" height="19.43" fill="#2f50a1"/>
<rect x="1027.50" y="890.78" width="36.50" height="19.43" fill="#3653a2"/>
<rect x="1027.50" y="871.74" width="36.50" height="19.43" fill="#3d56a4"/>
<rect x="1027.50" y="852.71" width="36.50" height="19.43" fill="#4458a5"/>
<rect x="1027.50" y="833.68" width="36.50" height="19.43" fill="#4e5ea9"/>
<rect x="1027.50" y="814.65" width="36.50" height="19.43" fill="#5864ac"/>
<rect x="1027.50" y="795.62" width="36.50" height="19.43" fill="#626ab0"/>
<rect x="1027.50" y="776.58" width="36.50" height="19.43" fill="#6f75b6"/>
<rect x="1027.50" y="757.55" width="36.50" height="19.43" fill="#7c7fbd"/>
<rect x="1027.50" y="738.52" width="36.50" height="19.43" fill="#898ac3"/>
<rect x="1027.50" y="719.49" width="36.50" height="19.43" fill="#9495c9"/>
<rect x="1027.50" y="700.46" width="36.50" height="19.43" fill="#9fa1cf"/>
<rect x="1027.50" y="681.42" width="36.50" height="19.43" fill="#aaacd5"/>
<rect x="1027.50" y="662.39" width="36.50" height="19.43" fill="#b6b7db"/>
<rect x="1027.50" y="643.36" width="36.50" height="19.43" fill="#c2c1e2"/>
<rect x="1027.50" y="624.33" width="36.50" height="19.43" fill="#cecce8"/>
<rect x="1027.50" y="605.30" width="36.50" height="19.43" fill="#d8d6ec"/>
<rect x="1027.50" y="586.26" width="36.50" height="19.43" fill="#e1e0f1"/>
<rect x="1027.50" y="567.23" width="36.50" height="19.43" fill="#ebeaf5"/>
<rect x="1027.50" y="548.20" width="36.50" height="19.43" fill="#f9f9fb"/>
<rect x="1027.50" y="529.17" width="36.50" height="19.43" fill="#fcfafa"/>
<rect x="1027.50" y="510.14" width="36.50" height="19.43" fill="#fceded"/>
<rect x="1027.50" y="491.10" width="36.50" height="19.43" fill="#fae2e3"/>
<rect x="1027.50" y="472.07" width="36.50" height="19.43" fill="#f9d8d9"/>
<rect x="1027.50" y="453.04" width="36.50" height="19.43" fill="#f7cdcf"/>
<rect x="1027.50" y="434.01" width="36.50" height="19.43" fill="#f5c1c3"/>
<rect x="1027.50" y="414.98" width="36.50" height="19.43" fill="#f4b6b8"/>
<rect x="1027.50" y="395.94" width="36.50" height="19.43" fill="#f2aaac"/>
<rect x="1027.50" y="376.91" width="36.50" height="19.43" fill="#f1a0a1"/>
<rect x="1027.50" y="357.88" width="36.50" height="19.43" fill="#f09697"/>
<rect x="1027.50" y="338.85" width="36.50" height="19.43" fill="#ef8c8c"/>
<rect x="1027.50" y="319.82" width="36.50" height="19.43" fill="#ed8182"/>
<rect x="1027.50" y="300.78" width="36.50" height="19.43" fill="#ec7778"/>
<rect x="1027.50" y="281.75" width="36.50" height="19.43" fill="#ea6c6e"/>
<rect x="1027.50" y="262.72" width="36.50" height="19.43" fill="#ea6365"/>
<rect x="1027.50" y="243.69" width="36.50" height="19.43" fill="#ea5b5b"/>
<rect x="1027.50" y="224.66" width="36.50" height="19.43" fill="#ea5252"/>
<rect x="1027.50" y="205.62" width="36.50" height="19.43" fill="#e94949"/>
<rect x="1027.50" y="186.59" width="36.50" height="19.43" fill="#e74040"/>
<rect x="1027.50" y="167.56" width="36.50" height="19.43" fill="#e63737"/>
<rect x="1027.50" y="148.53" width="36.50" height="19.43" fill="#e62e30"/>
<rect x="1027.50" y="129.50" width="36.50" height="19.43" fill="#e52529"/>
<rect x="1027.50" y="110.46" width="36.50" height="19.43" fill="#e51c22"/>
<rect x="1027.50" y="91.43" width="36.50" height="19.43" fill="#e6181f"/>
<rect x="1027.50" y="72.40" width="36.50" height="19.43" fill="#e6151c"/>
</g>
<rect x="1027.50" y="72.40" width="36.50" height="951.60" fill="none" stroke="#000" stroke-opacity="0.75" stroke-width="0.7"/>
<g stroke="#444" stroke-width="1">
<line x1="1064.00" y1="72.50" x2="1071.3" y2="72.50"/>
<line x1="1064.00" y1="167.50" x2="1071.3" y2="167.50"/>
<line x1="1064.00" y1="262.50" x2="1071.3" y2="262.50"/>
<line x1="1064.00" y1="357.50" x2="1071.3" y2="357.50"/>
<line x1="1064.00" y1="453.50" x2="1071.3" y2="453.50"/>
<line x1="1064.00" y1="548.50" x2="1071.3" y2="548.50"/>
<line x1="1064.00" y1="643.50" x2="1071.3" y2="643.50"/>
<line x1="1064.00" y1="738.50" x2="1071.3" y2="738.50"/>
<line x1="1064.00" y1="833.50" x2="1071.3" y2="833.50"/>
<line x1="1064.00" y1="928.50" x2="1071.3" y2="928.50"/>
<line x1="1064.00" y1="1024.50" x2="1071.3" y2="1024.50"/>
</g>
<g font-size="8" text-anchor="middle" fill="#000">
<text transform="translate(1109.7,75.90) scale(1,1.12)">1</text>
<text transform="translate(1109.7,171.06) scale(1,1.12)">0.8</text>
<text transform="translate(1109.7,266.22) scale(1,1.12)">0.6</text>
<text transform="translate(1109.7,361.38) scale(1,1.12)">0.4</text>
<text transform="translate(1109.7,456.54) scale(1,1.12)">0.2</text>
<text transform="translate(1109.7,551.70) scale(1,1.12)">0</text>
<text transform="translate(1109.7,646.86) scale(1,1.12)">−0.2</text>
<text transform="translate(1109.7,742.02) scale(1,1.12)">−0.4</text>
<text transform="translate(1109.7,837.18) scale(1,1.12)">−0.6</text>
<text transform="translate(1109.7,932.34) scale(1,1.12)">−0.8</text>
<text transform="translate(1109.7,1027.50) scale(1,1.12)">−1</text>
</g>
</svg></body></html>
